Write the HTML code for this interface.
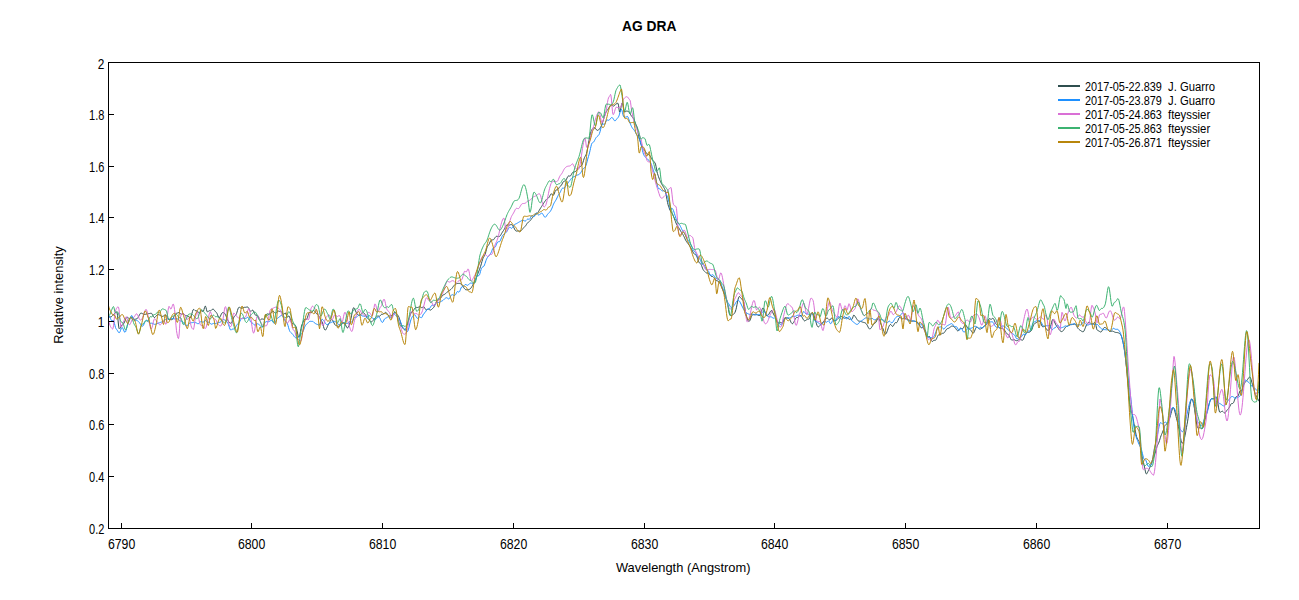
<!DOCTYPE html>
<html><head><meta charset="utf-8"><title>AG DRA</title><style>
html,body{margin:0;padding:0;background:#fff;width:1299px;height:600px;overflow:hidden}
svg{display:block}
text{font-family:"Liberation Sans",sans-serif;fill:#000}
.t{font-size:13.8px}
.lg{font-size:12.3px}
.ax{font-size:13px}
.title{font-size:14px;font-weight:bold}
</style></head><body>
<svg width="1299" height="600" viewBox="0 0 1299 600">
<defs><clipPath id="c"><rect x="108" y="62" width="1152" height="467"/></clipPath></defs>
<g clip-path="url(#c)" fill="none" stroke-width="1" stroke-linejoin="round">
<polyline stroke="#2f4f4f" points="108,317.8 108.5,317.4 109,317.1 109.5,317.0 110,317.0 110.5,316.9 111,316.8 111.5,316.6 112,316.2 112.5,315.7 113,315.1 113.5,314.6 114,314.0 114.5,313.5 115,312.9 115.5,312.5 116,312.1 116.5,311.9 117,312.3 117.5,315.3 118,320.1 118.5,325.0 119,328.4 119.5,328.9 120,328.4 120.5,327.5 121,326.5 121.5,325.5 122,324.7 122.5,324.3 123,324.1 123.5,323.8 124,323.2 124.5,322.2 125,320.9 125.5,319.5 126,318.3 126.5,317.5 127,317.2 127.5,317.3 128,317.7 128.5,318.1 129,318.4 129.5,318.6 130,318.4 130.5,318.0 131,317.5 131.5,317.1 132,316.9 132.5,317.2 133,317.8 133.5,318.5 134,319.1 134.5,319.3 135,319.3 135.5,319.2 136,319.0 136.5,318.8 137,318.7 137.5,318.3 138,317.7 138.5,316.8 139,315.8 139.5,314.8 140,313.9 140.5,313.3 141,313.1 141.5,313.2 142,313.4 142.5,313.7 143,314.0 143.5,314.2 144,314.4 144.5,314.5 145,314.4 145.5,314.3 146,314.2 146.5,314.0 147,313.9 147.5,313.8 148,313.7 148.5,313.6 149,313.6 149.5,313.5 150,313.4 150.5,313.3 151,313.2 151.5,313.3 152,313.9 152.5,314.8 153,315.8 153.5,316.8 154,317.4 154.5,317.5 155,317.3 155.5,316.7 156,316.1 156.5,315.5 157,315.0 157.5,314.7 158,314.6 158.5,314.6 159,314.7 159.5,315.0 160,315.3 160.5,315.6 161,315.9 161.5,316.2 162,316.4 162.5,316.4 163,316.3 163.5,316.0 164,315.6 164.5,315.2 165,315.0 165.5,315.0 166,315.2 166.5,315.8 167,316.8 167.5,317.9 168,318.7 168.5,319.4 169,319.6 169.5,319.5 170,319.5 170.5,319.5 171,319.6 171.5,319.7 172,319.6 172.5,319.4 173,318.8 173.5,317.7 174,316.5 174.5,315.4 175,314.5 175.5,313.8 176,313.4 176.5,313.3 177,313.2 177.5,313.0 178,312.7 178.5,312.5 179,312.6 179.5,312.9 180,313.4 180.5,313.9 181,314.3 181.5,314.4 182,314.1 182.5,313.8 183,313.5 183.5,313.7 184,314.1 184.5,314.8 185,315.3 185.5,315.6 186,315.7 186.5,315.7 187,315.8 187.5,315.9 188,316.2 188.5,316.5 189,317.0 189.5,317.5 190,318.0 190.5,317.8 191,316.9 191.5,315.2 192,313.3 192.5,311.4 193,310.0 193.5,309.4 194,309.5 194.5,310.0 195,310.5 195.5,310.7 196,310.7 196.5,310.8 197,310.9 197.5,311.3 198,311.8 198.5,312.4 199,312.8 199.5,313.0 200,312.6 200.5,311.9 201,311.1 201.5,310.7 202,310.9 202.5,311.3 203,311.5 203.5,311.0 204,309.5 204.5,307.6 205,306.3 205.5,306.2 206,307.6 206.5,309.7 207,311.4 207.5,311.9 208,311.7 208.5,311.1 209,310.8 209.5,310.7 210,310.8 210.5,310.8 211,310.6 211.5,310.2 212,309.6 212.5,309.3 213,309.1 213.5,309.3 214,309.7 214.5,310.4 215,311.0 215.5,311.7 216,312.2 216.5,312.7 217,313.5 217.5,314.7 218,316.0 218.5,317.1 219,317.6 219.5,317.5 220,316.8 220.5,315.9 221,314.8 221.5,313.8 222,313.0 222.5,312.6 223,312.5 223.5,312.5 224,312.8 224.5,313.2 225,313.9 225.5,314.8 226,315.9 226.5,317.1 227,318.4 227.5,319.6 228,320.6 228.5,321.4 229,322.1 229.5,322.7 230,323.1 230.5,323.2 231,323.1 231.5,322.7 232,321.9 232.5,320.8 233,319.4 233.5,318.0 234,316.8 234.5,316.2 235,315.8 235.5,315.4 236,314.7 236.5,313.7 237,312.1 237.5,310.4 238,308.8 238.5,307.7 239,307.3 239.5,307.3 240,307.6 240.5,307.9 241,308.2 241.5,308.3 242,308.2 242.5,308.0 243,307.7 243.5,307.5 244,307.3 244.5,307.3 245,307.3 245.5,307.3 246,307.2 246.5,307.1 247,306.9 247.5,307.0 248,307.2 248.5,307.9 249,308.8 249.5,309.8 250,310.8 250.5,311.3 251,311.3 251.5,311.0 252,310.5 252.5,310.2 253,310.3 253.5,311.0 254,312.1 254.5,313.4 255,314.5 255.5,315.2 256,315.4 256.5,315.4 257,315.2 257.5,315.3 258,315.9 258.5,317.0 259,318.4 259.5,319.5 260,320.0 260.5,319.9 261,319.4 261.5,319.0 262,318.9 262.5,319.0 263,319.2 263.5,319.3 264,319.0 264.5,318.3 265,317.3 265.5,316.1 266,315.0 266.5,314.3 267,314.0 267.5,313.9 268,314.0 268.5,314.1 269,314.1 269.5,313.9 270,313.7 270.5,313.3 271,312.9 271.5,312.4 272,312.0 272.5,311.7 273,311.5 273.5,311.5 274,311.9 274.5,312.4 275,312.9 275.5,313.2 276,313.1 276.5,312.6 277,312.0 277.5,311.4 278,311.1 278.5,311.1 279,311.3 279.5,311.4 280,311.4 280.5,311.3 281,311.4 281.5,311.8 282,312.4 282.5,313.3 283,314.0 283.5,314.3 284,314.2 284.5,313.5 285,313.0 285.5,313.0 286,314.1 286.5,315.5 287,316.8 287.5,317.2 288,316.7 288.5,316.0 289,315.9 289.5,316.6 290,318.1 290.5,319.9 291,321.5 291.5,322.7 292,323.3 292.5,323.6 293,323.8 293.5,323.9 294,324.3 294.5,324.7 295,325.3 295.5,325.9 296,326.7 296.5,328.2 297,330.5 297.5,333.0 298,335.3 298.5,336.8 299,337.3 299.5,336.3 300,334.1 300.5,331.4 301,328.5 301.5,326.0 302,324.5 302.5,323.4 303,322.2 303.5,320.9 304,319.9 304.5,319.4 305,319.3 305.5,319.4 306,319.6 306.5,319.3 307,318.6 307.5,317.3 308,315.7 308.5,314.2 309,313.0 309.5,312.3 310,312.4 310.5,312.7 311,312.9 311.5,312.7 312,312.1 312.5,311.3 313,310.7 313.5,310.4 314,310.5 314.5,311.0 315,311.7 315.5,312.4 316,313.1 316.5,313.7 317,314.1 317.5,314.5 318,315.0 318.5,315.5 319,316.3 319.5,317.2 320,318.2 320.5,319.2 321,320.1 321.5,320.9 322,321.8 322.5,323.0 323,324.6 323.5,326.5 324,328.2 324.5,329.5 325,330.1 325.5,330.0 326,329.4 326.5,328.5 327,327.5 327.5,326.3 328,325.2 328.5,324.2 329,323.3 329.5,322.5 330,321.6 330.5,320.7 331,320.0 331.5,319.5 332,319.5 332.5,320.0 333,320.9 333.5,321.9 334,323.0 334.5,324.0 335,324.8 335.5,325.3 336,325.5 336.5,325.7 337,325.9 337.5,326.1 338,326.2 338.5,326.3 339,326.2 339.5,326.0 340,325.7 340.5,325.3 341,324.9 341.5,324.4 342,324.0 342.5,323.6 343,323.2 343.5,322.8 344,322.8 344.5,323.0 345,323.8 345.5,324.8 346,326.0 346.5,327.0 347,327.7 347.5,327.9 348,327.6 348.5,326.9 349,325.8 349.5,324.4 350,322.8 350.5,320.8 351,318.5 351.5,315.8 352,313.1 352.5,310.6 353,308.8 353.5,307.8 354,307.8 354.5,308.6 355,309.8 355.5,310.9 356,312.0 356.5,313.0 357,313.9 357.5,314.5 358,315.0 358.5,315.2 359,315.3 359.5,315.3 360,315.1 360.5,314.7 361,314.2 361.5,313.8 362,313.4 362.5,313.0 363,312.8 363.5,312.8 364,313.0 364.5,313.5 365,314.3 365.5,315.1 366,315.9 366.5,316.7 367,317.5 367.5,318.1 368,318.7 368.5,319.2 369,319.7 369.5,320.3 370,320.8 370.5,321.4 371,321.8 371.5,321.9 372,321.7 372.5,321.2 373,320.6 373.5,319.9 374,319.2 374.5,318.6 375,318.1 375.5,317.7 376,317.3 376.5,316.9 377,316.5 377.5,316.1 378,316.0 378.5,316.1 379,316.2 379.5,316.3 380,316.0 380.5,315.4 381,314.7 381.5,314.3 382,314.2 382.5,314.3 383,314.3 383.5,314.0 384,313.5 384.5,313.0 385,312.6 385.5,312.4 386,312.5 386.5,312.9 387,313.6 387.5,314.3 388,315.0 388.5,315.5 389,315.9 389.5,316.0 390,315.9 390.5,315.8 391,315.6 391.5,315.5 392,315.3 392.5,315.0 393,314.6 393.5,314.1 394,313.3 394.5,312.3 395,312.0 395.5,312.3 396,312.9 396.5,313.6 397,314.4 397.5,315.0 398,315.5 398.5,316.3 399,317.3 399.5,318.9 400,320.7 400.5,322.7 401,324.4 401.5,325.8 402,326.8 402.5,327.6 403,328.3 403.5,329.0 404,329.5 404.5,329.8 405,329.8 405.5,329.3 406,328.3 406.5,327.0 407,325.6 407.5,324.0 408,322.3 408.5,320.6 409,318.8 409.5,317.2 410,315.6 410.5,314.2 411,313.1 411.5,312.4 412,311.9 412.5,311.4 413,310.9 413.5,310.2 414,309.5 414.5,308.7 415,308.1 415.5,307.6 416,307.4 416.5,307.4 417,307.5 417.5,307.5 418,307.5 418.5,307.2 419,306.9 419.5,306.7 420,306.7 420.5,306.9 421,307.3 421.5,307.6 422,307.6 422.5,307.3 423,306.9 423.5,306.6 424,306.8 424.5,307.5 425,308.5 425.5,309.3 426,309.8 426.5,309.9 427,309.7 427.5,309.4 428,309.1 428.5,309.1 429,309.3 429.5,309.7 430,310.0 430.5,310.1 431,309.9 431.5,309.5 432,309.0 432.5,308.6 433,308.1 433.5,307.6 434,306.9 434.5,305.9 435,304.8 435.5,303.6 436,302.5 436.5,301.4 437,300.6 437.5,300.0 438,299.6 438.5,299.3 439,299.1 439.5,299.0 440,298.7 440.5,298.2 441,297.6 441.5,296.9 442,296.2 442.5,295.5 443,295.1 443.5,294.8 444,294.6 444.5,294.4 445,294.1 445.5,293.7 446,293.2 446.5,292.7 447,292.2 447.5,291.8 448,291.4 448.5,291.0 449,290.7 449.5,290.4 450,290.1 450.5,289.7 451,289.3 451.5,288.8 452,288.3 452.5,287.6 453,286.9 453.5,286.2 454,285.6 454.5,285.0 455,284.5 455.5,284.1 456,283.9 456.5,283.7 457,283.6 457.5,283.5 458,283.4 458.5,283.4 459,283.4 459.5,283.4 460,283.5 460.5,283.7 461,284.1 461.5,284.5 462,285.1 462.5,285.8 463,286.5 463.5,287.3 464,288.0 464.5,288.6 465,289.2 465.5,289.6 466,289.8 466.5,289.8 467,289.8 467.5,289.7 468,289.6 468.5,289.6 469,289.5 469.5,289.3 470,289.0 470.5,288.6 471,288.0 471.5,287.2 472,286.4 472.5,285.5 473,284.5 473.5,283.6 474,282.7 474.5,281.7 475,280.6 475.5,279.5 476,278.3 476.5,277.2 477,276.0 477.5,274.8 478,273.5 478.5,272.2 479,270.8 479.5,269.5 480,268.1 480.5,266.6 481,265.0 481.5,263.2 482,261.4 482.5,259.8 483,258.3 483.5,257.3 484,256.5 484.5,255.7 485,254.6 485.5,253.1 486,251.2 486.5,249.2 487,247.6 487.5,246.5 488,245.7 488.5,245.0 489,244.3 489.5,243.3 490,242.1 490.5,241.1 491,240.3 491.5,240.0 492,239.9 492.5,239.9 493,239.9 493.5,239.7 494,239.2 494.5,238.4 495,237.7 495.5,237.0 496,236.5 496.5,236.3 497,236.3 497.5,236.4 498,236.5 498.5,236.6 499,236.6 499.5,236.4 500,236.0 500.5,235.4 501,234.6 501.5,233.7 502,232.8 502.5,232.0 503,231.2 503.5,230.5 504,229.7 504.5,228.8 505,227.8 505.5,226.8 506,225.9 506.5,225.2 507,224.9 507.5,224.8 508,225.0 508.5,225.1 509,225.2 509.5,225.1 510,224.9 510.5,224.7 511,224.6 511.5,224.6 512,224.9 512.5,225.4 513,226.0 513.5,226.9 514,227.9 514.5,229.0 515,229.9 515.5,230.6 516,230.9 516.5,231.1 517,231.1 517.5,231.0 518,231.0 518.5,230.9 519,231.0 519.5,231.1 520,231.1 520.5,231.0 521,230.8 521.5,230.3 522,229.7 522.5,229.1 523,228.5 523.5,227.9 524,227.4 524.5,226.9 525,226.4 525.5,225.9 526,225.2 526.5,224.4 527,223.6 527.5,223.0 528,222.5 528.5,222.0 529,221.7 529.5,221.3 530,220.8 530.5,220.3 531,219.6 531.5,218.9 532,218.2 532.5,217.5 533,216.9 533.5,216.3 534,215.8 534.5,215.4 535,215.0 535.5,214.6 536,214.3 536.5,213.9 537,213.5 537.5,213.0 538,212.4 538.5,211.6 539,210.7 539.5,209.9 540,209.0 540.5,208.2 541,207.4 541.5,206.6 542,205.9 542.5,205.1 543,204.3 543.5,203.5 544,202.7 544.5,201.9 545,201.2 545.5,200.5 546,199.8 546.5,199.3 547,198.8 547.5,198.5 548,198.2 548.5,197.9 549,197.4 549.5,196.6 550,195.6 550.5,194.6 551,193.9 551.5,193.8 552,194.3 552.5,195.0 553,195.4 553.5,195.2 554,194.3 554.5,193.0 555,191.7 555.5,190.7 556,190.1 556.5,189.9 557,189.9 557.5,189.8 558,189.4 558.5,188.7 559,187.8 559.5,187.1 560,186.5 560.5,186.1 561,185.6 561.5,185.0 562,184.1 562.5,183.1 563,182.2 563.5,181.6 564,181.3 564.5,181.1 565,181.0 565.5,180.7 566,180.1 566.5,179.2 567,178.1 567.5,177.1 568,176.3 568.5,175.9 569,175.9 569.5,176.1 570,176.1 570.5,175.9 571,175.2 571.5,174.3 572,173.3 572.5,172.6 573,172.2 573.5,172.0 574,172.0 574.5,171.9 575,171.8 575.5,171.5 576,171.0 576.5,170.4 577,169.7 577.5,169.1 578,168.4 578.5,167.9 579,167.4 579.5,167.0 580,166.6 580.5,166.4 581,166.0 581.5,165.6 582,164.8 582.5,163.7 583,162.2 583.5,160.6 584,158.9 584.5,157.5 585,156.6 585.5,155.9 586,154.8 586.5,153.4 587,151.3 587.5,148.8 588,146.0 588.5,143.1 589,140.3 589.5,137.7 590,135.3 590.5,133.3 591,131.7 591.5,130.5 592,129.5 592.5,128.8 593,128.3 593.5,127.9 594,127.7 594.5,127.7 595,128.0 595.5,128.5 596,129.2 596.5,129.9 597,130.3 597.5,130.4 598,130.4 598.5,130.0 599,129.5 599.5,128.9 600,128.2 600.5,127.4 601,126.5 601.5,125.4 602,124.1 602.5,122.7 603,121.2 603.5,119.6 604,117.8 604.5,116.1 605,114.5 605.5,113.2 606,112.1 606.5,111.2 607,110.5 607.5,109.9 608,109.2 608.5,108.4 609,107.5 609.5,106.6 610,105.8 610.5,105.2 611,104.8 611.5,104.8 612,105.1 612.5,105.6 613,106.0 613.5,106.1 614,105.9 614.5,105.6 615,105.1 615.5,104.6 616,104.1 616.5,103.7 617,103.5 617.5,103.3 618,103.3 618.5,105.2 619,109.1 619.5,112.0 620,112.0 620.5,110.0 621,107.3 621.5,104.6 622,103.1 622.5,103.4 623,105.4 623.5,108.2 624,110.7 624.5,112.1 625,111.9 625.5,111.6 626,111.3 626.5,111.1 627,111.1 627.5,111.2 628,111.4 628.5,111.6 629,112.1 629.5,112.8 630,113.6 630.5,114.5 631,115.3 631.5,116.0 632,116.6 632.5,117.2 633,117.9 633.5,118.7 634,119.7 634.5,120.9 635,122.1 635.5,123.4 636,124.5 636.5,125.5 637,126.8 637.5,129.3 638,132.4 638.5,135.2 639,137.2 639.5,139.1 640,140.9 640.5,142.7 641,144.3 641.5,145.6 642,146.8 642.5,147.8 643,148.6 643.5,149.2 644,149.7 644.5,150.3 645,150.8 645.5,151.6 646,152.4 646.5,153.2 647,153.9 647.5,154.3 648,154.5 648.5,154.6 649,154.8 649.5,155.2 650,155.8 650.5,156.7 651,157.6 651.5,158.6 652,159.4 652.5,160.1 653,160.6 653.5,161.1 654,161.6 654.5,162.2 655,163.0 655.5,164.1 656,166.3 656.5,169.1 657,171.7 657.5,173.6 658,175.2 658.5,176.7 659,178.0 659.5,179.3 660,180.5 660.5,181.6 661,182.7 661.5,183.7 662,184.6 662.5,185.4 663,186.2 663.5,187.0 664,187.8 664.5,188.7 665,189.8 665.5,191.7 666,194.1 666.5,196.9 667,199.7 667.5,202.4 668,204.5 668.5,206.2 669,207.6 669.5,209.0 670,210.1 670.5,211.1 671,211.9 671.5,212.6 672,213.4 672.5,214.3 673,215.3 673.5,216.5 674,217.7 674.5,219.0 675,220.4 675.5,221.7 676,223.0 676.5,224.1 677,225.1 677.5,225.9 678,226.7 678.5,227.4 679,228.2 679.5,229.0 680,229.9 680.5,230.8 681,231.7 681.5,232.5 682,233.2 682.5,233.9 683,234.7 683.5,235.6 684,236.6 684.5,237.7 685,238.8 685.5,239.9 686,240.8 686.5,241.6 687,242.3 687.5,243.0 688,243.6 688.5,244.3 689,245.0 689.5,245.7 690,246.5 690.5,247.4 691,248.2 691.5,249.2 692,250.1 692.5,251.1 693,252.1 693.5,253.0 694,253.7 694.5,254.2 695,254.5 695.5,254.7 696,255.0 696.5,255.7 697,256.9 697.5,258.3 698,259.8 698.5,261.2 699,262.3 699.5,263.0 700,263.3 700.5,263.7 701,264.3 701.5,265.5 702,266.8 702.5,268.2 703,269.4 703.5,270.2 704,270.8 704.5,271.3 705,271.8 705.5,272.3 706,272.8 706.5,273.0 707,273.1 707.5,273.1 708,273.1 708.5,273.2 709,273.5 709.5,274.2 710,275.0 710.5,275.7 711,276.2 711.5,276.4 712,276.5 712.5,276.5 713,276.6 713.5,277.1 714,277.7 714.5,278.5 715,279.2 715.5,279.9 716,280.4 716.5,280.7 717,280.8 717.5,280.9 718,281.1 718.5,281.4 719,282.0 719.5,282.7 720,283.6 720.5,284.6 721,285.7 721.5,286.7 722,287.9 722.5,289.1 723,290.4 723.5,291.7 724,293.0 724.5,294.4 725,295.7 725.5,296.9 726,298.1 726.5,299.3 727,300.8 727.5,303.1 728,306.1 728.5,309.3 729,312.1 729.5,314.3 730,315.3 730.5,315.4 731,315.5 731.5,315.5 732,315.3 732.5,314.9 733,314.5 733.5,314.3 734,313.8 734.5,313.2 735,312.3 735.5,311.0 736,309.4 736.5,307.2 737,304.7 737.5,302.1 738,299.7 738.5,297.8 739,296.7 739.5,296.5 740,297.0 740.5,297.7 741,298.4 741.5,298.8 742,299.1 742.5,299.6 743,300.3 743.5,301.5 744,303.6 744.5,306.3 745,309.1 745.5,311.7 746,314.0 746.5,316.1 747,317.9 747.5,319.5 748,320.7 748.5,321.3 749,321.4 749.5,321.1 750,320.3 750.5,319.1 751,317.7 751.5,316.4 752,315.4 752.5,314.8 753,314.6 753.5,314.7 754,314.8 754.5,314.7 755,314.4 755.5,314.2 756,314.0 756.5,314.2 757,314.6 757.5,315.1 758,315.5 758.5,315.5 759,315.5 759.5,315.5 760,315.4 760.5,314.6 761,313.2 761.5,311.4 762,309.6 762.5,308.3 763,307.9 763.5,308.3 764,309.3 764.5,310.6 765,312.0 765.5,313.4 766,314.7 766.5,315.6 767,315.9 767.5,315.8 768,315.4 768.5,314.8 769,314.0 769.5,313.1 770,312.1 770.5,311.3 771,310.7 771.5,310.6 772,311.0 772.5,311.9 773,312.9 773.5,314.1 774,315.1 774.5,315.9 775,316.6 775.5,317.3 776,318.3 776.5,319.7 777,321.0 777.5,322.2 778,323.1 778.5,323.4 779,323.2 779.5,322.8 780,322.5 780.5,322.4 781,322.5 781.5,322.8 782,323.1 782.5,322.9 783,322.0 783.5,320.6 784,319.2 784.5,318.0 785,317.6 785.5,317.6 786,317.7 786.5,317.8 787,317.9 787.5,318.0 788,318.1 788.5,318.2 789,318.5 789.5,319.1 790,320.1 790.5,321.2 791,322.3 791.5,323.1 792,323.6 792.5,323.7 793,323.4 793.5,322.7 794,321.8 794.5,320.7 795,319.6 795.5,318.6 796,317.9 796.5,317.5 797,317.4 797.5,317.5 798,317.2 798.5,316.8 799,316.3 799.5,315.8 800,315.5 800.5,315.5 801,315.7 801.5,316.3 802,317.1 802.5,318.1 803,319.0 803.5,319.9 804,320.5 804.5,320.9 805,320.8 805.5,320.5 806,320.1 806.5,319.8 807,319.4 807.5,319.2 808,319.1 808.5,319.1 809,319.1 809.5,318.6 810,317.4 810.5,315.9 811,314.4 811.5,313.1 812,312.6 812.5,312.8 813,313.6 813.5,314.8 814,315.8 814.5,317.0 815,318.6 815.5,320.4 816,322.2 816.5,323.9 817,325.4 817.5,326.4 818,326.9 818.5,326.9 819,326.6 819.5,326.1 820,325.5 820.5,324.8 821,324.1 821.5,323.6 822,323.1 822.5,322.7 823,322.2 823.5,321.6 824,320.9 824.5,320.3 825,319.6 825.5,319.0 826,318.5 826.5,318.2 827,318.1 827.5,318.2 828,318.6 828.5,319.1 829,319.7 829.5,320.0 830,320.0 830.5,319.4 831,318.6 831.5,318.0 832,318.1 832.5,318.7 833,319.5 833.5,320.3 834,320.7 834.5,320.8 835,320.7 835.5,320.5 836,320.3 836.5,320.1 837,319.7 837.5,319.2 838,318.7 838.5,318.1 839,317.5 839.5,317.0 840,316.6 840.5,316.4 841,316.4 841.5,316.6 842,316.9 842.5,317.2 843,317.5 843.5,317.8 844,318.1 844.5,318.2 845,318.1 845.5,317.9 846,317.7 846.5,317.5 847,317.6 847.5,317.9 848,318.4 848.5,318.9 849,319.2 849.5,319.3 850,319.0 850.5,318.9 851,319.1 851.5,319.4 852,319.3 852.5,318.3 853,316.7 853.5,315.3 854,315.0 854.5,315.6 855,316.3 855.5,317.0 856,317.8 856.5,318.6 857,319.4 857.5,320.2 858,320.7 858.5,321.0 859,321.1 859.5,321.2 860,321.3 860.5,321.3 861,321.5 861.5,321.7 862,321.9 862.5,322.1 863,322.2 863.5,322.4 864,322.5 864.5,322.6 865,322.8 865.5,323.1 866,323.5 866.5,324.0 867,324.9 867.5,325.8 868,326.9 868.5,327.8 869,328.5 869.5,329.0 870,329.0 870.5,328.7 871,328.1 871.5,327.4 872,326.6 872.5,325.8 873,325.0 873.5,324.4 874,323.8 874.5,323.4 875,323.1 875.5,322.7 876,322.0 876.5,321.0 877,320.0 877.5,319.1 878,318.6 878.5,318.6 879,319.0 879.5,319.9 880,321.1 880.5,322.6 881,324.2 881.5,325.5 882,326.5 882.5,327.5 883,328.8 883.5,330.2 884,331.6 884.5,332.9 885,333.7 885.5,334.0 886,333.8 886.5,333.0 887,331.7 887.5,330.3 888,328.9 888.5,327.5 889,326.3 889.5,325.3 890,324.7 890.5,324.4 891,324.7 891.5,325.3 892,326.0 892.5,326.4 893,326.3 893.5,325.6 894,324.6 894.5,323.6 895,322.9 895.5,322.6 896,322.6 896.5,322.7 897,322.4 897.5,321.5 898,320.3 898.5,319.0 899,318.0 899.5,317.5 900,317.4 900.5,317.7 901,318.3 901.5,318.8 902,319.1 902.5,319.0 903,318.5 903.5,318.0 904,317.7 904.5,317.7 905,317.9 905.5,318.3 906,318.7 906.5,319.2 907,319.5 907.5,319.7 908,319.8 908.5,319.9 909,320.0 909.5,320.2 910,320.5 910.5,320.8 911,321.1 911.5,321.2 912,321.2 912.5,321.2 913,321.1 913.5,321.0 914,321.0 914.5,321.1 915,321.1 915.5,321.3 916,321.6 916.5,321.9 917,322.1 917.5,322.3 918,322.6 918.5,323.1 919,323.9 919.5,324.9 920,326.1 920.5,327.1 921,327.7 921.5,327.8 922,327.7 922.5,327.6 923,327.6 923.5,328.0 924,328.9 924.5,330.0 925,331.4 925.5,332.9 926,334.5 926.5,335.7 927,336.6 927.5,337.0 928,337.0 928.5,336.7 929,336.4 929.5,336.5 930,337.2 930.5,338.5 931,339.9 931.5,341.0 932,341.5 932.5,341.4 933,341.0 933.5,340.6 934,340.3 934.5,340.3 935,340.4 935.5,340.3 936,339.7 936.5,338.8 937,337.6 937.5,336.5 938,335.5 938.5,334.8 939,334.7 939.5,334.8 940,334.7 940.5,334.5 941,334.2 941.5,333.9 942,333.5 942.5,333.3 943,333.3 943.5,333.2 944,332.9 944.5,332.4 945,331.6 945.5,330.8 946,330.0 946.5,329.3 947,328.9 947.5,328.6 948,328.4 948.5,328.3 949,328.0 949.5,327.7 950,327.3 950.5,326.9 951,326.5 951.5,326.2 952,326.0 952.5,326.1 953,326.2 953.5,326.5 954,326.8 954.5,327.1 955,327.6 955.5,328.1 956,328.9 956.5,329.7 957,330.4 957.5,330.8 958,330.9 958.5,330.6 959,329.9 959.5,329.1 960,328.4 960.5,328.1 961,328.2 961.5,328.5 962,328.7 962.5,328.8 963,328.5 963.5,327.8 964,326.7 964.5,325.7 965,325.0 965.5,324.9 966,325.2 966.5,326.0 967,326.9 967.5,327.8 968,328.4 968.5,328.9 969,329.1 969.5,329.2 970,329.4 970.5,329.8 971,330.4 971.5,331.2 972,332.0 972.5,332.8 973,333.2 973.5,333.1 974,332.3 974.5,331.2 975,329.9 975.5,328.7 976,327.7 976.5,327.1 977,327.0 977.5,327.2 978,327.7 978.5,328.2 979,328.6 979.5,329.0 980,329.1 980.5,329.0 981,328.8 981.5,328.5 982,328.1 982.5,327.6 983,327.1 983.5,326.6 984,326.2 984.5,325.9 985,325.6 985.5,325.3 986,324.9 986.5,324.3 987,323.4 987.5,322.3 988,321.2 988.5,320.0 989,319.0 989.5,318.6 990,318.7 990.5,319.1 991,319.3 991.5,319.2 992,318.8 992.5,318.4 993,318.3 993.5,318.7 994,319.6 994.5,320.9 995,322.1 995.5,323.1 996,323.9 996.5,324.4 997,324.9 997.5,325.5 998,326.2 998.5,326.9 999,327.6 999.5,328.0 1000,328.2 1000.5,328.3 1001,328.2 1001.5,328.2 1002,328.2 1002.5,328.4 1003,328.6 1003.5,329.0 1004,329.5 1004.5,330.1 1005,330.8 1005.5,331.6 1006,332.5 1006.5,333.3 1007,333.8 1007.5,334.1 1008,334.4 1008.5,334.7 1009,335.3 1009.5,336.3 1010,337.4 1010.5,338.5 1011,339.4 1011.5,340.0 1012,340.1 1012.5,340.0 1013,339.8 1013.5,339.7 1014,339.7 1014.5,339.8 1015,340.1 1015.5,340.4 1016,340.6 1016.5,340.7 1017,340.7 1017.5,340.5 1018,340.2 1018.5,339.9 1019,339.5 1019.5,339.2 1020,339.1 1020.5,339.3 1021,339.6 1021.5,339.9 1022,340.3 1022.5,340.3 1023,339.8 1023.5,338.9 1024,337.7 1024.5,336.4 1025,335.1 1025.5,334.0 1026,333.3 1026.5,332.8 1027,332.4 1027.5,332.3 1028,332.2 1028.5,332.3 1029,332.2 1029.5,332.1 1030,331.9 1030.5,331.5 1031,331.0 1031.5,330.2 1032,329.1 1032.5,327.7 1033,326.4 1033.5,325.2 1034,324.3 1034.5,323.7 1035,323.2 1035.5,323.0 1036,322.8 1036.5,322.5 1037,322.1 1037.5,321.7 1038,321.3 1038.5,321.1 1039,321.1 1039.5,321.3 1040,321.7 1040.5,322.5 1041,323.6 1041.5,324.9 1042,326.0 1042.5,326.7 1043,326.8 1043.5,326.7 1044,326.5 1044.5,326.4 1045,326.8 1045.5,327.5 1046,328.4 1046.5,329.2 1047,329.9 1047.5,330.2 1048,330.3 1048.5,330.3 1049,330.1 1049.5,329.5 1050,328.3 1050.5,326.7 1051,324.7 1051.5,322.7 1052,320.9 1052.5,319.8 1053,319.4 1053.5,319.9 1054,320.7 1054.5,321.8 1055,323.0 1055.5,324.1 1056,325.1 1056.5,325.9 1057,326.6 1057.5,327.2 1058,327.9 1058.5,328.6 1059,329.4 1059.5,330.1 1060,330.7 1060.5,331.1 1061,331.4 1061.5,331.6 1062,331.5 1062.5,331.3 1063,330.8 1063.5,330.2 1064,329.5 1064.5,328.7 1065,327.9 1065.5,327.2 1066,326.8 1066.5,326.4 1067,326.2 1067.5,326.0 1068,325.8 1068.5,325.6 1069,325.5 1069.5,325.2 1070,325.0 1070.5,324.7 1071,324.4 1071.5,324.3 1072,324.2 1072.5,324.3 1073,324.4 1073.5,324.4 1074,324.2 1074.5,324.1 1075,324.1 1075.5,324.4 1076,325.1 1076.5,325.9 1077,326.8 1077.5,327.7 1078,328.4 1078.5,328.9 1079,329.4 1079.5,329.8 1080,330.2 1080.5,330.5 1081,330.9 1081.5,331.2 1082,331.5 1082.5,331.7 1083,331.8 1083.5,331.6 1084,330.9 1084.5,329.8 1085,328.6 1085.5,327.3 1086,326.0 1086.5,324.9 1087,324.0 1087.5,323.4 1088,322.8 1088.5,322.3 1089,322.2 1089.5,322.4 1090,322.7 1090.5,323.2 1091,323.5 1091.5,323.8 1092,323.9 1092.5,323.8 1093,323.7 1093.5,323.4 1094,323.0 1094.5,322.6 1095,322.4 1095.5,323.3 1096,325.6 1096.5,328.2 1097,329.8 1097.5,330.3 1098,330.6 1098.5,330.8 1099,331.0 1099.5,331.4 1100,331.7 1100.5,332.0 1101,331.9 1101.5,331.6 1102,330.9 1102.5,330.0 1103,329.1 1103.5,328.3 1104,327.7 1104.5,327.5 1105,327.5 1105.5,327.7 1106,328.0 1106.5,328.4 1107,328.9 1107.5,329.4 1108,329.9 1108.5,330.4 1109,330.9 1109.5,331.3 1110,331.5 1110.5,331.5 1111,331.4 1111.5,331.3 1112,331.1 1112.5,331.1 1113,331.2 1113.5,331.5 1114,331.8 1114.5,332.0 1115,332.3 1115.5,332.4 1116,332.5 1116.5,332.5 1117,332.6 1117.5,332.6 1118,332.7 1118.5,332.9 1119,333.2 1119.5,333.5 1120,334.0 1120.5,334.6 1121,335.3 1121.5,336.4 1122,338.0 1122.5,340.0 1123,342.3 1123.5,344.7 1124,347.2 1124.5,350.3 1125,354.0 1125.5,358.2 1126,362.8 1126.5,367.9 1127,373.0 1127.5,378.1 1128,383.7 1128.5,389.9 1129,395.9 1129.5,401.1 1130,404.8 1130.5,407.2 1131,409.2 1131.5,411.3 1132,413.4 1132.5,415.7 1133,418.3 1133.5,421.0 1134,423.8 1134.5,426.6 1135,429.4 1135.5,431.9 1136,434.3 1136.5,436.4 1137,438.0 1137.5,439.0 1138,439.8 1138.5,440.5 1139,441.4 1139.5,442.7 1140,444.6 1140.5,447.2 1141,450.3 1141.5,453.4 1142,456.2 1142.5,458.8 1143,460.9 1143.5,462.6 1144,464.7 1144.5,467.1 1145,469.6 1145.5,471.9 1146,473.4 1146.5,474.0 1147,473.6 1147.5,472.6 1148,471.4 1148.5,470.3 1149,469.3 1149.5,468.2 1150,467.1 1150.5,465.7 1151,464.3 1151.5,462.8 1152,461.3 1152.5,459.9 1153,458.7 1153.5,457.6 1154,456.4 1154.5,455.1 1155,453.5 1155.5,451.8 1156,450.0 1156.5,448.2 1157,446.6 1157.5,445.4 1158,444.3 1158.5,443.3 1159,442.1 1159.5,440.6 1160,438.9 1160.5,437.3 1161,435.8 1161.5,434.5 1162,433.4 1162.5,432.2 1163,431.0 1163.5,429.6 1164,428.1 1164.5,426.6 1165,425.5 1165.5,424.9 1166,424.4 1166.5,424.0 1167,423.6 1167.5,423.0 1168,422.4 1168.5,421.5 1169,420.3 1169.5,418.9 1170,417.2 1170.5,415.5 1171,413.6 1171.5,411.7 1172,410.0 1172.5,408.6 1173,407.8 1173.5,407.8 1174,408.6 1174.5,410.0 1175,412.0 1175.5,414.2 1176,416.4 1176.5,418.5 1177,420.3 1177.5,422.2 1178,424.3 1178.5,426.6 1179,429.3 1179.5,432.2 1180,435.1 1180.5,437.9 1181,440.3 1181.5,442.0 1182,443.0 1182.5,443.2 1183,442.7 1183.5,441.5 1184,439.9 1184.5,437.9 1185,435.6 1185.5,433.0 1186,430.2 1186.5,427.3 1187,424.6 1187.5,421.9 1188,418.7 1188.5,415.1 1189,411.4 1189.5,407.8 1190,404.6 1190.5,401.9 1191,400.1 1191.5,399.1 1192,399.0 1192.5,399.9 1193,401.4 1193.5,403.4 1194,405.9 1194.5,408.8 1195,412.1 1195.5,415.7 1196,419.5 1196.5,423.0 1197,425.8 1197.5,427.7 1198,428.3 1198.5,428.3 1199,428.0 1199.5,427.7 1200,427.6 1200.5,427.9 1201,428.4 1201.5,428.9 1202,428.9 1202.5,428.4 1203,427.2 1203.5,425.5 1204,423.5 1204.5,421.4 1205,419.4 1205.5,417.5 1206,415.6 1206.5,413.8 1207,411.9 1207.5,410.0 1208,408.0 1208.5,406.0 1209,404.2 1209.5,402.5 1210,401.1 1210.5,399.9 1211,399.1 1211.5,398.7 1212,398.6 1212.5,398.6 1213,398.6 1213.5,398.6 1214,398.6 1214.5,398.4 1215,398.2 1215.5,397.9 1216,397.6 1216.5,397.5 1217,398.7 1217.5,401.0 1218,404.0 1218.5,407.1 1219,410.0 1219.5,411.9 1220,412.3 1220.5,412.2 1221,411.9 1221.5,411.5 1222,411.3 1222.5,411.2 1223,411.6 1223.5,412.2 1224,412.7 1224.5,413.0 1225,412.8 1225.5,412.3 1226,411.6 1226.5,410.9 1227,410.2 1227.5,409.7 1228,409.2 1228.5,408.6 1229,407.9 1229.5,407.0 1230,406.0 1230.5,404.9 1231,404.1 1231.5,403.6 1232,403.5 1232.5,403.5 1233,403.3 1233.5,402.7 1234,401.6 1234.5,400.2 1235,398.8 1235.5,397.6 1236,396.8 1236.5,396.6 1237,396.6 1237.5,396.6 1238,396.2 1238.5,395.1 1239,393.6 1239.5,392.0 1240,390.9 1240.5,390.5 1241,390.6 1241.5,390.6 1242,390.1 1242.5,389.0 1243,387.4 1243.5,385.7 1244,384.2 1244.5,383.0 1245,382.3 1245.5,381.8 1246,381.4 1246.5,380.9 1247,380.3 1247.5,379.6 1248,378.9 1248.5,378.1 1249,377.4 1249.5,377.0 1250,377.0 1250.5,377.8 1251,379.2 1251.5,381.0 1252,382.9 1252.5,384.6 1253,386.2 1253.5,387.8 1254,389.6 1254.5,391.4 1255,393.2 1255.5,394.5 1256,395.6 1256.5,396.6 1257,397.4 1257.5,398.3 1258,399.2 1258.5,400.2 1259,401.3"/>
<polyline stroke="#1e90ff" points="108,318.0 108.5,317.3 109,316.7 109.5,316.6 110,317.3 110.5,318.4 111,319.7 111.5,320.6 112,320.9 112.5,320.6 113,320.2 113.5,320.5 114,321.6 114.5,323.6 115,325.7 115.5,327.5 116,328.6 116.5,329.3 117,329.9 117.5,330.7 118,331.6 118.5,332.4 119,332.8 119.5,332.6 120,331.8 120.5,330.5 121,329.0 121.5,327.9 122,327.4 122.5,327.8 123,328.7 123.5,329.9 124,331.1 124.5,332.0 125,332.3 125.5,331.8 126,330.5 126.5,328.7 127,326.7 127.5,324.9 128,323.5 128.5,322.4 129,321.3 129.5,320.2 130,318.9 130.5,317.4 131,316.2 131.5,315.6 132,315.7 132.5,316.4 133,317.6 133.5,318.8 134,319.9 134.5,320.5 135,320.7 135.5,320.5 136,320.3 136.5,320.2 137,320.3 137.5,320.7 138,321.2 138.5,321.7 139,322.2 139.5,322.7 140,323.5 140.5,324.3 141,325.1 141.5,325.7 142,326.1 142.5,326.2 143,325.9 143.5,325.1 144,324.0 144.5,322.8 145,321.7 145.5,320.8 146,320.3 146.5,320.2 147,320.3 147.5,320.5 148,321.0 148.5,321.7 149,322.3 149.5,322.9 150,323.2 150.5,323.3 151,323.3 151.5,323.2 152,323.2 152.5,323.4 153,323.6 153.5,323.9 154,324.1 154.5,324.3 155,324.4 155.5,324.3 156,324.2 156.5,323.9 157,323.7 157.5,323.5 158,323.3 158.5,323.1 159,323.0 159.5,322.8 160,322.6 160.5,322.4 161,322.2 161.5,322.0 162,321.8 162.5,321.7 163,321.5 163.5,321.2 164,320.8 164.5,320.4 165,320.0 165.5,319.6 166,319.3 166.5,319.1 167,319.0 167.5,318.9 168,319.0 168.5,319.1 169,319.2 169.5,319.3 170,319.2 170.5,319.0 171,318.7 171.5,318.5 172,318.4 172.5,318.5 173,318.6 173.5,318.8 174,318.9 174.5,318.9 175,318.7 175.5,318.6 176,318.5 176.5,318.5 177,318.6 177.5,318.9 178,319.3 178.5,319.7 179,320.1 179.5,320.5 180,320.8 180.5,321.0 181,321.1 181.5,321.1 182,321.2 182.5,321.5 183,322.1 183.5,322.8 184,323.5 184.5,324.3 185,324.9 185.5,325.3 186,325.5 186.5,325.6 187,325.5 187.5,325.3 188,324.9 188.5,324.3 189,323.7 189.5,323.3 190,323.0 190.5,322.8 191,322.7 191.5,322.7 192,322.7 192.5,322.6 193,322.5 193.5,322.4 194,322.4 194.5,322.4 195,322.4 195.5,322.6 196,322.8 196.5,323.0 197,323.3 197.5,323.6 198,323.7 198.5,323.6 199,323.3 199.5,322.8 200,322.2 200.5,321.7 201,321.5 201.5,321.6 202,321.9 202.5,322.1 203,322.3 203.5,322.1 204,321.7 204.5,321.0 205,320.5 205.5,320.4 206,320.8 206.5,321.5 207,322.2 207.5,322.5 208,322.4 208.5,322.2 209,322.2 209.5,322.5 210,323.1 210.5,323.7 211,324.1 211.5,324.2 212,324.1 212.5,323.8 213,323.5 213.5,323.4 214,323.3 214.5,323.4 215,323.5 215.5,323.5 216,323.4 216.5,323.2 217,323.0 217.5,322.8 218,322.6 218.5,322.5 219,322.4 219.5,322.4 220,322.2 220.5,322.0 221,321.6 221.5,321.0 222,320.4 222.5,319.9 223,319.5 223.5,319.4 224,319.6 224.5,319.9 225,320.3 225.5,320.6 226,321.0 226.5,321.4 227,321.9 227.5,322.5 228,323.5 228.5,324.7 229,326.1 229.5,327.7 230,329.1 230.5,329.9 231,330.1 231.5,329.8 232,329.3 232.5,329.1 233,329.0 233.5,329.0 234,328.8 234.5,328.5 235,328.0 235.5,327.2 236,326.4 236.5,325.6 237,324.8 237.5,324.2 238,323.7 238.5,323.2 239,322.6 239.5,321.9 240,321.1 240.5,320.1 241,319.2 241.5,318.5 242,318.1 242.5,318.0 243,318.0 243.5,318.2 244,318.4 244.5,318.6 245,318.6 245.5,318.6 246,318.3 246.5,318.0 247,317.6 247.5,317.3 248,317.3 248.5,317.8 249,318.6 249.5,319.6 250,320.6 250.5,321.7 251,322.4 251.5,322.7 252,322.9 252.5,323.1 253,323.5 253.5,324.1 254,324.7 254.5,325.0 255,325.0 255.5,324.7 256,324.4 256.5,324.1 257,323.9 257.5,323.8 258,323.8 258.5,324.0 259,324.5 259.5,325.0 260,325.6 260.5,326.2 261,326.7 261.5,327.0 262,327.0 262.5,326.7 263,326.0 263.5,325.2 264,324.2 264.5,323.3 265,322.5 265.5,321.9 266,321.6 266.5,321.6 267,321.6 267.5,321.7 268,321.7 268.5,321.7 269,321.6 269.5,321.4 270,321.1 270.5,320.7 271,320.4 271.5,320.4 272,320.6 272.5,321.2 273,322.0 273.5,322.8 274,323.2 274.5,323.3 275,322.8 275.5,321.8 276,320.7 276.5,319.6 277,318.7 277.5,318.1 278,317.8 278.5,317.5 279,317.1 279.5,316.7 280,316.3 280.5,315.9 281,315.6 281.5,315.4 282,315.6 282.5,316.0 283,316.8 283.5,317.8 284,318.8 284.5,319.8 285,320.7 285.5,321.3 286,321.8 286.5,322.3 287,323.0 287.5,324.0 288,325.5 288.5,327.3 289,329.1 289.5,330.6 290,331.6 290.5,332.2 291,332.7 291.5,333.1 292,333.6 292.5,334.1 293,334.7 293.5,335.4 294,336.2 294.5,336.9 295,337.4 295.5,337.7 296,337.7 296.5,337.6 297,337.6 297.5,337.6 298,337.5 298.5,337.2 299,336.7 299.5,336.0 300,335.4 300.5,334.9 301,334.3 301.5,333.8 302,333.2 302.5,332.4 303,331.4 303.5,330.2 304,328.9 304.5,327.5 305,326.3 305.5,325.4 306,324.7 306.5,324.2 307,323.8 307.5,323.4 308,322.9 308.5,322.3 309,321.8 309.5,321.5 310,321.3 310.5,321.3 311,321.4 311.5,321.4 312,321.3 312.5,321.4 313,321.5 313.5,321.9 314,322.4 314.5,322.8 315,323.2 315.5,323.6 316,323.9 316.5,324.1 317,324.3 317.5,324.5 318,324.8 318.5,325.0 319,325.2 319.5,324.9 320,323.8 320.5,322.4 321,320.9 321.5,319.8 322,319.3 322.5,319.4 323,319.8 323.5,320.3 324,320.9 324.5,321.8 325,322.7 325.5,323.6 326,324.1 326.5,324.4 327,324.6 327.5,324.5 328,324.2 328.5,323.9 329,323.5 329.5,323.1 330,322.9 330.5,322.7 331,322.5 331.5,322.3 332,322.0 332.5,321.8 333,321.6 333.5,321.4 334,321.4 334.5,321.4 335,321.6 335.5,321.8 336,322.2 336.5,322.6 337,323.1 337.5,323.6 338,324.0 338.5,324.4 339,324.5 339.5,324.5 340,324.4 340.5,324.2 341,324.0 341.5,323.7 342,323.3 342.5,323.0 343,322.7 343.5,322.5 344,322.5 344.5,322.7 345,322.9 345.5,323.2 346,323.3 346.5,323.5 347,323.5 347.5,323.3 348,323.0 348.5,322.6 349,322.0 349.5,321.6 350,321.2 350.5,321.2 351,321.5 351.5,321.9 352,322.0 352.5,321.5 353,320.4 353.5,319.1 354,318.0 354.5,317.4 355,317.3 355.5,317.3 356,317.3 356.5,317.1 357,316.7 357.5,316.3 358,315.8 358.5,315.4 359,315.1 359.5,314.9 360,314.9 360.5,315.0 361,315.3 361.5,315.5 362,315.8 362.5,316.0 363,316.1 363.5,316.1 364,316.1 364.5,316.2 365,316.4 365.5,316.9 366,317.4 366.5,317.7 367,317.4 367.5,316.7 368,315.9 368.5,315.3 369,315.3 369.5,315.6 370,316.2 370.5,316.8 371,317.3 371.5,317.7 372,317.9 372.5,318.0 373,318.2 373.5,318.5 374,318.9 374.5,319.3 375,319.6 375.5,319.6 376,319.2 376.5,318.6 377,318.0 377.5,317.4 378,317.1 378.5,316.9 379,317.0 379.5,317.5 380,318.4 380.5,319.6 381,320.7 381.5,321.7 382,322.3 382.5,322.4 383,321.9 383.5,321.0 384,319.9 384.5,319.0 385,318.6 385.5,318.3 386,318.1 386.5,317.8 387,317.4 387.5,317.1 388,316.8 388.5,316.7 389,316.9 389.5,317.2 390,317.6 390.5,317.7 391,317.5 391.5,317.1 392,316.5 392.5,315.4 393,314.1 393.5,313.6 394,313.8 394.5,314.2 395,314.7 395.5,315.2 396,315.7 396.5,316.2 397,316.7 397.5,317.2 398,317.6 398.5,318.1 399,318.7 399.5,319.4 400,320.4 400.5,321.6 401,323.0 401.5,324.4 402,325.6 402.5,326.6 403,327.4 403.5,328.0 404,328.5 404.5,329.1 405,329.7 405.5,330.3 406,330.9 406.5,331.5 407,331.8 407.5,331.6 408,330.7 408.5,329.2 409,327.3 409.5,325.1 410,323.0 410.5,321.1 411,319.6 411.5,318.3 412,317.2 412.5,316.4 413,315.8 413.5,315.3 414,315.0 414.5,314.8 415,315.0 415.5,315.6 416,316.6 416.5,317.5 417,318.2 417.5,318.3 418,318.0 418.5,317.5 419,317.0 419.5,316.8 420,317.0 420.5,317.4 421,317.8 421.5,317.7 422,317.2 422.5,316.2 423,315.0 423.5,314.0 424,313.4 424.5,313.0 425,312.6 425.5,311.9 426,311.0 426.5,310.1 427,309.5 427.5,309.2 428,309.1 428.5,309.0 429,308.9 429.5,308.6 430,307.9 430.5,307.1 431,306.2 431.5,305.6 432,305.2 432.5,305.2 433,305.3 433.5,305.4 434,305.4 434.5,305.0 435,304.4 435.5,303.7 436,303.1 436.5,302.7 437,302.5 437.5,302.5 438,302.5 438.5,302.5 439,302.4 439.5,302.2 440,301.9 440.5,301.7 441,301.4 441.5,301.2 442,301.0 442.5,300.7 443,300.4 443.5,299.9 444,299.4 444.5,298.9 445,298.5 445.5,298.1 446,297.8 446.5,297.7 447,297.9 447.5,298.2 448,298.6 448.5,298.9 449,298.8 449.5,298.4 450,297.5 450.5,296.5 451,295.5 451.5,294.9 452,294.7 452.5,294.7 453,294.9 453.5,295.2 454,295.4 454.5,295.5 455,295.3 455.5,294.7 456,293.8 456.5,292.7 457,291.8 457.5,291.5 458,291.7 458.5,292.0 459,292.2 459.5,291.7 460,290.6 460.5,289.3 461,288.0 461.5,287.1 462,286.8 462.5,286.6 463,286.5 463.5,286.2 464,285.7 464.5,285.1 465,284.6 465.5,284.5 466,284.6 466.5,284.9 467,285.2 467.5,285.3 468,285.1 468.5,284.7 469,284.2 469.5,283.7 470,283.3 470.5,283.1 471,283.1 471.5,283.1 472,283.3 472.5,283.5 473,283.7 473.5,283.8 474,283.5 474.5,282.9 475,281.8 475.5,280.3 476,278.8 476.5,277.3 477,276.3 477.5,275.8 478,275.7 478.5,275.7 479,275.5 479.5,274.8 480,273.3 480.5,271.5 481,269.7 481.5,268.3 482,267.5 482.5,267.1 483,266.9 483.5,266.6 484,266.0 484.5,264.9 485,263.5 485.5,262.0 486,260.5 486.5,259.2 487,258.2 487.5,257.4 488,256.9 488.5,256.3 489,255.8 489.5,255.3 490,254.7 490.5,253.8 491,252.8 491.5,251.6 492,250.3 492.5,249.1 493,248.3 493.5,247.8 494,247.7 494.5,247.5 495,247.3 495.5,246.6 496,245.5 496.5,244.2 497,243.0 497.5,242.1 498,241.7 498.5,241.7 499,241.8 499.5,241.7 500,241.1 500.5,240.2 501,239.0 501.5,237.7 502,236.6 502.5,235.7 503,235.0 503.5,234.5 504,234.1 504.5,233.8 505,233.4 505.5,233.0 506,232.5 506.5,232.0 507,231.3 507.5,230.4 508,229.5 508.5,228.6 509,227.8 509.5,227.3 510,227.3 510.5,227.6 511,228.0 511.5,228.3 512,228.1 512.5,227.6 513,226.8 513.5,226.0 514,225.2 514.5,224.6 515,224.2 515.5,224.0 516,223.8 516.5,223.6 517,223.4 517.5,223.0 518,222.7 518.5,222.4 519,222.1 519.5,221.8 520,221.6 520.5,221.3 521,221.0 521.5,220.7 522,220.5 522.5,220.3 523,220.3 523.5,220.5 524,220.7 524.5,220.9 525,221.1 525.5,221.0 526,220.6 526.5,220.0 527,219.5 527.5,219.1 528,219.0 528.5,219.2 529,219.3 529.5,219.2 530,218.7 530.5,217.7 531,216.6 531.5,215.8 532,215.5 532.5,215.7 533,216.3 533.5,216.8 534,216.8 534.5,216.2 535,215.1 535.5,213.9 536,213.0 536.5,212.8 537,213.2 537.5,214.0 538,214.6 538.5,215.0 539,215.0 539.5,214.7 540,214.2 540.5,213.8 541,213.4 541.5,213.2 542,213.2 542.5,213.6 543,214.4 543.5,215.3 544,216.2 544.5,216.9 545,217.3 545.5,217.2 546,216.7 546.5,216.0 547,215.1 547.5,214.4 548,213.8 548.5,213.3 549,212.8 549.5,212.3 550,211.7 550.5,211.0 551,210.2 551.5,209.2 552,208.1 552.5,206.8 553,205.5 553.5,204.2 554,203.2 554.5,202.3 555,201.5 555.5,200.7 556,199.9 556.5,199.0 557,197.9 557.5,196.8 558,195.8 558.5,194.9 559,194.1 559.5,193.4 560,192.6 560.5,191.7 561,190.5 561.5,189.4 562,188.6 562.5,188.2 563,188.1 563.5,188.2 564,188.2 564.5,187.8 565,187.2 565.5,186.4 566,185.7 566.5,185.0 567,184.4 567.5,183.7 568,183.0 568.5,182.3 569,181.6 569.5,180.9 570,180.3 570.5,179.6 571,179.0 571.5,178.3 572,177.8 572.5,177.4 573,177.1 573.5,176.9 574,176.7 574.5,176.5 575,176.2 575.5,175.9 576,175.6 576.5,175.3 577,175.1 577.5,175.0 578,174.8 578.5,174.7 579,174.4 579.5,174.1 580,173.6 580.5,173.0 581,172.3 581.5,171.4 582,170.6 582.5,169.7 583,169.0 583.5,168.5 584,168.2 584.5,167.8 585,167.3 585.5,166.6 586,165.4 586.5,163.8 587,161.9 587.5,159.9 588,158.0 588.5,156.4 589,154.8 589.5,152.9 590,150.7 590.5,148.4 591,146.2 591.5,144.3 592,143.2 592.5,142.7 593,142.4 593.5,142.1 594,141.5 594.5,140.6 595,139.6 595.5,138.6 596,137.8 596.5,137.1 597,136.6 597.5,136.2 598,135.8 598.5,135.3 599,134.6 599.5,133.4 600,131.8 600.5,129.9 601,127.8 601.5,126.0 602,124.7 602.5,124.1 603,124.0 603.5,124.2 604,124.3 604.5,124.2 605,123.6 605.5,122.6 606,121.5 606.5,120.6 607,120.0 607.5,120.0 608,120.2 608.5,120.3 609,120.2 609.5,119.8 610,119.2 610.5,118.5 611,118.0 611.5,117.6 612,117.6 612.5,117.8 613,118.5 613.5,119.3 614,120.1 614.5,120.7 615,120.9 615.5,120.6 616,120.0 616.5,119.3 617,118.7 617.5,118.1 618,117.6 618.5,116.8 619,115.8 619.5,114.2 620,112.4 620.5,110.7 621,109.6 621.5,109.5 622,110.7 622.5,112.7 623,114.9 623.5,116.5 624,117.0 624.5,117.2 625,117.3 625.5,117.2 626,117.1 626.5,116.8 627,116.5 627.5,116.4 628,117.1 628.5,118.3 629,119.8 629.5,121.4 630,122.9 630.5,124.2 631,125.4 631.5,126.5 632,127.4 632.5,128.2 633,128.8 633.5,129.4 634,130.0 634.5,130.7 635,131.6 635.5,132.5 636,133.5 636.5,134.4 637,135.2 637.5,136.0 638,136.7 638.5,137.5 639,138.3 639.5,139.3 640,140.5 640.5,142.0 641,144.0 641.5,146.2 642,148.5 642.5,150.7 643,152.7 643.5,154.2 644,155.3 644.5,156.1 645,156.7 645.5,157.3 646,157.8 646.5,158.3 647,158.8 647.5,159.3 648,159.7 648.5,160.0 649,160.4 649.5,160.9 650,161.5 650.5,162.3 651,163.4 651.5,164.7 652,166.2 652.5,167.7 653,169.2 653.5,170.7 654,172.1 654.5,173.5 655,175.0 655.5,176.9 656,179.3 656.5,181.7 657,184.1 657.5,186.2 658,187.7 658.5,188.6 659,188.7 659.5,188.8 660,189.0 660.5,189.4 661,189.9 661.5,190.4 662,190.8 662.5,190.9 663,190.9 663.5,190.8 664,190.8 664.5,191.0 665,191.6 665.5,192.5 666,193.6 666.5,194.6 667,195.7 667.5,196.8 668,197.9 668.5,199.8 669,202.5 669.5,205.5 670,208.1 670.5,209.6 671,209.4 671.5,208.3 672,208.2 672.5,208.7 673,209.5 673.5,210.7 674,212.1 674.5,213.7 675,215.4 675.5,217.0 676,218.5 676.5,219.9 677,221.0 677.5,221.9 678,222.8 678.5,223.5 679,224.1 679.5,224.7 680,225.5 680.5,226.5 681,227.5 681.5,228.6 682,229.7 682.5,230.6 683,231.3 683.5,232.0 684,232.6 684.5,233.4 685,234.3 685.5,235.3 686,236.4 686.5,237.5 687,238.4 687.5,239.3 688,240.0 688.5,240.7 689,241.4 689.5,242.2 690,243.1 690.5,244.1 691,245.1 691.5,246.2 692,247.3 692.5,248.5 693,249.5 693.5,250.4 694,251.0 694.5,251.5 695,252.0 695.5,252.7 696,253.6 696.5,254.7 697,255.8 697.5,256.7 698,257.4 698.5,257.9 699,258.3 699.5,258.7 700,259.3 700.5,260.4 701,261.7 701.5,263.1 702,264.2 702.5,264.6 703,264.6 703.5,264.5 704,264.8 704.5,265.6 705,266.7 705.5,267.9 706,269.0 706.5,269.7 707,270.0 707.5,270.2 708,270.5 708.5,271.2 709,272.2 709.5,273.5 710,274.6 710.5,275.4 711,275.5 711.5,275.3 712,274.9 712.5,274.7 713,274.8 713.5,275.2 714,275.8 714.5,276.5 715,277.2 715.5,277.8 716,278.3 716.5,278.6 717,278.9 717.5,279.1 718,279.3 718.5,279.4 719,279.7 719.5,280.2 720,280.9 720.5,282.0 721,283.3 721.5,284.8 722,286.2 722.5,287.4 723,288.5 723.5,289.7 724,291.0 724.5,292.6 725,294.4 725.5,296.3 726,298.1 726.5,299.8 727,301.1 727.5,302.0 728,302.8 728.5,303.4 729,304.2 729.5,305.2 730,306.2 730.5,307.0 731,307.5 731.5,307.7 732,307.6 732.5,307.2 733,306.8 733.5,306.2 734,305.6 734.5,304.9 735,304.1 735.5,303.2 736,302.3 736.5,301.5 737,300.9 737.5,300.4 738,300.2 738.5,300.2 739,300.6 739.5,301.2 740,302.1 740.5,303.0 741,304.0 741.5,305.1 742,306.1 742.5,307.1 743,308.1 743.5,309.0 744,309.9 744.5,310.8 745,311.6 745.5,312.2 746,312.7 746.5,313.0 747,313.3 747.5,313.5 748,313.7 748.5,314.0 749,314.2 749.5,314.4 750,314.5 750.5,314.6 751,314.5 751.5,314.3 752,314.2 752.5,314.1 753,314.2 753.5,314.4 754,314.6 754.5,314.8 755,314.9 755.5,315.0 756,314.9 756.5,314.8 757,314.7 757.5,314.6 758,314.6 758.5,314.5 759,314.5 759.5,314.5 760,314.6 760.5,314.4 761,313.9 761.5,313.3 762,312.6 762.5,311.9 763,311.5 763.5,311.4 764,311.5 764.5,311.8 765,312.3 765.5,312.8 766,313.3 766.5,314.0 767,314.8 767.5,315.6 768,316.3 768.5,316.7 769,316.9 769.5,316.9 770,316.9 770.5,316.8 771,316.8 771.5,317.0 772,317.3 772.5,317.7 773,318.1 773.5,318.2 774,318.1 774.5,317.9 775,318.0 775.5,318.6 776,319.5 776.5,320.6 777,321.5 777.5,322.2 778,322.4 778.5,322.5 779,322.6 779.5,323.1 780,323.8 780.5,324.5 781,325.1 781.5,325.0 782,324.3 782.5,323.0 783,321.6 783.5,320.3 784,319.2 784.5,318.6 785,318.6 785.5,318.7 786,318.6 786.5,318.4 787,318.2 787.5,317.9 788,317.9 788.5,317.9 789,318.0 789.5,318.0 790,317.9 790.5,317.5 791,317.1 791.5,316.7 792,316.4 792.5,316.3 793,316.4 793.5,316.5 794,316.6 794.5,316.6 795,316.5 795.5,316.2 796,316.0 796.5,315.7 797,315.5 797.5,315.3 798,315.2 798.5,315.2 799,315.4 799.5,315.6 800,315.9 800.5,316.2 801,316.3 801.5,316.0 802,315.0 802.5,313.7 803,312.5 803.5,311.6 804,311.5 804.5,312.1 805,312.8 805.5,313.5 806,313.9 806.5,314.0 807,314.0 807.5,314.0 808,314.0 808.5,314.2 809,314.6 809.5,314.8 810,314.7 810.5,314.4 811,314.0 811.5,313.6 812,313.5 812.5,314.0 813,315.3 813.5,317.0 814,318.8 814.5,320.2 815,321.0 815.5,321.3 816,321.5 816.5,321.7 817,322.0 817.5,322.3 818,322.7 818.5,323.0 819,323.4 819.5,323.8 820,324.1 820.5,324.3 821,324.4 821.5,324.3 822,324.2 822.5,323.8 823,323.2 823.5,322.6 824,322.0 824.5,321.6 825,321.5 825.5,321.7 826,322.0 826.5,322.2 827,322.0 827.5,321.5 828,321.1 828.5,320.9 829,321.4 829.5,322.3 830,323.2 830.5,323.7 831,323.6 831.5,322.9 832,321.8 832.5,320.8 833,320.2 833.5,320.1 834,320.3 834.5,320.6 835,320.9 835.5,320.7 836,320.0 836.5,319.1 837,318.1 837.5,317.3 838,316.7 838.5,316.6 839,316.9 839.5,317.3 840,317.9 840.5,318.5 841,318.9 841.5,319.2 842,319.1 842.5,318.6 843,317.8 843.5,317.0 844,316.5 844.5,316.3 845,316.7 845.5,317.5 846,318.3 846.5,319.0 847,319.1 847.5,318.6 848,317.7 848.5,316.8 849,316.4 849.5,316.6 850,317.2 850.5,318.2 851,319.2 851.5,320.1 852,320.9 852.5,321.4 853,321.8 853.5,322.1 854,322.5 854.5,322.9 855,323.3 855.5,323.7 856,324.0 856.5,324.3 857,324.4 857.5,324.3 858,324.0 858.5,323.6 859,323.0 859.5,322.4 860,321.9 860.5,321.4 861,321.0 861.5,320.8 862,320.5 862.5,320.2 863,319.8 863.5,319.4 864,319.0 864.5,318.6 865,318.2 865.5,318.0 866,317.9 866.5,317.8 867,317.9 867.5,318.1 868,318.3 868.5,318.6 869,318.9 869.5,319.0 870,319.1 870.5,318.9 871,318.7 871.5,318.4 872,318.4 872.5,318.5 873,318.9 873.5,319.4 874,319.7 874.5,319.8 875,319.7 875.5,319.5 876,319.1 876.5,318.8 877,318.4 877.5,318.2 878,318.1 878.5,318.3 879,318.7 879.5,319.2 880,319.6 880.5,319.8 881,319.8 881.5,319.7 882,319.6 882.5,319.6 883,319.8 883.5,320.1 884,320.6 884.5,321.2 885,321.8 885.5,322.3 886,322.8 886.5,323.0 887,323.1 887.5,322.8 888,322.2 888.5,321.5 889,321.1 889.5,321.1 890,321.5 890.5,322.0 891,322.5 891.5,322.7 892,322.8 892.5,322.5 893,321.9 893.5,321.1 894,320.2 894.5,319.4 895,318.5 895.5,317.8 896,317.3 896.5,316.9 897,316.6 897.5,316.4 898,316.4 898.5,316.4 899,316.4 899.5,316.2 900,315.8 900.5,315.2 901,314.5 901.5,313.7 902,313.2 902.5,312.9 903,312.9 903.5,313.3 904,314.1 904.5,315.0 905,315.9 905.5,316.6 906,317.3 906.5,317.9 907,318.7 907.5,319.7 908,320.6 908.5,321.2 909,321.4 909.5,321.2 910,320.9 910.5,320.6 911,320.3 911.5,320.3 912,320.5 912.5,320.7 913,320.9 913.5,321.1 914,321.3 914.5,321.3 915,321.4 915.5,321.5 916,321.8 916.5,322.2 917,322.9 917.5,323.6 918,324.2 918.5,324.6 919,324.7 919.5,324.6 920,324.3 920.5,324.0 921,324.0 921.5,324.4 922,325.2 922.5,326.2 923,327.3 923.5,328.2 924,329.0 924.5,329.7 925,330.3 925.5,331.1 926,332.3 926.5,333.6 927,335.0 927.5,336.3 928,337.2 928.5,337.8 929,337.9 929.5,337.7 930,337.6 930.5,337.6 931,337.6 931.5,337.6 932,337.7 932.5,337.7 933,337.6 933.5,337.2 934,336.5 934.5,335.5 935,334.2 935.5,332.8 936,331.4 936.5,330.1 937,329.1 937.5,328.4 938,327.9 938.5,327.6 939,327.3 939.5,327.1 940,327.0 940.5,326.9 941,326.8 941.5,326.9 942,327.3 942.5,327.9 943,328.6 943.5,329.0 944,329.0 944.5,328.6 945,328.0 945.5,327.3 946,326.7 946.5,326.3 947,325.9 947.5,325.6 948,325.4 948.5,325.1 949,324.9 949.5,324.6 950,324.3 950.5,324.0 951,323.7 951.5,323.6 952,323.7 952.5,324.1 953,324.7 953.5,325.4 954,326.0 954.5,326.5 955,326.7 955.5,326.6 956,326.6 956.5,326.7 957,327.3 957.5,328.2 958,329.2 958.5,330.0 959,330.4 959.5,330.2 960,329.4 960.5,328.6 961,328.2 961.5,328.4 962,329.2 962.5,330.3 963,331.2 963.5,331.9 964,332.1 964.5,331.9 965,331.6 965.5,331.0 966,330.3 966.5,329.7 967,329.2 967.5,328.9 968,328.6 968.5,328.4 969,328.3 969.5,328.3 970,328.3 970.5,328.3 971,328.2 971.5,328.1 972,327.9 972.5,327.6 973,327.3 973.5,327.0 974,326.7 974.5,326.4 975,326.3 975.5,326.3 976,326.4 976.5,326.7 977,327.1 977.5,327.7 978,328.2 978.5,328.5 979,328.5 979.5,328.1 980,327.6 980.5,327.2 981,327.2 981.5,327.5 982,328.0 982.5,328.1 983,327.8 983.5,327.2 984,326.4 984.5,325.6 985,325.1 985.5,324.7 986,324.4 986.5,324.1 987,323.6 987.5,323.1 988,322.6 988.5,322.1 989,321.8 989.5,321.7 990,321.8 990.5,321.9 991,321.8 991.5,321.8 992,321.8 992.5,321.9 993,322.3 993.5,322.9 994,323.8 994.5,324.9 995,325.8 995.5,326.5 996,327.0 996.5,327.2 997,327.1 997.5,327.1 998,327.2 998.5,327.3 999,327.5 999.5,327.6 1000,327.6 1000.5,327.3 1001,326.9 1001.5,326.5 1002,326.2 1002.5,326.0 1003,325.9 1003.5,326.1 1004,326.3 1004.5,326.6 1005,326.9 1005.5,327.2 1006,327.6 1006.5,328.0 1007,328.6 1007.5,329.2 1008,329.8 1008.5,330.3 1009,330.7 1009.5,330.9 1010,331.2 1010.5,331.6 1011,332.2 1011.5,332.9 1012,333.4 1012.5,333.8 1013,334.1 1013.5,334.3 1014,334.6 1014.5,335.0 1015,335.7 1015.5,336.7 1016,337.8 1016.5,338.6 1017,338.9 1017.5,338.8 1018,338.5 1018.5,338.1 1019,337.6 1019.5,337.3 1020,337.3 1020.5,337.2 1021,337.1 1021.5,336.7 1022,336.0 1022.5,335.1 1023,334.4 1023.5,334.2 1024,334.3 1024.5,334.6 1025,334.8 1025.5,334.7 1026,334.2 1026.5,333.4 1027,332.4 1027.5,331.6 1028,331.1 1028.5,330.9 1029,331.0 1029.5,331.1 1030,330.9 1030.5,330.2 1031,329.0 1031.5,327.5 1032,325.8 1032.5,324.2 1033,323.0 1033.5,322.3 1034,321.9 1034.5,321.8 1035,321.6 1035.5,321.3 1036,321.0 1036.5,320.8 1037,320.5 1037.5,320.3 1038,320.3 1038.5,320.4 1039,320.5 1039.5,320.7 1040,320.9 1040.5,321.2 1041,321.9 1041.5,322.8 1042,323.7 1042.5,324.7 1043,325.5 1043.5,326.1 1044,326.2 1044.5,326.1 1045,325.9 1045.5,325.8 1046,325.7 1046.5,325.7 1047,325.8 1047.5,325.8 1048,325.7 1048.5,325.5 1049,325.2 1049.5,325.1 1050,325.5 1050.5,326.5 1051,327.8 1051.5,328.9 1052,329.6 1052.5,329.7 1053,329.3 1053.5,328.7 1054,328.2 1054.5,327.9 1055,327.7 1055.5,327.5 1056,327.0 1056.5,326.3 1057,325.6 1057.5,325.1 1058,325.2 1058.5,325.8 1059,326.7 1059.5,327.5 1060,328.0 1060.5,328.1 1061,328.0 1061.5,327.7 1062,327.5 1062.5,327.4 1063,327.3 1063.5,327.0 1064,326.7 1064.5,326.3 1065,326.0 1065.5,325.9 1066,326.0 1066.5,326.3 1067,326.5 1067.5,326.5 1068,326.3 1068.5,325.8 1069,325.2 1069.5,324.7 1070,324.5 1070.5,324.5 1071,324.6 1071.5,324.7 1072,324.7 1072.5,324.4 1073,324.0 1073.5,323.7 1074,323.5 1074.5,323.6 1075,323.9 1075.5,324.3 1076,324.7 1076.5,325.0 1077,325.1 1077.5,325.0 1078,324.9 1078.5,324.7 1079,324.7 1079.5,324.8 1080,324.9 1080.5,325.0 1081,325.0 1081.5,324.5 1082,323.8 1082.5,322.9 1083,322.2 1083.5,321.9 1084,322.1 1084.5,322.7 1085,323.3 1085.5,323.8 1086,324.3 1086.5,324.6 1087,324.9 1087.5,325.0 1088,325.0 1088.5,324.9 1089,324.7 1089.5,324.4 1090,324.3 1090.5,324.2 1091,324.2 1091.5,324.3 1092,324.3 1092.5,324.4 1093,324.5 1093.5,324.5 1094,324.6 1094.5,324.6 1095,324.5 1095.5,324.5 1096,324.4 1096.5,324.3 1097,324.3 1097.5,324.5 1098,325.0 1098.5,325.6 1099,326.2 1099.5,326.9 1100,327.5 1100.5,328.0 1101,328.4 1101.5,328.8 1102,329.2 1102.5,329.4 1103,329.5 1103.5,329.6 1104,329.6 1104.5,329.6 1105,329.7 1105.5,329.7 1106,329.8 1106.5,329.8 1107,329.8 1107.5,329.7 1108,329.6 1108.5,329.7 1109,329.9 1109.5,330.3 1110,330.6 1110.5,330.8 1111,330.7 1111.5,330.3 1112,329.6 1112.5,328.9 1113,328.4 1113.5,328.3 1114,328.5 1114.5,328.8 1115,329.1 1115.5,329.3 1116,329.4 1116.5,329.3 1117,329.2 1117.5,329.3 1118,329.5 1118.5,329.9 1119,330.6 1119.5,331.3 1120,332.2 1120.5,333.2 1121,334.6 1121.5,336.3 1122,338.1 1122.5,340.0 1123,342.1 1123.5,344.7 1124,347.7 1124.5,351.1 1125,354.7 1125.5,358.6 1126,362.6 1126.5,366.6 1127,370.3 1127.5,373.8 1128,377.1 1128.5,380.4 1129,383.7 1129.5,387.4 1130,391.3 1130.5,395.5 1131,399.8 1131.5,404.5 1132,409.4 1132.5,414.3 1133,419.1 1133.5,423.6 1134,427.6 1134.5,430.9 1135,433.3 1135.5,435.1 1136,436.6 1136.5,438.0 1137,439.3 1137.5,440.6 1138,441.8 1138.5,443.0 1139,444.2 1139.5,445.2 1140,446.2 1140.5,447.3 1141,448.5 1141.5,449.9 1142,451.7 1142.5,453.8 1143,455.9 1143.5,457.7 1144,459.0 1144.5,459.6 1145,459.7 1145.5,459.9 1146,460.6 1146.5,462.0 1147,463.6 1147.5,465.1 1148,466.1 1148.5,466.3 1149,466.2 1149.5,465.9 1150,465.8 1150.5,465.8 1151,465.4 1151.5,464.4 1152,462.6 1152.5,460.0 1153,456.9 1153.5,453.6 1154,450.5 1154.5,447.9 1155,446.0 1155.5,444.2 1156,442.2 1156.5,440.0 1157,437.6 1157.5,434.8 1158,432.0 1158.5,429.3 1159,426.8 1159.5,424.8 1160,423.3 1160.5,422.6 1161,422.7 1161.5,423.1 1162,423.6 1162.5,423.9 1163,423.9 1163.5,423.6 1164,423.0 1164.5,422.5 1165,422.1 1165.5,422.1 1166,422.4 1166.5,422.8 1167,423.0 1167.5,422.9 1168,422.3 1168.5,421.5 1169,419.7 1169.5,417.4 1170,414.8 1170.5,412.4 1171,410.3 1171.5,408.7 1172,407.9 1172.5,407.6 1173,407.5 1173.5,407.6 1174,408.0 1174.5,408.8 1175,409.9 1175.5,411.2 1176,412.6 1176.5,413.8 1177,415.0 1177.5,416.5 1178,418.2 1178.5,420.6 1179,423.4 1179.5,426.1 1180,428.4 1180.5,429.9 1181,430.6 1181.5,431.0 1182,431.3 1182.5,431.7 1183,431.5 1183.5,430.5 1184,428.9 1184.5,426.6 1185,424.0 1185.5,421.3 1186,419.0 1186.5,416.7 1187,414.4 1187.5,411.9 1188,409.6 1188.5,407.4 1189,405.3 1189.5,403.5 1190,401.9 1190.5,400.6 1191,399.6 1191.5,399.0 1192,398.9 1192.5,399.5 1193,400.7 1193.5,402.5 1194,404.7 1194.5,407.4 1195,410.5 1195.5,413.6 1196,416.5 1196.5,419.0 1197,420.8 1197.5,421.9 1198,422.3 1198.5,422.7 1199,423.2 1199.5,423.9 1200,424.7 1200.5,425.4 1201,425.8 1201.5,425.9 1202,425.4 1202.5,424.4 1203,423.0 1203.5,421.5 1204,420.0 1204.5,418.6 1205,417.4 1205.5,416.4 1206,415.5 1206.5,414.5 1207,413.0 1207.5,411.3 1208,409.3 1208.5,407.2 1209,405.1 1209.5,403.1 1210,401.4 1210.5,400.0 1211,399.0 1211.5,398.6 1212,398.7 1212.5,399.0 1213,399.2 1213.5,399.2 1214,398.7 1214.5,398.0 1215,397.3 1215.5,396.8 1216,396.7 1216.5,397.1 1217,398.2 1217.5,399.7 1218,401.2 1218.5,402.3 1219,403.2 1219.5,403.7 1220,403.8 1220.5,403.9 1221,404.2 1221.5,404.6 1222,405.0 1222.5,405.4 1223,405.8 1223.5,405.9 1224,405.9 1224.5,405.8 1225,405.5 1225.5,405.0 1226,404.2 1226.5,403.3 1227,402.4 1227.5,401.5 1228,400.7 1228.5,400.0 1229,399.4 1229.5,398.8 1230,398.2 1230.5,397.6 1231,397.0 1231.5,396.6 1232,396.5 1232.5,396.5 1233,396.8 1233.5,397.1 1234,397.5 1234.5,397.9 1235,398.0 1235.5,398.1 1236,398.0 1236.5,397.8 1237,397.5 1237.5,397.3 1238,397.2 1238.5,397.1 1239,396.9 1239.5,396.5 1240,396.0 1240.5,395.1 1241,393.7 1241.5,391.8 1242,389.7 1242.5,387.5 1243,385.4 1243.5,383.5 1244,382.0 1244.5,380.9 1245,380.3 1245.5,380.1 1246,380.3 1246.5,380.7 1247,381.1 1247.5,381.6 1248,381.9 1248.5,382.2 1249,382.6 1249.5,383.1 1250,383.6 1250.5,384.3 1251,384.9 1251.5,385.6 1252,386.3 1252.5,386.9 1253,387.4 1253.5,387.8 1254,388.0 1254.5,388.2 1255,388.4 1255.5,388.8 1256,389.4 1256.5,390.0 1257,390.6 1257.5,391.3 1258,391.9 1258.5,392.4 1259,393.0"/>
<polyline stroke="#da70d6" points="108,318.7 108.5,320.4 109,322.2 109.5,323.9 110,325.3 110.5,326.5 111,327.4 111.5,328.1 112,328.6 112.5,329.0 113,328.7 113.5,325.8 114,321.3 114.5,316.5 115,312.8 115.5,311.0 116,309.5 116.5,308.3 117,307.5 117.5,307.1 118,307.0 118.5,307.2 119,309.5 119.5,314.5 120,320.2 120.5,325.0 121,327.1 121.5,326.8 122,326.0 122.5,324.9 123,323.6 123.5,322.1 124,320.6 124.5,319.2 125,318.0 125.5,317.1 126,316.6 126.5,317.0 127,318.2 127.5,319.9 128,321.9 128.5,323.6 129,324.7 129.5,324.8 130,324.3 130.5,323.4 131,322.3 131.5,321.1 132,319.9 132.5,318.9 133,318.1 133.5,317.6 134,317.2 134.5,316.6 135,315.7 135.5,314.9 136,314.1 136.5,313.8 137,314.0 137.5,314.7 138,315.8 138.5,317.0 139,318.3 139.5,319.3 140,319.9 140.5,320.1 141,320.0 141.5,319.6 142,318.8 142.5,317.7 143,316.3 143.5,314.9 144,313.3 144.5,311.9 145,310.6 145.5,309.7 146,309.3 146.5,309.7 147,311.1 147.5,313.0 148,315.5 148.5,318.2 149,321.0 149.5,323.7 150,326.2 150.5,328.1 151,329.0 151.5,328.8 152,327.6 152.5,325.7 153,323.4 153.5,321.2 154,319.6 154.5,318.8 155,318.8 155.5,319.4 156,320.2 156.5,320.9 157,321.5 157.5,322.1 158,322.8 158.5,323.7 159,324.4 159.5,324.7 160,324.9 160.5,324.7 161,324.3 161.5,323.7 162,323.0 162.5,322.3 163,321.7 163.5,321.3 164,321.2 164.5,321.5 165,322.8 165.5,324.1 166,324.2 166.5,322.3 167,318.9 167.5,314.7 168,310.7 168.5,307.6 169,306.3 169.5,306.8 170,307.9 170.5,308.9 171,309.1 171.5,308.2 172,306.8 172.5,305.2 173,304.1 173.5,304.3 174,306.3 174.5,309.4 175,313.0 175.5,319.0 176,325.8 176.5,330.7 177,333.7 177.5,336.4 178,338.1 178.5,338.6 179,335.9 179.5,328.8 180,321.4 180.5,317.4 181,315.0 181.5,313.7 182,313.3 182.5,313.6 183,313.7 183.5,313.8 184,313.9 184.5,314.4 185,315.5 185.5,316.9 186,318.2 186.5,319.2 187,319.7 187.5,319.4 188,318.7 188.5,318.0 189,318.0 189.5,319.0 190,321.0 190.5,323.4 191,325.6 191.5,327.1 192,328.2 192.5,328.9 193,329.4 193.5,329.3 194,327.3 194.5,324.0 195,320.2 195.5,316.9 196,314.9 196.5,313.2 197,312.1 197.5,312.1 198,313.8 198.5,316.6 199,319.7 199.5,322.4 200,323.9 200.5,324.9 201,325.5 201.5,325.7 202,325.5 202.5,325.3 203,325.4 203.5,326.2 204,327.2 204.5,328.2 205,328.6 205.5,328.4 206,327.6 206.5,325.9 207,323.6 207.5,321.3 208,319.2 208.5,317.1 209,315.0 209.5,313.2 210,312.1 210.5,312.0 211,313.0 211.5,314.7 212,316.4 212.5,317.6 213,318.2 213.5,318.5 214,318.7 214.5,318.8 215,319.0 215.5,319.4 216,320.1 216.5,321.0 217,322.1 217.5,323.2 218,324.1 218.5,324.8 219,325.3 219.5,325.6 220,325.8 220.5,325.9 221,325.8 221.5,325.0 222,323.9 222.5,322.1 223,319.2 223.5,315.8 224,312.3 224.5,309.2 225,307.2 225.5,306.6 226,307.7 226.5,310.0 227,313.1 227.5,316.6 228,320.1 228.5,322.9 229,324.5 229.5,325.7 230,326.3 230.5,326.6 231,326.4 231.5,325.6 232,322.8 232.5,319.0 233,315.4 233.5,313.2 234,313.2 234.5,313.5 235,314.0 235.5,314.6 236,315.3 236.5,316.0 237,316.6 237.5,317.1 238,317.6 238.5,318.1 239,318.3 239.5,318.5 240,318.5 240.5,318.5 241,318.5 241.5,318.5 242,318.6 242.5,318.7 243,318.7 243.5,318.5 244,318.3 244.5,317.9 245,317.5 245.5,317.0 246,316.0 246.5,314.6 247,312.9 247.5,311.3 248,309.8 248.5,308.9 249,308.8 249.5,310.0 250,312.2 250.5,315.2 251,318.9 251.5,322.8 252,326.5 252.5,329.7 253,332.0 253.5,333.1 254,332.7 254.5,331.0 255,328.2 255.5,324.9 256,321.5 256.5,318.5 257,316.4 257.5,315.4 258,315.8 258.5,316.7 259,317.8 259.5,319.0 260,320.2 260.5,321.5 261,322.6 261.5,323.7 262,324.4 262.5,325.0 263,325.5 263.5,325.8 264,326.0 264.5,326.0 265,325.9 265.5,325.8 266,325.8 266.5,325.7 267,324.9 267.5,323.5 268,321.4 268.5,318.7 269,315.7 269.5,312.9 270,310.7 270.5,309.5 271,308.9 271.5,308.6 272,308.5 272.5,308.4 273,308.2 273.5,308.0 274,307.8 274.5,307.5 275,307.4 275.5,307.2 276,307.2 276.5,307.3 277,307.5 277.5,307.7 278,308.0 278.5,308.3 279,308.6 279.5,309.1 280,309.7 280.5,310.8 281,312.2 281.5,313.7 282,315.1 282.5,316.1 283,316.7 283.5,317.1 284,317.5 284.5,318.2 285,319.1 285.5,320.2 286,321.3 286.5,322.3 287,322.9 287.5,323.1 288,322.7 288.5,322.0 289,320.9 289.5,319.9 290,319.5 290.5,320.1 291,321.8 291.5,324.1 292,326.5 292.5,328.5 293,329.7 293.5,330.0 294,330.2 294.5,330.7 295,332.0 295.5,334.0 296,336.2 296.5,338.0 297,339.0 297.5,339.4 298,339.6 298.5,339.7 299,340.0 299.5,340.4 300,340.9 300.5,341.1 301,340.9 301.5,339.6 302,336.8 302.5,333.2 303,329.5 303.5,326.3 304,323.6 304.5,321.6 305,320.5 305.5,319.9 306,319.2 306.5,318.7 307,318.6 307.5,319.0 308,319.7 308.5,319.7 309,318.4 309.5,316.1 310,313.3 310.5,310.6 311,308.6 311.5,307.4 312,306.5 312.5,306.2 313,306.4 313.5,306.9 314,307.5 314.5,308.1 315,308.6 315.5,309.1 316,309.7 316.5,310.4 317,311.5 317.5,312.7 318,314.1 318.5,315.5 319,316.7 319.5,317.8 320,318.8 320.5,320.0 321,321.4 321.5,322.9 322,324.2 322.5,325.2 323,325.5 323.5,325.0 324,323.7 324.5,322.0 325,320.2 325.5,318.6 326,317.6 326.5,317.0 327,316.3 327.5,315.8 328,315.2 328.5,314.9 329,314.8 329.5,315.1 330,316.1 330.5,317.3 331,318.7 331.5,319.6 332,319.9 332.5,319.4 333,318.3 333.5,317.1 334,315.9 334.5,315.0 335,314.7 335.5,314.9 336,315.5 336.5,316.2 337,316.6 337.5,316.5 338,316.2 338.5,315.8 339,315.5 339.5,315.6 340,316.0 340.5,317.4 341,319.8 341.5,321.9 342,322.6 342.5,321.5 343,319.4 343.5,316.8 344,314.4 344.5,312.7 345,312.2 345.5,312.8 346,314.2 346.5,316.1 347,318.1 347.5,320.1 348,321.7 348.5,323.2 349,324.9 349.5,326.6 350,328.2 350.5,329.6 351,330.7 351.5,331.3 352,331.4 352.5,330.3 353,328.1 353.5,325.3 354,322.6 354.5,320.4 355,318.8 355.5,317.6 356,316.1 356.5,314.5 357,312.9 357.5,311.4 358,310.3 358.5,309.5 359,309.2 359.5,309.4 360,310.1 360.5,311.0 361,312.0 361.5,312.8 362,313.4 362.5,313.8 363,314.3 363.5,314.9 364,315.5 364.5,315.9 365,316.1 365.5,316.1 366,315.9 366.5,315.4 367,314.5 367.5,313.6 368,312.9 368.5,312.4 369,312.2 369.5,312.6 370,313.2 370.5,313.9 371,314.6 371.5,315.4 372,316.0 372.5,315.6 373,313.8 373.5,311.0 374,307.8 374.5,305.1 375,303.9 375.5,304.4 376,305.9 376.5,307.9 377,309.9 377.5,311.3 378,311.6 378.5,311.0 379,310.0 379.5,308.8 380,307.8 380.5,307.0 381,306.4 381.5,305.5 382,304.2 382.5,302.6 383,300.9 383.5,299.7 384,299.1 384.5,299.6 385,301.3 385.5,303.7 386,306.2 386.5,308.3 387,309.6 387.5,310.3 388,310.9 388.5,311.4 389,311.8 389.5,312.5 390,313.7 390.5,315.1 391,316.6 391.5,317.7 392,318.3 392.5,317.6 393,316.1 393.5,314.9 394,314.2 394.5,313.5 395,313.2 395.5,313.3 396,313.8 396.5,314.6 397,315.7 397.5,316.9 398,318.3 398.5,319.8 399,321.3 399.5,322.9 400,324.6 400.5,326.3 401,328.0 401.5,329.7 402,331.2 402.5,332.5 403,333.4 403.5,334.0 404,334.2 404.5,334.2 405,334.1 405.5,333.8 406,333.1 406.5,332.0 407,330.5 407.5,328.5 408,326.0 408.5,323.2 409,320.3 409.5,317.5 410,315.0 410.5,313.0 411,311.9 411.5,311.5 412,311.8 412.5,312.2 413,312.6 413.5,313.0 414,313.4 414.5,313.6 415,313.7 415.5,313.7 416,313.6 416.5,313.6 417,313.8 417.5,314.3 418,314.7 418.5,315.1 419,315.1 419.5,314.9 420,314.7 420.5,314.4 421,313.9 421.5,313.1 422,312.0 422.5,310.6 423,309.0 423.5,307.1 424,305.0 424.5,303.0 425,301.1 425.5,299.4 426,298.3 426.5,297.8 427,298.0 427.5,298.7 428,299.5 428.5,300.3 429,300.8 429.5,300.9 430,300.8 430.5,300.8 431,301.0 431.5,301.7 432,302.8 432.5,304.0 433,305.1 433.5,305.7 434,305.8 434.5,305.3 435,304.4 435.5,303.4 436,302.6 436.5,302.2 437,302.0 437.5,301.8 438,301.4 438.5,300.6 439,299.7 439.5,298.6 440,297.6 440.5,296.7 441,295.9 441.5,295.2 442,294.5 442.5,293.7 443,292.7 443.5,291.4 444,290.0 444.5,288.4 445,286.6 445.5,285.0 446,283.5 446.5,282.4 447,281.6 447.5,281.3 448,281.4 448.5,281.7 449,282.0 449.5,282.1 450,281.9 450.5,281.7 451,281.3 451.5,281.0 452,280.8 452.5,280.7 453,280.7 453.5,280.9 454,281.3 454.5,281.8 455,282.3 455.5,282.8 456,283.0 456.5,282.9 457,282.5 457.5,282.0 458,281.4 458.5,281.0 459,280.8 459.5,280.6 460,280.5 460.5,280.4 461,280.3 461.5,279.9 462,279.2 462.5,278.0 463,276.3 463.5,274.3 464,272.5 464.5,271.3 465,271.2 465.5,271.6 466,272.0 466.5,271.8 467,270.9 467.5,269.6 468,268.9 468.5,269.4 469,271.2 469.5,273.7 470,276.5 470.5,279.0 471,280.6 471.5,281.1 472,280.5 472.5,279.6 473,278.6 473.5,277.6 474,276.7 474.5,275.8 475,275.0 475.5,274.0 476,272.9 476.5,271.9 477,270.8 477.5,269.5 478,268.0 478.5,266.5 479,264.9 479.5,263.4 480,261.9 480.5,260.5 481,259.2 481.5,258.1 482,257.1 482.5,256.4 483,255.8 483.5,255.4 484,255.0 484.5,254.6 485,254.4 485.5,254.5 486,254.9 486.5,255.5 487,256.1 487.5,256.5 488,256.5 488.5,256.1 489,255.3 489.5,254.6 490,254.1 490.5,254.1 491,254.3 491.5,254.4 492,254.2 492.5,253.5 493,252.1 493.5,250.3 494,248.4 494.5,246.6 495,245.1 495.5,243.7 496,242.6 496.5,241.5 497,240.4 497.5,239.1 498,237.4 498.5,235.5 499,233.3 499.5,231.1 500,228.8 500.5,226.7 501,224.6 501.5,222.8 502,221.2 502.5,219.9 503,218.9 503.5,218.3 504,218.1 504.5,220.3 505,225.1 505.5,229.8 506,231.8 506.5,231.4 507,230.5 507.5,229.2 508,227.7 508.5,226.0 509,224.2 509.5,222.4 510,220.6 510.5,219.1 511,217.6 511.5,216.4 512,215.5 512.5,214.7 513,213.9 513.5,213.0 514,212.1 514.5,211.1 515,210.1 515.5,209.2 516,208.6 516.5,208.3 517,208.3 517.5,208.5 518,208.6 518.5,208.6 519,208.3 519.5,207.6 520,206.7 520.5,205.8 521,204.9 521.5,204.3 522,203.9 522.5,203.6 523,203.5 523.5,203.5 524,203.4 524.5,203.4 525,203.3 525.5,203.0 526,202.6 526.5,202.2 527,201.7 527.5,201.3 528,201.0 528.5,200.8 529,200.6 529.5,200.4 530,200.2 530.5,199.8 531,199.2 531.5,198.6 532,198.0 532.5,197.5 533,197.0 533.5,196.8 534,196.5 534.5,196.4 535,196.2 535.5,196.0 536,195.7 536.5,195.4 537,195.0 537.5,194.6 538,194.2 538.5,193.9 539,193.8 539.5,193.9 540,194.3 540.5,195.3 541,197.1 541.5,199.3 542,201.5 542.5,203.6 543,205.3 543.5,206.5 544,206.9 544.5,206.8 545,206.4 545.5,205.7 546,204.5 546.5,202.9 547,200.8 547.5,198.4 548,195.8 548.5,193.3 549,190.9 549.5,188.7 550,186.8 550.5,185.0 551,183.7 551.5,182.6 552,182.1 552.5,181.8 553,181.6 553.5,181.4 554,181.3 554.5,181.2 555,181.3 555.5,181.4 556,181.5 556.5,181.6 557,181.5 557.5,181.1 558,180.4 558.5,179.3 559,178.0 559.5,176.8 560,175.9 560.5,175.2 561,174.6 561.5,174.0 562,173.2 562.5,172.4 563,171.3 563.5,170.3 564,169.4 564.5,168.6 565,168.0 565.5,167.5 566,167.0 566.5,166.7 567,166.4 567.5,166.3 568,166.1 568.5,166.1 569,166.0 569.5,166.0 570,165.9 570.5,165.6 571,165.1 571.5,164.5 572,164.0 572.5,163.8 573,164.2 573.5,165.1 574,166.1 574.5,167.0 575,167.7 575.5,168.2 576,168.4 576.5,168.6 577,168.8 577.5,169.0 578,169.3 578.5,169.3 579,168.6 579.5,167.0 580,164.7 580.5,161.9 581,158.6 581.5,155.2 582,151.8 582.5,148.4 583,145.3 583.5,142.6 584,140.3 584.5,138.7 585,137.9 585.5,139.7 586,143.9 586.5,147.2 587,147.7 587.5,147.4 588,146.6 588.5,145.5 589,143.9 589.5,142.1 590,139.9 590.5,137.4 591,135.0 591.5,132.7 592,130.8 592.5,129.2 593,127.9 593.5,126.7 594,125.1 594.5,123.1 595,121.0 595.5,119.0 596,117.2 596.5,115.7 597,114.5 597.5,113.5 598,112.5 598.5,111.9 599,111.7 599.5,112.6 600,114.7 600.5,117.3 601,120.0 601.5,122.0 602,122.8 602.5,122.2 603,120.9 603.5,119.2 604,117.6 604.5,116.5 605,115.6 605.5,114.1 606,112.0 606.5,109.1 607,105.6 607.5,102.4 608,99.6 608.5,97.9 609,96.9 609.5,96.3 610,95.5 610.5,94.4 611,95.7 611.5,100.1 612,106.2 612.5,111.8 613,114.5 613.5,114.4 614,113.4 614.5,111.7 615,109.9 615.5,108.3 616,107.3 616.5,107.2 617,107.3 617.5,107.5 618,107.5 618.5,107.5 619,107.4 619.5,107.3 620,107.2 620.5,107.3 621,106.9 621.5,105.7 622,104.0 622.5,102.1 623,100.3 623.5,99.0 624,98.5 624.5,98.0 625,97.6 625.5,97.2 626,96.9 626.5,96.7 627,96.7 627.5,97.0 628,97.6 628.5,98.3 629,99.0 629.5,99.6 630,100.2 630.5,102.2 631,105.9 631.5,109.8 632,112.5 632.5,115.0 633,117.5 633.5,119.7 634,121.7 634.5,123.5 635,125.0 635.5,126.3 636,127.5 636.5,128.6 637,129.8 637.5,131.0 638,132.3 638.5,133.5 639,134.5 639.5,135.5 640,136.5 640.5,137.7 641,139.3 641.5,141.4 642,143.8 642.5,146.3 643,148.5 643.5,150.4 644,151.9 644.5,153.1 645,154.3 645.5,155.7 646,157.2 646.5,158.9 647,160.4 647.5,161.3 648,161.8 648.5,161.8 649,161.7 649.5,161.8 650,162.3 650.5,163.3 651,164.9 651.5,166.7 652,168.7 652.5,170.8 653,172.7 653.5,174.5 654,176.4 654.5,178.3 655,180.3 655.5,182.2 656,184.0 656.5,185.8 657,187.4 657.5,188.8 658,190.3 658.5,191.9 659,193.5 659.5,195.0 660,196.4 660.5,197.4 661,198.0 661.5,198.2 662,198.1 662.5,197.9 663,197.5 663.5,197.1 664,196.7 664.5,196.2 665,195.7 665.5,195.2 666,194.4 666.5,193.4 667,192.2 667.5,191.0 668,190.0 668.5,189.3 669,188.9 669.5,188.6 670,188.2 670.5,187.6 671,187.5 671.5,190.0 672,194.2 672.5,198.9 673,202.8 673.5,204.4 674,205.2 674.5,205.7 675,206.1 675.5,206.3 676,206.5 676.5,208.7 677,214.0 677.5,220.7 678,227.5 678.5,232.7 679,234.9 679.5,235.0 680,234.8 680.5,234.5 681,234.0 681.5,233.4 682,232.7 682.5,231.8 683,231.0 683.5,230.4 684,230.1 684.5,230.3 685,231.1 685.5,232.5 686,234.2 686.5,235.9 687,237.2 687.5,237.9 688,237.6 688.5,236.8 689,235.9 689.5,235.4 690,235.3 690.5,235.6 691,236.0 691.5,236.5 692,237.0 692.5,237.2 693,238.4 693.5,241.1 694,244.4 694.5,247.6 695,249.7 695.5,250.8 696,251.9 696.5,253.0 697,254.0 697.5,255.0 698,255.9 698.5,256.7 699,257.3 699.5,257.9 700,258.5 700.5,259.1 701,259.9 701.5,260.8 702,261.7 702.5,262.8 703,264.0 703.5,265.2 704,266.5 704.5,267.6 705,268.6 705.5,269.4 706,269.9 706.5,270.1 707,270.0 707.5,269.8 708,269.7 708.5,269.6 709,269.5 709.5,269.4 710,269.4 710.5,269.4 711,269.5 711.5,269.5 712,269.5 712.5,269.6 713,269.6 713.5,269.6 714,269.7 714.5,269.9 715,270.0 715.5,270.8 716,272.5 716.5,274.7 717,276.9 717.5,278.8 718,279.9 718.5,279.9 719,278.6 719.5,276.6 720,274.6 720.5,273.1 721,272.9 721.5,273.8 722,275.5 722.5,277.8 723,280.5 723.5,283.4 724,286.3 724.5,289.0 725,291.3 725.5,293.6 726,296.3 726.5,299.0 727,301.7 727.5,304.0 728,305.9 728.5,307.1 729,307.9 729.5,308.3 730,308.5 730.5,308.8 731,309.2 731.5,309.4 732,308.9 732.5,307.5 733,305.4 733.5,303.2 734,301.1 734.5,299.6 735,298.5 735.5,297.6 736,296.7 736.5,295.6 737,294.4 737.5,293.4 738,292.8 738.5,292.8 739,293.2 739.5,293.9 740,294.7 740.5,295.4 741,296.0 741.5,296.4 742,296.8 742.5,297.5 743,298.4 743.5,299.7 744,302.1 744.5,305.4 745,309.1 745.5,313.0 746,316.6 746.5,319.6 747,321.5 747.5,322.1 748,321.6 748.5,320.5 749,319.0 749.5,317.1 750,315.0 750.5,312.7 751,310.2 751.5,307.7 752,305.4 752.5,303.4 753,301.8 753.5,300.8 754,300.4 754.5,300.9 755,303.0 755.5,305.9 756,308.5 756.5,309.9 757,309.7 757.5,309.1 758,308.4 758.5,307.8 759,307.4 759.5,307.2 760,307.5 760.5,308.7 761,311.0 761.5,313.5 762,315.4 762.5,316.9 763,318.5 763.5,320.1 764,321.7 764.5,322.9 765,323.6 765.5,323.8 766,323.7 766.5,323.3 767,322.7 767.5,321.8 768,320.7 768.5,319.4 769,318.0 769.5,316.6 770,315.4 770.5,314.4 771,313.3 771.5,312.2 772,311.2 772.5,310.4 773,309.6 773.5,309.2 774,309.0 774.5,309.6 775,311.0 775.5,312.9 776,315.1 776.5,317.3 777,319.3 777.5,321.2 778,323.1 778.5,324.8 779,326.0 779.5,326.7 780,327.0 780.5,327.0 781,326.8 781.5,325.9 782,324.1 782.5,321.6 783,319.0 783.5,316.4 784,314.3 784.5,312.4 785,310.4 785.5,308.4 786,306.6 786.5,305.2 787,304.2 787.5,303.7 788,303.7 788.5,304.1 789,304.5 789.5,305.1 790,305.6 790.5,306.0 791,306.4 791.5,306.8 792,307.2 792.5,308.2 793,310.3 793.5,313.1 794,316.3 794.5,319.6 795,322.5 795.5,324.6 796,325.4 796.5,325.1 797,323.9 797.5,322.0 798,319.9 798.5,317.7 799,315.7 799.5,314.2 800,313.0 800.5,311.9 801,310.5 801.5,308.7 802,306.8 802.5,305.1 803,303.7 803.5,303.0 804,303.1 804.5,304.4 805,306.9 805.5,309.8 806,312.4 806.5,314.1 807,314.4 807.5,313.3 808,311.3 808.5,308.7 809,305.9 809.5,303.2 810,300.7 810.5,298.9 811,298.1 811.5,298.2 812,298.7 812.5,299.4 813,300.3 813.5,302.3 814,305.8 814.5,310.1 815,314.3 815.5,317.7 816,319.5 816.5,320.2 817,320.8 817.5,321.3 818,321.6 818.5,321.7 819,321.7 819.5,321.6 820,321.7 820.5,322.4 821,324.1 821.5,326.3 822,328.4 822.5,330.0 823,330.6 823.5,329.4 824,326.7 824.5,323.2 825,319.7 825.5,316.9 826,315.0 826.5,313.4 827,311.2 827.5,308.6 828,306.0 828.5,303.8 829,302.4 829.5,301.8 830,302.1 830.5,303.4 831,305.3 831.5,307.4 832,309.4 832.5,310.9 833,311.8 833.5,312.3 834,312.9 834.5,313.7 835,314.6 835.5,315.5 836,316.3 836.5,317.0 837,317.4 837.5,316.6 838,313.9 838.5,310.3 839,306.6 839.5,303.9 840,303.2 840.5,304.3 841,306.2 841.5,308.2 842,309.9 842.5,310.9 843,310.9 843.5,309.9 844,308.1 844.5,306.4 845,305.7 845.5,306.2 846,307.7 846.5,309.2 847,310.1 847.5,309.2 848,307.0 848.5,304.8 849,303.7 849.5,304.3 850,305.9 850.5,307.9 851,309.9 851.5,311.4 852,311.9 852.5,311.5 853,310.9 853.5,310.4 854,310.0 854.5,309.4 855,308.6 855.5,307.1 856,305.0 856.5,302.6 857,300.6 857.5,299.2 858,298.8 858.5,299.8 859,302.0 859.5,304.7 860,307.2 860.5,309.2 861,310.3 861.5,310.9 862,311.8 862.5,312.8 863,314.0 863.5,314.9 864,315.5 864.5,315.7 865,315.3 865.5,314.8 866,314.2 866.5,313.7 867,313.5 867.5,313.5 868,313.6 868.5,313.7 869,313.6 869.5,312.6 870,310.8 870.5,309.1 871,308.3 871.5,308.4 872,308.8 872.5,309.3 873,309.8 873.5,310.1 874,310.3 874.5,310.4 875,310.5 875.5,310.6 876,310.8 876.5,311.1 877,311.4 877.5,311.7 878,312.1 878.5,315.1 879,321.2 879.5,327.1 880,329.8 880.5,329.5 881,329.1 881.5,328.5 882,328.0 882.5,327.2 883,326.2 883.5,324.8 884,323.3 884.5,321.6 885,320.0 885.5,318.7 886,317.7 886.5,317.1 887,316.7 887.5,316.4 888,316.1 888.5,315.6 889,314.7 889.5,313.6 890,312.4 890.5,311.4 891,311.1 891.5,311.6 892,312.7 892.5,313.9 893,314.6 893.5,314.6 894,314.2 894.5,313.6 895,313.2 895.5,312.8 896,312.1 896.5,311.1 897,310.0 897.5,308.7 898,307.4 898.5,306.4 899,305.9 899.5,305.9 900,306.3 900.5,307.0 901,307.9 901.5,308.8 902,309.8 902.5,311.0 903,312.9 903.5,315.0 904,317.0 904.5,318.6 905,319.4 905.5,319.4 906,318.8 906.5,317.9 907,316.9 907.5,315.8 908,315.2 908.5,315.2 909,316.0 909.5,317.1 910,318.4 910.5,319.6 911,320.3 911.5,318.1 912,313.0 912.5,307.8 913,305.5 913.5,305.9 914,306.5 914.5,307.2 915,307.9 915.5,308.6 916,309.4 916.5,310.3 917,311.5 917.5,312.9 918,314.2 918.5,315.3 919,316.1 919.5,316.7 920,317.2 920.5,317.7 921,318.3 921.5,319.2 922,320.4 922.5,322.1 923,324.3 923.5,326.8 924,329.1 924.5,330.8 925,331.8 925.5,332.3 926,333.2 926.5,334.6 927,336.4 927.5,338.2 928,339.4 928.5,339.6 929,339.2 929.5,338.9 930,338.9 930.5,339.4 931,340.2 931.5,340.3 932,339.1 932.5,336.9 933,334.2 933.5,331.4 934,329.1 934.5,327.5 935,326.5 935.5,325.6 936,324.2 936.5,322.7 937,321.2 937.5,320.3 938,320.3 938.5,320.9 939,321.9 939.5,322.9 940,323.7 940.5,324.2 941,324.3 941.5,324.2 942,324.2 942.5,324.3 943,324.4 943.5,324.5 944,324.7 944.5,324.9 945,324.9 945.5,323.6 946,320.3 946.5,316.0 947,311.7 947.5,308.4 948,307.1 948.5,308.0 949,310.2 949.5,312.9 950,315.6 950.5,317.6 951,318.3 951.5,318.1 952,317.8 952.5,317.4 953,317.1 953.5,316.8 954,316.6 954.5,316.4 955,316.0 955.5,315.5 956,314.8 956.5,314.1 957,313.2 957.5,312.4 958,311.8 958.5,312.2 959,313.8 959.5,316.1 960,318.5 960.5,320.6 961,321.8 961.5,322.4 962,322.9 962.5,323.3 963,323.5 963.5,323.6 964,323.4 964.5,323.0 965,322.3 965.5,321.5 966,320.8 966.5,320.3 967,320.0 967.5,320.1 968,320.4 968.5,320.8 969,321.5 969.5,322.1 970,322.4 970.5,322.0 971,321.0 971.5,319.6 972,318.0 972.5,316.7 973,315.9 973.5,315.6 974,315.3 974.5,315.1 975,314.8 975.5,314.3 976,313.9 976.5,313.7 977,313.9 977.5,314.5 978,315.4 978.5,316.5 979,317.6 979.5,319.0 980,320.7 980.5,322.5 981,324.0 981.5,325.0 982,325.2 982.5,324.3 983,322.5 983.5,320.3 984,318.1 984.5,316.5 985,315.8 985.5,316.6 986,318.7 986.5,320.9 987,322.4 987.5,323.1 988,323.8 988.5,324.5 989,325.1 989.5,325.6 990,326.0 990.5,326.2 991,326.3 991.5,326.3 992,326.2 992.5,325.9 993,325.4 993.5,324.8 994,324.1 994.5,323.5 995,323.1 995.5,322.8 996,322.6 996.5,322.2 997,321.7 997.5,320.8 998,319.7 998.5,318.6 999,317.8 999.5,317.8 1000,318.8 1000.5,320.5 1001,322.6 1001.5,324.7 1002,326.6 1002.5,328.2 1003,329.3 1003.5,330.1 1004,331.0 1004.5,331.9 1005,332.8 1005.5,333.8 1006,334.8 1006.5,336.0 1007,337.0 1007.5,337.8 1008,338.0 1008.5,337.2 1009,335.7 1009.5,333.9 1010,332.4 1010.5,331.6 1011,331.7 1011.5,332.6 1012,334.2 1012.5,335.9 1013,337.6 1013.5,339.4 1014,341.2 1014.5,343.0 1015,344.2 1015.5,344.8 1016,344.8 1016.5,344.1 1017,343.1 1017.5,342.1 1018,341.5 1018.5,341.4 1019,341.5 1019.5,341.2 1020,340.1 1020.5,338.1 1021,335.3 1021.5,332.1 1022,328.9 1022.5,325.9 1023,323.4 1023.5,321.1 1024,318.8 1024.5,316.4 1025,314.2 1025.5,312.3 1026,310.6 1026.5,309.5 1027,309.0 1027.5,309.8 1028,311.8 1028.5,314.6 1029,317.4 1029.5,319.5 1030,320.3 1030.5,320.0 1031,319.4 1031.5,318.7 1032,318.0 1032.5,317.4 1033,317.0 1033.5,317.0 1034,317.1 1034.5,317.6 1035,318.2 1035.5,318.7 1036,319.1 1036.5,319.3 1037,319.3 1037.5,319.1 1038,318.7 1038.5,318.3 1039,317.8 1039.5,317.4 1040,317.0 1040.5,316.9 1041,317.0 1041.5,317.4 1042,317.9 1042.5,318.6 1043,319.2 1043.5,319.3 1044,318.7 1044.5,317.7 1045,316.5 1045.5,315.3 1046,314.7 1046.5,315.7 1047,318.4 1047.5,322.0 1048,325.1 1048.5,328.0 1049,331.1 1049.5,333.7 1050,334.8 1050.5,334.4 1051,332.7 1051.5,330.1 1052,326.9 1052.5,323.7 1053,320.9 1053.5,319.3 1054,319.2 1054.5,320.0 1055,321.0 1055.5,322.0 1056,322.8 1056.5,323.4 1057,323.9 1057.5,324.6 1058,325.8 1058.5,327.3 1059,328.7 1059.5,329.7 1060,330.1 1060.5,327.2 1061,321.0 1061.5,314.9 1062,312.3 1062.5,313.1 1063,314.8 1063.5,317.0 1064,319.1 1064.5,320.6 1065,321.0 1065.5,320.3 1066,318.8 1066.5,317.1 1067,315.4 1067.5,314.0 1068,312.9 1068.5,312.0 1069,310.9 1069.5,309.7 1070,308.5 1070.5,307.6 1071,307.1 1071.5,307.5 1072,308.7 1072.5,310.4 1073,312.3 1073.5,314.1 1074,315.3 1074.5,316.1 1075,316.9 1075.5,317.5 1076,317.9 1076.5,318.1 1077,318.0 1077.5,317.5 1078,316.7 1078.5,315.9 1079,315.2 1079.5,314.9 1080,315.1 1080.5,315.7 1081,316.3 1081.5,316.8 1082,317.1 1082.5,317.1 1083,316.9 1083.5,316.8 1084,317.0 1084.5,317.7 1085,319.0 1085.5,320.5 1086,321.8 1086.5,322.8 1087,323.4 1087.5,323.7 1088,323.9 1088.5,324.0 1089,324.1 1089.5,322.6 1090,319.0 1090.5,314.3 1091,309.8 1091.5,306.4 1092,305.3 1092.5,306.0 1093,307.0 1093.5,308.1 1094,309.5 1094.5,310.9 1095,312.5 1095.5,315.0 1096,318.5 1096.5,321.5 1097,322.8 1097.5,322.2 1098,320.6 1098.5,318.5 1099,316.5 1099.5,314.9 1100,314.3 1100.5,314.3 1101,314.3 1101.5,314.2 1102,313.8 1102.5,313.3 1103,313.0 1103.5,313.3 1104,314.1 1104.5,315.2 1105,316.4 1105.5,317.5 1106,318.0 1106.5,317.9 1107,317.1 1107.5,315.8 1108,314.3 1108.5,312.9 1109,311.8 1109.5,311.0 1110,310.6 1110.5,310.8 1111,311.6 1111.5,312.7 1112,314.2 1112.5,315.9 1113,317.6 1113.5,319.0 1114,319.9 1114.5,320.2 1115,320.2 1115.5,319.7 1116,319.0 1116.5,318.2 1117,317.5 1117.5,317.1 1118,317.2 1118.5,317.6 1119,318.1 1119.5,318.6 1120,318.8 1120.5,318.1 1121,316.4 1121.5,314.1 1122,311.6 1122.5,309.4 1123,307.7 1123.5,306.9 1124,307.7 1124.5,311.5 1125,317.3 1125.5,324.1 1126,330.7 1126.5,337.6 1127,345.5 1127.5,353.7 1128,361.7 1128.5,369.0 1129,375.3 1129.5,382.0 1130,389.2 1130.5,396.2 1131,402.6 1131.5,408.0 1132,411.9 1132.5,413.8 1133,414.3 1133.5,414.5 1134,414.5 1134.5,414.6 1135,414.9 1135.5,415.6 1136,416.7 1136.5,418.1 1137,419.8 1137.5,421.7 1138,423.8 1138.5,426.1 1139,428.6 1139.5,431.5 1140,436.2 1140.5,442.1 1141,448.7 1141.5,455.4 1142,461.5 1142.5,466.3 1143,469.2 1143.5,469.7 1144,469.4 1144.5,469.1 1145,468.8 1145.5,468.5 1146,468.4 1146.5,468.3 1147,468.3 1147.5,468.4 1148,468.6 1148.5,469.0 1149,469.5 1149.5,470.2 1150,470.9 1150.5,471.7 1151,472.5 1151.5,473.2 1152,474.0 1152.5,474.6 1153,475.1 1153.5,475.2 1154,473.9 1154.5,471.3 1155,467.5 1155.5,462.6 1156,456.9 1156.5,450.6 1157,443.9 1157.5,437.0 1158,430.2 1158.5,423.2 1159,413.0 1159.5,403.2 1160,399.0 1160.5,400.3 1161,403.0 1161.5,406.6 1162,410.5 1162.5,414.5 1163,418.4 1163.5,421.9 1164,426.0 1164.5,430.7 1165,435.4 1165.5,439.4 1166,442.3 1166.5,443.7 1167,443.2 1167.5,440.4 1168,436.0 1168.5,430.5 1169,424.3 1169.5,418.1 1170,412.2 1170.5,406.2 1171,399.4 1171.5,392.2 1172,385.2 1172.5,376.8 1173,367.4 1173.5,359.7 1174,356.4 1174.5,358.0 1175,362.1 1175.5,367.8 1176,374.0 1176.5,379.9 1177,385.4 1177.5,391.3 1178,397.3 1178.5,403.6 1179,410.6 1179.5,419.3 1180,428.8 1180.5,438.0 1181,445.8 1181.5,451.0 1182,452.4 1182.5,451.4 1183,449.1 1183.5,445.7 1184,441.2 1184.5,435.9 1185,429.6 1185.5,422.5 1186,414.7 1186.5,406.5 1187,398.6 1187.5,391.5 1188,385.6 1188.5,380.8 1189,377.0 1189.5,373.7 1190,371.1 1190.5,369.5 1191,369.4 1191.5,370.8 1192,373.6 1192.5,377.6 1193,382.3 1193.5,387.4 1194,392.7 1194.5,397.7 1195,402.5 1195.5,406.8 1196,410.5 1196.5,414.1 1197,418.1 1197.5,422.2 1198,426.1 1198.5,429.6 1199,432.5 1199.5,434.9 1200,436.8 1200.5,438.2 1201,439.1 1201.5,439.5 1202,439.4 1202.5,438.5 1203,437.0 1203.5,435.0 1204,432.6 1204.5,429.8 1205,426.9 1205.5,424.0 1206,421.0 1206.5,416.0 1207,409.5 1207.5,402.0 1208,394.2 1208.5,386.9 1209,380.7 1209.5,376.5 1210,374.9 1210.5,375.0 1211,375.4 1211.5,375.9 1212,376.6 1212.5,377.3 1213,378.2 1213.5,379.5 1214,383.4 1214.5,389.3 1215,396.0 1215.5,402.0 1216,405.9 1216.5,406.6 1217,405.9 1217.5,404.4 1218,402.4 1218.5,400.1 1219,397.7 1219.5,395.5 1220,393.6 1220.5,392.0 1221,390.6 1221.5,389.7 1222,389.4 1222.5,390.5 1223,393.0 1223.5,396.6 1224,401.1 1224.5,405.8 1225,410.4 1225.5,414.5 1226,417.9 1226.5,420.1 1227,421.0 1227.5,420.3 1228,417.6 1228.5,413.5 1229,408.4 1229.5,402.5 1230,396.1 1230.5,389.3 1231,382.1 1231.5,374.9 1232,368.3 1232.5,362.7 1233,358.7 1233.5,356.7 1234,357.0 1234.5,359.3 1235,363.3 1235.5,368.5 1236,374.5 1236.5,381.1 1237,387.9 1237.5,394.5 1238,400.7 1238.5,406.0 1239,410.3 1239.5,413.4 1240,414.9 1240.5,414.8 1241,413.4 1241.5,410.9 1242,407.3 1242.5,402.7 1243,397.3 1243.5,391.2 1244,384.8 1244.5,378.1 1245,371.4 1245.5,364.8 1246,358.6 1246.5,352.9 1247,348.0 1247.5,344.1 1248,341.2 1248.5,339.6 1249,339.5 1249.5,340.9 1250,343.9 1250.5,348.0 1251,353.0 1251.5,358.6 1252,364.7 1252.5,370.9 1253,377.0 1253.5,382.8 1254,387.8 1254.5,391.8 1255,394.1 1255.5,394.5 1256,394.1 1256.5,393.3 1257,392.4 1257.5,391.5 1258,390.4 1258.5,389.1 1259,387.4"/>
<polyline stroke="#3cb371" points="108,316.0 108.5,315.9 109,315.7 109.5,315.3 110,314.3 110.5,313.0 111,311.8 111.5,310.5 112,309.1 112.5,307.8 113,306.9 113.5,306.6 114,307.7 114.5,310.0 115,312.1 115.5,312.9 116,313.1 116.5,312.8 117,312.3 117.5,312.0 118,312.3 118.5,313.3 119,315.1 119.5,317.3 120,319.4 120.5,320.9 121,321.7 121.5,322.1 122,322.3 122.5,322.5 123,323.1 123.5,324.4 124,326.1 124.5,327.8 125,329.2 125.5,329.8 126,329.6 126.5,328.5 127,326.7 127.5,324.7 128,322.8 128.5,321.2 129,319.7 129.5,318.5 130,317.7 130.5,317.3 131,317.2 131.5,317.5 132,318.2 132.5,319.5 133,321.0 133.5,322.5 134,323.9 134.5,324.8 135,325.6 135.5,326.4 136,327.3 136.5,328.6 137,330.1 137.5,331.7 138,333.0 138.5,333.7 139,333.4 139.5,332.0 140,330.1 140.5,327.9 141,326.0 141.5,324.8 142,324.4 142.5,324.2 143,324.0 143.5,323.5 144,322.9 144.5,322.2 145,321.5 145.5,320.9 146,320.7 146.5,320.8 147,321.1 147.5,321.3 148,321.2 148.5,320.4 149,319.2 149.5,317.9 150,316.9 150.5,316.5 151,316.7 151.5,316.9 152,316.8 152.5,316.3 153,315.5 153.5,314.8 154,314.5 154.5,314.5 155,314.5 155.5,314.4 156,313.9 156.5,313.1 157,312.4 157.5,312.2 158,312.4 158.5,312.9 159,313.2 159.5,313.1 160,312.4 160.5,311.4 161,310.4 161.5,309.5 162,309.0 162.5,308.9 163,308.9 163.5,309.1 164,309.3 164.5,309.5 165,309.7 165.5,310.0 166,310.3 166.5,311.2 167,313.1 167.5,315.5 168,317.7 168.5,319.3 169,319.8 169.5,319.4 170,318.9 170.5,318.3 171,317.7 171.5,317.1 172,316.7 172.5,316.4 173,316.2 173.5,316.0 174,315.8 174.5,315.5 175,315.2 175.5,314.8 176,314.5 176.5,314.5 177,314.8 177.5,315.4 178,316.2 178.5,316.9 179,317.5 179.5,317.7 180,317.7 180.5,317.7 181,318.1 181.5,319.3 182,321.1 182.5,322.9 183,324.3 183.5,324.6 184,324.1 184.5,322.9 185,321.5 185.5,320.2 186,319.1 186.5,318.1 187,317.0 187.5,316.0 188,315.1 188.5,314.4 189,314.1 189.5,314.0 190,313.9 190.5,313.9 191,313.9 191.5,314.0 192,314.2 192.5,314.5 193,315.0 193.5,315.5 194,316.1 194.5,316.7 195,317.3 195.5,317.8 196,318.3 196.5,318.6 197,318.7 197.5,318.4 198,317.6 198.5,316.3 199,314.7 199.5,313.1 200,311.7 200.5,310.6 201,309.9 201.5,309.7 202,309.9 202.5,310.3 203,310.8 203.5,311.4 204,312.1 204.5,312.7 205,313.4 205.5,313.9 206,314.5 206.5,315.1 207,315.9 207.5,316.6 208,317.3 208.5,317.9 209,318.3 209.5,318.6 210,318.8 210.5,318.8 211,318.5 211.5,317.8 212,316.8 212.5,315.8 213,315.2 213.5,315.1 214,315.4 214.5,315.9 215,316.4 215.5,316.7 216,316.7 216.5,316.6 217,316.6 217.5,316.7 218,317.1 218.5,317.6 219,318.2 219.5,318.8 220,319.3 220.5,319.7 221,320.1 221.5,320.4 222,320.8 222.5,321.2 223,321.6 223.5,322.0 224,322.4 224.5,322.9 225,323.3 225.5,323.4 226,321.9 226.5,319.1 227,315.5 227.5,311.9 228,308.9 228.5,307.2 229,307.2 229.5,308.4 230,310.2 230.5,312.5 231,315.1 231.5,317.5 232,319.6 232.5,321.4 233,322.9 233.5,324.5 234,326.3 234.5,328.2 235,330.0 235.5,331.5 236,332.6 236.5,332.8 237,332.0 237.5,330.4 238,328.0 238.5,325.1 239,322.1 239.5,319.2 240,316.6 240.5,314.5 241,313.4 241.5,313.2 242,313.5 242.5,314.2 243,315.3 243.5,316.6 244,318.0 244.5,319.4 245,320.7 245.5,321.7 246,322.3 246.5,322.5 247,322.2 247.5,321.5 248,320.7 248.5,319.7 249,318.6 249.5,317.4 250,316.4 250.5,315.6 251,314.9 251.5,314.2 252,313.7 252.5,313.3 253,312.9 253.5,312.7 254,312.4 254.5,312.2 255,312.1 255.5,312.3 256,312.9 256.5,313.8 257,315.1 257.5,316.4 258,317.7 258.5,318.8 259,319.7 259.5,320.4 260,321.1 260.5,322.1 261,323.4 261.5,324.8 262,326.1 262.5,327.0 263,327.2 263.5,326.0 264,323.5 264.5,320.3 265,317.3 265.5,315.1 266,314.3 266.5,314.7 267,315.2 267.5,315.3 268,315.1 268.5,314.6 269,314.2 269.5,313.9 270,313.9 270.5,314.2 271,315.3 271.5,316.9 272,318.6 272.5,320.2 273,321.5 273.5,322.1 274,321.8 274.5,320.4 275,318.1 275.5,315.2 276,312.0 276.5,308.7 277,305.7 277.5,303.2 278,301.2 278.5,300.2 279,300.1 279.5,300.6 280,301.4 280.5,302.6 281,304.1 281.5,305.8 282,308.7 282.5,312.6 283,315.1 283.5,316.0 284,316.8 284.5,317.3 285,317.6 285.5,317.6 286,317.5 286.5,316.8 287,315.5 287.5,314.0 288,312.7 288.5,311.8 289,311.6 289.5,312.0 290,312.9 290.5,314.0 291,315.4 291.5,317.0 292,318.8 292.5,320.4 293,321.8 293.5,323.0 294,323.8 294.5,324.3 295,324.7 295.5,326.4 296,329.9 296.5,334.7 297,340.0 297.5,344.3 298,346.6 298.5,346.5 299,344.6 299.5,341.5 300,337.7 300.5,334.0 301,330.9 301.5,328.3 302,326.2 302.5,324.0 303,321.2 303.5,317.8 304,314.4 304.5,311.4 305,309.1 305.5,307.8 306,307.4 306.5,307.7 307,308.1 307.5,308.5 308,308.9 308.5,309.3 309,309.7 309.5,310.0 310,310.4 310.5,310.6 311,310.9 311.5,311.0 312,311.1 312.5,311.1 313,311.1 313.5,310.6 314,309.4 314.5,307.9 315,306.4 315.5,305.3 316,304.7 316.5,304.6 317,304.7 317.5,305.1 318,305.7 318.5,307.2 319,309.5 319.5,312.1 320,314.5 320.5,316.0 321,316.2 321.5,315.4 322,314.1 322.5,312.8 323,311.5 323.5,310.5 324,309.6 324.5,309.2 325,309.2 325.5,309.6 326,310.5 326.5,311.5 327,312.6 327.5,313.6 328,314.4 328.5,315.5 329,317.1 329.5,318.5 330,319.3 330.5,318.8 331,317.1 331.5,314.7 332,312.2 332.5,310.2 333,309.1 333.5,309.2 334,309.8 334.5,311.0 335,312.5 335.5,314.5 336,317.0 336.5,319.5 337,321.4 337.5,322.5 338,322.5 338.5,321.6 339,320.3 339.5,319.1 340,318.6 340.5,319.6 341,322.3 341.5,325.8 342,329.3 342.5,331.8 343,332.5 343.5,331.6 344,329.5 344.5,326.8 345,323.9 345.5,321.0 346,318.3 346.5,315.8 347,313.5 347.5,311.7 348,310.9 348.5,310.9 349,311.4 349.5,312.2 350,313.1 350.5,313.7 351,314.0 351.5,313.7 352,312.9 352.5,311.9 353,310.9 353.5,310.1 354,309.7 354.5,309.6 355,309.4 355.5,309.2 356,309.0 356.5,308.9 357,308.9 357.5,308.6 358,307.7 358.5,306.4 359,305.2 359.5,304.1 360,303.7 360.5,304.2 361,305.6 361.5,307.7 362,309.9 362.5,311.7 363,312.6 363.5,312.2 364,311.1 364.5,310.0 365,309.4 365.5,309.5 366,309.9 366.5,310.6 367,311.9 367.5,313.6 368,315.4 368.5,317.2 369,318.8 369.5,320.0 370,321.0 370.5,321.9 371,323.0 371.5,324.3 372,325.2 372.5,325.6 373,325.3 373.5,324.2 374,322.7 374.5,320.9 375,319.1 375.5,317.6 376,316.3 376.5,314.8 377,312.9 377.5,310.6 378,308.0 378.5,305.3 379,302.8 379.5,300.9 380,300.0 380.5,300.0 381,300.7 381.5,301.9 382,303.2 382.5,304.6 383,305.7 383.5,306.6 384,307.2 384.5,307.7 385,307.9 385.5,307.7 386,307.3 386.5,306.8 387,306.6 387.5,306.8 388,307.2 388.5,307.4 389,307.3 389.5,306.7 390,305.9 390.5,305.1 391,304.6 391.5,304.5 392,304.8 392.5,306.3 393,308.7 393.5,310.6 394,311.2 394.5,311.6 395,311.9 395.5,312.4 396,313.3 396.5,314.4 397,315.9 397.5,317.7 398,319.6 398.5,321.5 399,323.0 399.5,324.2 400,325.2 400.5,325.8 401,326.1 401.5,326.1 402,325.8 402.5,325.6 403,325.6 403.5,325.7 404,326.0 404.5,326.3 405,326.4 405.5,326.3 406,325.8 406.5,325.2 407,324.4 407.5,323.1 408,321.4 408.5,319.4 409,317.1 409.5,314.5 410,311.8 410.5,308.9 411,306.1 411.5,303.4 412,301.2 412.5,299.4 413,298.4 413.5,298.2 414,299.5 414.5,301.8 415,304.6 415.5,307.5 416,309.8 416.5,311.2 417,311.4 417.5,311.1 418,310.6 418.5,309.9 419,308.9 419.5,307.7 420,306.3 420.5,304.8 421,303.1 421.5,301.2 422,299.2 422.5,297.2 423,295.2 423.5,293.6 424,292.5 424.5,291.9 425,291.5 425.5,291.3 426,291.1 426.5,291.1 427,291.3 427.5,292.0 428,293.5 428.5,295.5 429,297.7 429.5,299.8 430,301.6 430.5,302.6 431,302.8 431.5,302.4 432,301.6 432.5,300.8 433,300.4 433.5,300.2 434,300.3 434.5,300.4 435,300.5 435.5,300.4 436,300.1 436.5,299.8 437,299.4 437.5,299.2 438,299.0 438.5,298.8 439,298.3 439.5,297.4 440,296.3 440.5,295.1 441,293.8 441.5,292.6 442,291.4 442.5,290.3 443,289.1 443.5,288.0 444,286.9 444.5,285.8 445,284.8 445.5,283.8 446,282.8 446.5,281.8 447,280.9 447.5,280.2 448,279.6 448.5,279.0 449,278.6 449.5,278.1 450,277.6 450.5,277.3 451,277.0 451.5,276.9 452,276.9 452.5,277.0 453,277.2 453.5,277.4 454,277.5 454.5,277.7 455,277.9 455.5,278.0 456,278.1 456.5,278.2 457,278.3 457.5,278.2 458,278.1 458.5,278.0 459,277.8 459.5,277.5 460,277.1 460.5,276.6 461,275.9 461.5,275.3 462,274.7 462.5,274.3 463,274.2 463.5,274.3 464,274.6 464.5,275.0 465,275.4 465.5,275.8 466,276.0 466.5,276.4 467,276.9 467.5,277.6 468,278.4 468.5,279.1 469,279.6 469.5,280.0 470,280.2 470.5,280.3 471,280.5 471.5,281.0 472,281.6 472.5,282.3 473,282.9 473.5,283.1 474,283.2 474.5,283.0 475,282.8 475.5,282.0 476,280.3 476.5,277.8 477,274.7 477.5,271.2 478,267.5 478.5,263.8 479,260.3 479.5,257.3 480,255.0 480.5,253.3 481,251.8 481.5,250.3 482,249.0 482.5,247.9 483,246.8 483.5,245.7 484,244.8 484.5,244.0 485,243.3 485.5,242.7 486,242.0 486.5,241.2 487,240.1 487.5,238.9 488,237.4 488.5,235.9 489,234.3 489.5,232.8 490,231.4 490.5,230.1 491,228.9 491.5,227.8 492,226.9 492.5,226.1 493,225.3 493.5,224.7 494,224.4 494.5,224.2 495,224.3 495.5,224.6 496,225.1 496.5,225.8 497,226.7 497.5,227.6 498,228.5 498.5,229.3 499,229.8 499.5,230.1 500,230.1 500.5,229.8 501,229.2 501.5,228.4 502,227.5 502.5,226.4 503,225.3 503.5,224.2 504,223.0 504.5,221.7 505,220.4 505.5,218.9 506,217.4 506.5,216.0 507,214.7 507.5,213.6 508,212.5 508.5,211.6 509,210.7 509.5,209.8 510,209.0 510.5,208.1 511,207.2 511.5,206.2 512,205.1 512.5,204.0 513,202.9 513.5,201.9 514,201.2 514.5,200.8 515,200.6 515.5,200.5 516,200.4 516.5,200.4 517,200.3 517.5,200.1 518,199.7 518.5,199.1 519,198.3 519.5,197.1 520,195.5 520.5,193.6 521,191.7 521.5,189.8 522,188.1 522.5,186.6 523,185.5 523.5,184.8 524,184.6 524.5,185.0 525,186.0 525.5,187.4 526,189.2 526.5,191.4 527,194.0 527.5,196.8 528,199.6 528.5,203.2 529,207.5 529.5,211.0 530,212.4 530.5,211.4 531,209.0 531.5,205.6 532,201.8 532.5,198.1 533,195.0 533.5,192.9 534,192.1 534.5,192.4 535,192.8 535.5,193.5 536,194.4 536.5,195.4 537,196.6 537.5,197.9 538,199.2 538.5,200.5 539,201.6 539.5,202.4 540,202.9 540.5,202.8 541,202.2 541.5,201.0 542,199.4 542.5,197.4 543,195.4 543.5,193.4 544,191.5 544.5,189.9 545,188.5 545.5,187.4 546,186.4 546.5,185.5 547,184.6 547.5,183.6 548,182.6 548.5,181.7 549,181.0 549.5,180.8 550,181.1 550.5,181.6 551,181.8 551.5,181.6 552,180.8 552.5,180.0 553,179.3 553.5,179.3 554,179.9 554.5,181.0 555,182.2 555.5,183.4 556,184.3 556.5,184.7 557,184.7 557.5,184.5 558,184.2 558.5,183.9 559,183.7 559.5,183.7 560,183.5 560.5,183.0 561,182.4 561.5,181.6 562,180.7 562.5,179.9 563,179.2 563.5,178.7 564,178.5 564.5,178.7 565,179.4 565.5,180.4 566,181.6 566.5,182.9 567,184.0 567.5,184.9 568,185.6 568.5,186.2 569,186.7 569.5,187.1 570,187.4 570.5,186.9 571,185.6 571.5,183.6 572,181.2 572.5,178.5 573,175.7 573.5,173.1 574,170.8 574.5,169.0 575,167.2 575.5,165.6 576,164.1 576.5,162.8 577,161.5 577.5,160.3 578,159.1 578.5,157.9 579,156.5 579.5,154.8 580,153.0 580.5,151.0 581,148.9 581.5,146.7 582,144.6 582.5,142.6 583,141.0 583.5,139.7 584,138.8 584.5,138.3 585,138.1 585.5,138.0 586,138.0 586.5,137.9 587,138.0 587.5,138.1 588,138.2 588.5,138.3 589,138.0 589.5,135.5 590,131.2 590.5,126.0 591,120.9 591.5,116.9 592,114.7 592.5,115.1 593,116.7 593.5,119.1 594,121.6 594.5,124.0 595,125.6 595.5,125.9 596,124.7 596.5,122.2 597,119.1 597.5,116.1 598,113.8 598.5,112.5 599,112.4 599.5,112.5 600,112.6 600.5,112.9 601,113.6 601.5,114.8 602,116.1 602.5,117.2 603,117.8 603.5,117.2 604,115.0 604.5,111.9 605,108.7 605.5,106.0 606,104.4 606.5,104.1 607,104.2 607.5,104.3 608,104.3 608.5,104.2 609,104.3 609.5,104.4 610,104.7 610.5,104.9 611,104.8 611.5,104.5 612,104.1 612.5,103.4 613,102.5 613.5,101.2 614,99.2 614.5,96.8 615,94.3 615.5,92.1 616,90.3 616.5,89.3 617,88.4 617.5,87.5 618,86.7 618.5,86.0 619,85.4 619.5,85.1 620,85.0 620.5,86.3 621,89.2 621.5,92.4 622,95.5 622.5,99.2 623,103.2 623.5,106.9 624,109.8 624.5,111.3 625,110.9 625.5,108.9 626,106.2 626.5,103.7 627,102.3 627.5,102.7 628,104.7 628.5,107.6 629,110.7 629.5,113.0 630,114.0 630.5,113.5 631,112.0 631.5,110.2 632,108.6 632.5,107.7 633,108.8 633.5,112.1 634,116.3 634.5,120.4 635,123.2 635.5,124.6 636,125.7 636.5,126.5 637,127.3 637.5,128.2 638,129.3 638.5,130.7 639,132.4 639.5,134.7 640,136.9 640.5,138.6 641,139.3 641.5,138.8 642,138.1 642.5,137.7 643,137.6 643.5,137.8 644,138.1 644.5,138.3 645,138.7 645.5,140.2 646,142.2 646.5,144.1 647,145.4 647.5,145.3 648,144.9 648.5,144.4 649,144.4 649.5,145.0 650,146.9 650.5,149.4 651,151.7 651.5,154.2 652,156.7 652.5,159.0 653,161.0 653.5,162.7 654,164.7 654.5,166.9 655,169.0 655.5,170.7 656,171.5 656.5,171.7 657,171.4 657.5,170.8 658,170.0 658.5,168.9 659,168.0 659.5,167.9 660,170.5 660.5,174.9 661,179.2 661.5,181.8 662,183.4 662.5,184.3 663,184.8 663.5,185.1 664,185.4 664.5,185.8 665,186.4 665.5,187.0 666,187.7 666.5,188.4 667,189.1 667.5,189.8 668,190.6 668.5,193.0 669,197.1 669.5,201.6 670,204.8 670.5,206.8 671,208.7 671.5,210.5 672,212.2 672.5,213.8 673,215.2 673.5,216.5 674,217.6 674.5,218.4 675,219.0 675.5,219.5 676,220.1 676.5,220.7 677,221.4 677.5,222.2 678,223.0 678.5,223.6 679,224.0 679.5,224.0 680,223.8 680.5,223.5 681,223.3 681.5,223.3 682,223.4 682.5,223.6 683,223.9 683.5,224.0 684,224.1 684.5,224.1 685,224.0 685.5,224.5 686,226.0 686.5,228.0 687,229.9 687.5,231.9 688,234.0 688.5,236.1 689,238.1 689.5,240.0 690,241.8 690.5,243.4 691,244.9 691.5,246.0 692,246.8 692.5,247.6 693,248.3 693.5,248.9 694,249.4 694.5,249.7 695,249.7 695.5,249.6 696,249.4 696.5,249.1 697,249.0 697.5,248.9 698,248.9 698.5,248.9 699,248.8 699.5,249.4 700,251.1 700.5,253.6 701,256.7 701.5,259.9 702,262.4 702.5,263.7 703,263.7 703.5,263.4 704,262.9 704.5,262.3 705,261.8 705.5,261.4 706,261.1 706.5,261.0 707,261.0 707.5,261.2 708,261.6 708.5,261.9 709,262.4 709.5,262.7 710,263.1 710.5,263.3 711,263.5 711.5,263.6 712,263.7 712.5,264.1 713,264.9 713.5,266.2 714,267.9 714.5,269.9 715,272.0 715.5,274.0 716,275.6 716.5,276.8 717,277.6 717.5,278.1 718,278.6 718.5,279.0 719,279.4 719.5,279.9 720,280.5 720.5,281.3 721,282.1 721.5,282.8 722,283.5 722.5,284.0 723,284.6 723.5,285.3 724,286.7 724.5,288.7 725,291.4 725.5,294.3 726,297.3 726.5,299.9 727,302.1 727.5,303.8 728,305.6 728.5,307.7 729,310.7 729.5,313.7 730,315.5 730.5,315.5 731,313.9 731.5,311.1 732,307.6 732.5,303.9 733,300.5 733.5,297.5 734,295.2 734.5,293.4 735,292.3 735.5,291.3 736,290.1 736.5,289.0 737,288.2 737.5,287.9 738,288.1 738.5,288.6 739,289.2 739.5,289.8 740,290.2 740.5,290.3 741,290.4 741.5,290.8 742,291.5 742.5,292.8 743,294.6 743.5,296.3 744,298.0 744.5,299.3 745,300.4 745.5,301.5 746,302.6 746.5,304.0 747,305.6 747.5,307.3 748,308.6 748.5,309.3 749,309.4 749.5,308.9 750,308.1 750.5,307.2 751,306.5 751.5,306.3 752,306.4 752.5,306.8 753,307.2 753.5,307.4 754,307.3 754.5,307.1 755,306.8 755.5,306.7 756,306.7 756.5,307.0 757,307.4 757.5,307.9 758,308.4 758.5,308.9 759,309.7 759.5,310.7 760,311.8 760.5,313.7 761,316.7 761.5,319.6 762,321.2 762.5,320.3 763,317.1 763.5,312.5 764,307.4 764.5,303.1 765,301.0 765.5,300.8 766,301.5 766.5,302.9 767,304.6 767.5,306.2 768,307.1 768.5,306.8 769,305.4 769.5,303.3 770,300.8 770.5,298.6 771,297.0 771.5,296.3 772,296.9 772.5,298.4 773,300.7 773.5,303.6 774,306.8 774.5,310.2 775,313.5 775.5,318.0 776,323.8 776.5,328.8 777,331.0 777.5,330.4 778,328.6 778.5,326.1 779,323.3 779.5,320.6 780,318.6 780.5,317.1 781,315.6 781.5,314.0 782,312.5 782.5,311.0 783,309.6 783.5,308.3 784,307.2 784.5,306.5 785,306.2 785.5,306.9 786,308.6 786.5,310.8 787,313.0 787.5,314.6 788,315.1 788.5,315.0 789,314.7 789.5,314.5 790,314.1 790.5,313.8 791,313.6 791.5,313.2 792,312.6 792.5,311.9 793,311.3 793.5,310.8 794,310.7 794.5,310.9 795,311.4 795.5,311.9 796,312.4 796.5,312.6 797,312.5 797.5,312.0 798,311.2 798.5,310.1 799,308.9 799.5,307.4 800,305.8 800.5,304.0 801,302.1 801.5,300.6 802,299.8 802.5,299.9 803,300.8 803.5,302.4 804,304.1 804.5,305.8 805,307.1 805.5,307.9 806,308.5 806.5,309.0 807,309.4 807.5,309.8 808,310.3 808.5,310.9 809,311.8 809.5,313.7 810,316.9 810.5,320.6 811,324.1 811.5,326.6 812,327.4 812.5,325.8 813,322.5 813.5,318.5 814,314.8 814.5,312.4 815,312.1 815.5,313.2 816,314.3 816.5,314.9 817,314.8 817.5,314.5 818,314.2 818.5,314.7 819,315.7 819.5,316.7 820,316.9 820.5,316.0 821,314.1 821.5,312.0 822,310.1 822.5,308.8 823,308.5 823.5,309.1 824,310.6 824.5,312.6 825,314.5 825.5,316.0 826,316.4 826.5,315.7 827,314.4 827.5,312.8 828,311.2 828.5,310.1 829,309.6 829.5,309.3 830,309.0 830.5,308.5 831,307.9 831.5,307.0 832,306.3 832.5,305.9 833,305.9 833.5,307.5 834,311.3 834.5,316.1 835,320.7 835.5,324.0 836,325.1 836.5,324.7 837,324.2 837.5,323.7 838,323.1 838.5,322.4 839,321.6 839.5,320.4 840,318.5 840.5,316.3 841,314.0 841.5,312.0 842,310.4 842.5,309.5 843,309.3 843.5,309.9 844,310.8 844.5,311.8 845,312.8 845.5,313.7 846,314.5 846.5,315.0 847,315.1 847.5,314.9 848,314.4 848.5,313.7 849,312.9 849.5,312.1 850,311.2 850.5,310.4 851,309.8 851.5,309.3 852,308.8 852.5,308.2 853,307.6 853.5,307.1 854,306.7 854.5,306.5 855,306.5 855.5,306.4 856,305.9 856.5,305.1 857,304.1 857.5,303.0 858,302.3 858.5,302.2 859,302.9 859.5,304.3 860,305.9 860.5,307.7 861,309.2 861.5,310.5 862,311.9 862.5,313.3 863,314.4 863.5,315.2 864,315.6 864.5,315.5 865,315.3 865.5,314.9 866,314.4 866.5,313.9 867,313.4 867.5,313.0 868,312.5 868.5,311.8 869,311.1 869.5,310.4 870,309.9 870.5,309.6 871,309.5 871.5,308.5 872,306.3 872.5,304.0 873,303.0 873.5,303.1 874,303.7 874.5,304.6 875,305.9 875.5,307.3 876,308.6 876.5,309.7 877,310.5 877.5,311.2 878,311.8 878.5,312.3 879,312.8 879.5,313.8 880,315.0 880.5,316.4 881,317.7 881.5,318.9 882,319.7 882.5,320.2 883,320.8 883.5,321.2 884,321.5 884.5,321.8 885,321.8 885.5,320.8 886,318.4 886.5,315.2 887,311.8 887.5,308.9 888,307.1 888.5,306.1 889,305.2 889.5,304.5 890,303.9 890.5,303.4 891,303.2 891.5,303.6 892,304.6 892.5,305.8 893,307.1 893.5,308.0 894,308.3 894.5,307.3 895,305.3 895.5,303.3 896,302.4 896.5,302.9 897,304.2 897.5,305.9 898,307.6 898.5,308.8 899,309.4 899.5,309.5 900,309.6 900.5,309.9 901,310.4 901.5,310.9 902,311.4 902.5,311.3 903,310.4 903.5,308.8 904,306.9 904.5,304.8 905,303.1 905.5,301.5 906,299.9 906.5,298.5 907,297.4 907.5,296.7 908,296.4 908.5,296.7 909,297.8 909.5,299.4 910,301.2 910.5,303.2 911,305.1 911.5,307.1 912,309.4 912.5,311.1 913,311.9 913.5,311.3 914,309.9 914.5,308.0 915,306.2 915.5,305.0 916,304.6 916.5,306.1 917,309.1 917.5,312.0 918,313.3 918.5,312.4 919,310.6 919.5,308.8 920,308.0 920.5,308.7 921,310.3 921.5,312.5 922,315.1 922.5,317.8 923,320.2 923.5,322.3 924,324.0 924.5,326.0 925,328.5 925.5,331.3 926,334.0 926.5,336.1 927,337.2 927.5,335.3 928,330.3 928.5,325.1 929,322.6 929.5,322.5 930,322.7 930.5,323.2 931,323.9 931.5,324.8 932,325.5 932.5,325.8 933,325.8 933.5,325.4 934,324.7 934.5,323.8 935,323.0 935.5,322.5 936,322.2 936.5,322.3 937,322.8 937.5,323.6 938,324.3 938.5,324.8 939,325.0 939.5,324.7 940,324.1 940.5,323.3 941,322.5 941.5,321.7 942,321.0 942.5,319.9 943,318.4 943.5,316.5 944,314.5 944.5,312.6 945,311.0 945.5,309.6 946,308.1 946.5,306.7 947,305.5 947.5,304.7 948,304.2 948.5,304.0 949,304.0 949.5,304.2 950,304.8 950.5,305.6 951,306.8 951.5,308.2 952,309.8 952.5,311.5 953,313.6 953.5,315.6 954,317.2 954.5,318.3 955,318.6 955.5,318.4 956,317.9 956.5,317.3 957,316.7 957.5,316.1 958,315.5 958.5,314.9 959,314.4 959.5,313.7 960,312.7 960.5,311.4 961,310.3 961.5,309.6 962,309.5 962.5,310.2 963,311.7 963.5,313.5 964,315.5 964.5,317.5 965,319.6 965.5,323.7 966,330.1 966.5,336.3 967,339.4 967.5,338.2 968,334.3 968.5,329.4 969,325.5 969.5,322.9 970,320.5 970.5,318.6 971,317.2 971.5,316.3 972,316.0 972.5,316.7 973,318.1 973.5,320.0 974,322.0 974.5,323.4 975,324.0 975.5,322.3 976,318.0 976.5,312.5 977,306.9 977.5,302.5 978,300.8 978.5,301.1 979,301.9 979.5,303.0 980,304.4 980.5,306.0 981,307.7 981.5,309.9 982,312.7 982.5,315.9 983,318.8 983.5,321.2 984,322.4 984.5,322.7 985,322.8 985.5,322.8 986,322.7 986.5,322.6 987,322.6 987.5,321.3 988,318.0 988.5,313.6 989,309.2 989.5,305.7 990,304.2 990.5,304.9 991,306.6 991.5,309.1 992,311.8 992.5,314.1 993,315.5 993.5,316.2 994,316.7 994.5,317.1 995,317.8 995.5,318.6 996,319.6 996.5,320.8 997,322.2 997.5,323.5 998,324.6 998.5,325.3 999,325.6 999.5,324.7 1000,322.2 1000.5,318.9 1001,315.5 1001.5,312.8 1002,311.5 1002.5,311.6 1003,312.4 1003.5,313.8 1004,315.6 1004.5,317.6 1005,319.5 1005.5,321.4 1006,323.4 1006.5,325.0 1007,326.1 1007.5,326.6 1008,326.4 1008.5,325.9 1009,325.5 1009.5,325.3 1010,325.5 1010.5,325.9 1011,326.3 1011.5,326.6 1012,326.6 1012.5,326.5 1013,326.5 1013.5,326.9 1014,327.6 1014.5,328.9 1015,330.7 1015.5,332.7 1016,334.7 1016.5,336.1 1017,336.8 1017.5,336.5 1018,335.2 1018.5,333.2 1019,331.0 1019.5,328.8 1020,327.0 1020.5,325.9 1021,325.6 1021.5,326.2 1022,327.2 1022.5,328.4 1023,329.8 1023.5,331.0 1024,332.1 1024.5,332.8 1025,332.9 1025.5,331.7 1026,328.8 1026.5,325.1 1027,321.4 1027.5,318.6 1028,317.5 1028.5,318.5 1029,320.9 1029.5,324.1 1030,327.2 1030.5,329.6 1031,330.6 1031.5,329.9 1032,328.1 1032.5,325.5 1033,322.8 1033.5,320.2 1034,318.3 1034.5,317.0 1035,315.9 1035.5,314.8 1036,313.7 1036.5,312.5 1037,311.1 1037.5,309.5 1038,307.6 1038.5,305.6 1039,303.6 1039.5,301.9 1040,300.6 1040.5,299.9 1041,299.9 1041.5,300.6 1042,301.7 1042.5,302.9 1043,304.0 1043.5,305.0 1044,305.8 1044.5,307.3 1045,309.7 1045.5,312.3 1046,314.4 1046.5,316.2 1047,318.0 1047.5,319.3 1048,319.8 1048.5,319.2 1049,317.8 1049.5,315.9 1050,313.9 1050.5,312.2 1051,311.1 1051.5,310.2 1052,309.2 1052.5,308.1 1053,306.9 1053.5,305.7 1054,304.6 1054.5,303.8 1055,303.3 1055.5,304.1 1056,306.4 1056.5,308.8 1057,310.2 1057.5,310.0 1058,308.5 1058.5,306.0 1059,302.8 1059.5,299.6 1060,297.1 1060.5,295.8 1061,295.7 1061.5,296.5 1062,297.2 1062.5,297.8 1063,298.3 1063.5,298.9 1064,299.7 1064.5,301.5 1065,304.3 1065.5,307.1 1066,308.5 1066.5,306.2 1067,303.8 1067.5,304.4 1068,305.8 1068.5,307.7 1069,309.7 1069.5,311.3 1070,312.0 1070.5,312.2 1071,312.3 1071.5,312.2 1072,312.1 1072.5,312.0 1073,312.0 1073.5,311.7 1074,310.7 1074.5,309.3 1075,307.8 1075.5,306.5 1076,305.7 1076.5,307.4 1077,311.7 1077.5,316.2 1078,318.4 1078.5,318.6 1079,318.7 1079.5,318.8 1080,318.8 1080.5,318.5 1081,318.3 1081.5,318.7 1082,319.7 1082.5,320.7 1083,321.0 1083.5,320.2 1084,318.7 1084.5,316.7 1085,314.5 1085.5,312.4 1086,310.7 1086.5,309.6 1087,309.3 1087.5,309.5 1088,309.9 1088.5,310.5 1089,311.0 1089.5,311.7 1090,312.3 1090.5,313.4 1091,315.0 1091.5,316.5 1092,317.2 1092.5,316.9 1093,315.8 1093.5,314.0 1094,312.0 1094.5,310.0 1095,308.3 1095.5,307.0 1096,305.9 1096.5,305.3 1097,305.5 1097.5,306.5 1098,307.9 1098.5,309.3 1099,310.3 1099.5,310.5 1100,310.1 1100.5,309.3 1101,308.7 1101.5,308.4 1102,308.3 1102.5,308.4 1103,308.2 1103.5,307.7 1104,306.9 1104.5,306.0 1105,304.9 1105.5,303.2 1106,300.4 1106.5,297.1 1107,293.6 1107.5,290.4 1108,287.8 1108.5,286.7 1109,287.4 1109.5,289.8 1110,293.4 1110.5,297.5 1111,301.4 1111.5,304.4 1112,306.1 1112.5,306.1 1113,305.1 1113.5,303.9 1114,302.9 1114.5,302.3 1115,302.0 1115.5,301.7 1116,301.3 1116.5,300.5 1117,299.6 1117.5,298.8 1118,298.6 1118.5,299.2 1119,300.7 1119.5,303.0 1120,305.6 1120.5,308.3 1121,310.9 1121.5,313.1 1122,314.9 1122.5,316.5 1123,318.3 1123.5,320.2 1124,322.7 1124.5,325.8 1125,329.5 1125.5,335.0 1126,342.7 1126.5,351.6 1127,361.0 1127.5,369.9 1128,379.1 1128.5,388.7 1129,396.5 1129.5,402.0 1130,406.7 1130.5,410.9 1131,415.1 1131.5,419.9 1132,425.1 1132.5,429.5 1133,432.1 1133.5,432.2 1134,430.7 1134.5,428.7 1135,426.9 1135.5,425.9 1136,426.1 1136.5,426.5 1137,426.5 1137.5,426.3 1138,426.2 1138.5,426.3 1139,426.8 1139.5,428.1 1140,432.5 1140.5,439.1 1141,446.6 1141.5,453.8 1142,459.5 1142.5,462.5 1143,463.7 1143.5,464.6 1144,465.3 1144.5,465.7 1145,465.7 1145.5,465.5 1146,465.1 1146.5,464.6 1147,464.0 1147.5,463.6 1148,463.3 1148.5,463.4 1149,463.9 1149.5,464.5 1150,465.1 1150.5,465.7 1151,466.2 1151.5,466.5 1152,466.5 1152.5,465.6 1153,463.9 1153.5,461.4 1154,458.2 1154.5,454.4 1155,450.1 1155.5,444.0 1156,435.4 1156.5,425.3 1157,415.0 1157.5,405.3 1158,397.0 1158.5,390.9 1159,387.7 1159.5,387.9 1160,390.1 1160.5,393.7 1161,398.0 1161.5,402.4 1162,406.6 1162.5,412.0 1163,418.2 1163.5,424.4 1164,429.7 1164.5,433.5 1165,435.0 1165.5,434.5 1166,433.0 1166.5,430.6 1167,427.4 1167.5,423.7 1168,419.7 1168.5,415.4 1169,411.2 1169.5,407.1 1170,403.1 1170.5,398.8 1171,393.8 1171.5,388.5 1172,383.4 1172.5,379.0 1173,374.7 1173.5,370.2 1174,366.9 1174.5,366.1 1175,368.0 1175.5,372.0 1176,377.7 1176.5,384.5 1177,391.8 1177.5,399.0 1178,405.5 1178.5,412.3 1179,420.4 1179.5,429.1 1180,437.6 1180.5,445.2 1181,451.3 1181.5,455.2 1182,456.3 1182.5,454.8 1183,451.5 1183.5,446.4 1184,440.0 1184.5,432.4 1185,423.8 1185.5,414.6 1186,405.2 1186.5,396.0 1187,387.2 1187.5,379.4 1188,372.8 1188.5,367.8 1189,364.6 1189.5,363.7 1190,364.5 1190.5,366.1 1191,368.3 1191.5,370.9 1192,373.7 1192.5,376.6 1193,379.6 1193.5,383.1 1194,387.2 1194.5,391.8 1195,396.8 1195.5,401.7 1196,406.1 1196.5,409.6 1197,412.5 1197.5,414.7 1198,416.5 1198.5,418.1 1199,420.1 1199.5,422.3 1200,424.4 1200.5,426.3 1201,427.7 1201.5,428.4 1202,428.5 1202.5,428.2 1203,426.9 1203.5,424.5 1204,421.3 1204.5,417.2 1205,412.3 1205.5,406.7 1206,400.3 1206.5,393.5 1207,386.7 1207.5,380.3 1208,374.7 1208.5,370.0 1209,366.5 1209.5,364.2 1210,363.5 1210.5,363.8 1211,364.6 1211.5,365.8 1212,367.5 1212.5,371.3 1213,378.2 1213.5,386.7 1214,395.1 1214.5,401.9 1215,405.9 1215.5,406.2 1216,404.7 1216.5,402.4 1217,399.3 1217.5,395.5 1218,391.0 1218.5,386.0 1219,380.8 1219.5,375.8 1220,371.4 1220.5,367.9 1221,365.4 1221.5,364.1 1222,364.2 1222.5,366.6 1223,370.8 1223.5,376.2 1224,382.2 1224.5,388.3 1225,393.7 1225.5,397.9 1226,400.0 1226.5,399.8 1227,398.3 1227.5,395.6 1228,392.0 1228.5,387.8 1229,383.5 1229.5,379.2 1230,375.1 1230.5,371.2 1231,367.7 1231.5,364.8 1232,362.6 1232.5,361.6 1233,361.6 1233.5,362.4 1234,363.8 1234.5,365.6 1235,367.9 1235.5,370.4 1236,373.0 1236.5,375.7 1237,378.4 1237.5,381.0 1238,383.5 1238.5,385.7 1239,387.4 1239.5,388.6 1240,389.2 1240.5,388.7 1241,386.5 1241.5,382.8 1242,378.0 1242.5,372.4 1243,366.2 1243.5,359.7 1244,353.0 1244.5,346.5 1245,340.6 1245.5,335.7 1246,332.2 1246.5,330.6 1247,331.2 1247.5,334.9 1248,341.1 1248.5,349.0 1249,358.0 1249.5,367.3 1250,376.4 1250.5,384.8 1251,391.9 1251.5,397.1 1252,399.9 1252.5,400.6 1253,401.2 1253.5,401.7 1254,402.0 1254.5,402.1 1255,402.0 1255.5,401.9 1256,401.8 1256.5,401.7 1257,400.2 1257.5,397.1 1258,392.6 1258.5,387.3 1259,381.3"/>
<polyline stroke="#b8860b" points="108,304.4 108.5,305.8 109,307.4 109.5,308.9 110,310.2 110.5,311.2 111,312.0 111.5,312.9 112,314.0 112.5,314.7 113,315.0 113.5,315.0 114,314.9 114.5,315.1 115,315.9 115.5,317.1 116,318.4 116.5,319.1 117,319.1 117.5,318.6 118,318.1 118.5,317.7 119,317.3 119.5,317.1 120,316.6 120.5,316.0 121,315.2 121.5,314.7 122,314.5 122.5,314.6 123,315.1 123.5,316.1 124,317.4 124.5,318.6 125,319.3 125.5,319.8 126,320.6 126.5,321.7 127,322.8 127.5,323.5 128,323.4 128.5,322.3 129,320.6 129.5,319.0 130,317.9 130.5,317.4 131,317.8 131.5,318.4 132,319.0 132.5,319.3 133,319.6 133.5,319.8 134,319.9 134.5,320.1 135,321.0 135.5,322.5 136,324.7 136.5,327.2 137,329.8 137.5,332.1 138,333.7 138.5,334.2 139,333.5 139.5,331.9 140,329.9 140.5,327.8 141,326.1 141.5,324.4 142,322.4 142.5,320.2 143,317.9 143.5,315.6 144,313.6 144.5,312.0 145,311.1 145.5,311.0 146,311.7 146.5,312.8 147,314.2 147.5,315.7 148,317.2 148.5,318.5 149,320.0 149.5,322.0 150,324.3 150.5,326.7 151,329.1 151.5,331.2 152,333.1 152.5,334.3 153,334.6 153.5,334.1 154,333.0 154.5,331.3 155,329.3 155.5,327.1 156,325.0 156.5,322.6 157,319.6 157.5,316.4 158,313.5 158.5,311.4 159,310.2 159.5,310.3 160,311.4 160.5,313.2 161,315.1 161.5,317.0 162,318.8 162.5,321.1 163,323.4 163.5,324.5 164,322.6 164.5,318.4 165,315.0 165.5,314.8 166,316.9 166.5,319.8 167,322.1 167.5,322.7 168,322.7 168.5,322.4 169,321.8 169.5,321.0 170,319.9 170.5,318.7 171,317.5 171.5,316.5 172,315.6 172.5,314.7 173,314.1 173.5,313.6 174,313.3 174.5,313.3 175,313.6 175.5,315.3 176,317.9 176.5,320.4 177,322.2 177.5,322.3 178,320.8 178.5,318.2 179,315.0 179.5,311.7 180,308.9 180.5,307.4 181,307.4 181.5,308.5 182,310.1 182.5,312.1 183,313.9 183.5,315.4 184,317.1 184.5,318.9 185,321.0 185.5,323.3 186,325.6 186.5,327.5 187,328.6 187.5,328.5 188,326.9 188.5,324.4 189,321.5 189.5,318.7 190,316.7 190.5,315.8 191,316.3 191.5,317.7 192,319.2 192.5,320.5 193,321.2 193.5,320.8 194,319.3 194.5,317.4 195,315.5 195.5,314.0 196,313.1 196.5,312.2 197,311.2 197.5,310.2 198,309.3 198.5,308.6 199,308.2 199.5,308.1 200,308.6 200.5,310.9 201,314.6 201.5,318.9 202,323.1 202.5,326.5 203,328.6 203.5,328.4 204,326.0 204.5,322.4 205,318.9 205.5,316.6 206,316.7 206.5,318.4 207,321.0 207.5,323.6 208,325.3 208.5,325.3 209,323.4 209.5,320.6 210,317.7 210.5,315.7 211,315.4 211.5,315.4 212,315.8 212.5,316.5 213,317.5 213.5,318.6 214,319.7 214.5,322.1 215,325.7 215.5,328.3 216,328.2 216.5,327.1 217,325.6 217.5,324.0 218,322.3 218.5,320.8 219,319.5 219.5,318.7 220,318.0 220.5,318.0 221,318.8 221.5,320.0 222,321.4 222.5,322.7 223,323.9 223.5,324.7 224,325.3 224.5,325.5 225,324.8 225.5,323.1 226,320.8 226.5,318.3 227,316.1 227.5,313.9 228,311.4 228.5,309.1 229,307.5 229.5,307.2 230,308.1 230.5,309.9 231,312.0 231.5,314.0 232,315.7 232.5,317.3 233,319.1 233.5,321.0 234,322.9 234.5,324.9 235,326.8 235.5,328.6 236,330.2 236.5,331.5 237,332.3 237.5,331.8 238,329.9 238.5,326.8 239,323.1 239.5,319.1 240,315.6 240.5,312.7 241,309.7 241.5,307.2 242,306.0 242.5,306.4 243,307.8 243.5,309.7 244,311.5 244.5,312.7 245,313.1 245.5,312.9 246,312.3 246.5,311.7 247,311.4 247.5,311.7 248,312.9 248.5,314.5 249,316.0 249.5,317.2 250,317.7 250.5,317.8 251,317.7 251.5,317.6 252,317.7 252.5,318.4 253,319.2 253.5,320.0 254,320.5 254.5,320.5 255,320.2 255.5,320.2 256,321.9 256.5,325.0 257,328.5 257.5,331.1 258,331.8 258.5,331.1 259,329.7 259.5,328.2 260,327.1 260.5,327.0 261,328.7 261.5,331.5 262,334.4 262.5,336.4 263,336.4 263.5,332.4 264,326.0 264.5,319.5 265,315.0 265.5,314.3 266,315.0 266.5,316.1 267,317.3 267.5,318.4 268,319.3 268.5,319.8 269,320.1 269.5,320.0 270,318.8 270.5,316.1 271,312.9 271.5,310.2 272,308.9 272.5,309.5 273,311.6 273.5,314.6 274,318.0 274.5,321.3 275,323.8 275.5,324.5 276,323.1 276.5,319.6 277,314.8 277.5,309.3 278,303.9 278.5,299.4 279,296.4 279.5,295.3 280,296.0 280.5,297.7 281,300.0 281.5,302.7 282,305.4 282.5,309.0 283,313.6 283.5,318.5 284,322.8 284.5,325.8 285,326.6 285.5,324.8 286,320.9 286.5,316.1 287,311.5 287.5,308.0 288,306.7 288.5,306.9 289,307.4 289.5,307.9 290,308.6 290.5,310.5 291,314.2 291.5,318.7 292,323.1 292.5,326.5 293,327.9 293.5,327.8 294,327.5 294.5,327.2 295,327.0 295.5,327.7 296,329.4 296.5,331.8 297,334.7 297.5,337.6 298,340.4 298.5,342.7 299,344.3 299.5,344.9 300,344.3 300.5,342.9 301,340.7 301.5,338.2 302,335.5 302.5,332.9 303,330.5 303.5,328.1 304,325.4 304.5,322.4 305,319.6 305.5,317.2 306,315.4 306.5,314.2 307,313.2 307.5,312.7 308,312.6 308.5,312.8 309,312.7 309.5,312.5 310,312.2 310.5,312.0 311,311.9 311.5,312.0 312,312.2 312.5,312.7 313,313.3 313.5,313.8 314,314.0 314.5,313.4 315,312.1 315.5,310.6 316,309.6 316.5,309.6 317,310.7 317.5,312.8 318,315.4 318.5,320.1 319,325.9 319.5,328.9 320,326.8 320.5,321.4 321,314.9 321.5,309.3 322,306.7 322.5,307.0 323,308.3 323.5,310.2 324,312.5 324.5,314.7 325,316.4 325.5,317.8 326,318.9 326.5,319.9 327,320.7 327.5,321.1 328,321.2 328.5,321.0 329,320.7 329.5,320.2 330,319.6 330.5,318.9 331,318.3 331.5,317.2 332,315.5 332.5,313.6 333,311.8 333.5,310.5 334,310.0 334.5,310.9 335,313.1 335.5,316.1 336,319.5 336.5,322.8 337,325.7 337.5,327.7 338,328.3 338.5,327.9 339,327.0 339.5,325.8 340,324.6 340.5,323.4 341,322.4 341.5,321.9 342,321.9 342.5,322.3 343,322.9 343.5,323.4 344,323.8 344.5,324.1 345,324.1 345.5,323.7 346,322.7 346.5,321.3 347,319.5 347.5,317.4 348,315.2 348.5,313.1 349,311.8 349.5,313.1 350,317.3 350.5,322.0 351,324.6 351.5,324.7 352,323.8 352.5,322.0 353,319.9 353.5,317.8 354,316.0 354.5,314.8 355,314.3 355.5,314.1 356,313.8 356.5,313.5 357,313.0 357.5,312.5 358,312.1 358.5,311.7 359,311.6 359.5,312.6 360,315.1 360.5,318.4 361,321.7 361.5,324.3 362,325.3 362.5,324.7 363,323.4 363.5,321.7 364,319.9 364.5,318.6 365,318.1 365.5,318.6 366,319.6 366.5,320.9 367,322.1 367.5,322.9 368,323.0 368.5,322.4 369,321.4 369.5,320.3 370,319.3 370.5,318.6 371,318.3 371.5,317.5 372,316.1 372.5,314.0 373,311.6 373.5,309.6 374,308.6 374.5,308.5 375,309.1 375.5,310.1 376,311.1 376.5,311.9 377,312.2 377.5,312.0 378,311.6 378.5,311.4 379,311.5 379.5,311.8 380,311.8 380.5,311.7 381,311.6 381.5,311.8 382,312.2 382.5,312.7 383,313.3 383.5,313.7 384,313.8 384.5,313.6 385,313.5 385.5,313.6 386,313.9 386.5,314.1 387,314.3 387.5,314.6 388,315.1 388.5,315.9 389,316.9 389.5,317.9 390,319.0 390.5,319.8 391,320.2 391.5,319.3 392,316.7 392.5,313.7 393,311.1 393.5,309.8 394,309.5 394.5,309.1 395,308.4 395.5,308.5 396,309.7 396.5,312.1 397,315.3 397.5,319.0 398,322.4 398.5,324.9 399,326.9 399.5,328.4 400,329.7 400.5,331.1 401,332.7 401.5,334.5 402,336.6 402.5,338.6 403,340.5 403.5,342.2 404,343.5 404.5,344.3 405,344.5 405.5,342.3 406,336.4 406.5,328.5 407,320.0 407.5,312.5 408,307.6 408.5,306.5 409,306.5 409.5,306.8 410,307.1 410.5,307.3 411,307.2 411.5,307.0 412,307.1 412.5,308.9 413,312.1 413.5,316.2 414,320.6 414.5,324.7 415,327.9 415.5,329.6 416,329.6 416.5,328.5 417,326.7 417.5,324.5 418,321.9 418.5,318.9 419,315.3 419.5,311.4 420,307.4 420.5,303.8 421,301.1 421.5,299.5 422,298.8 422.5,298.3 423,297.7 423.5,297.1 424,296.5 424.5,295.9 425,295.4 425.5,294.9 426,294.7 426.5,294.7 427,295.2 427.5,295.9 428,296.9 428.5,298.1 429,299.2 429.5,299.9 430,300.2 430.5,300.0 431,299.3 431.5,298.4 432,297.3 432.5,296.2 433,295.2 433.5,294.3 434,293.6 434.5,293.2 435,293.1 435.5,294.0 436,296.2 436.5,299.2 437,302.3 437.5,305.0 438,306.8 438.5,307.1 439,306.0 439.5,304.0 440,301.4 440.5,298.5 441,295.9 441.5,293.9 442,292.8 442.5,291.8 443,291.0 443.5,290.3 444,289.6 444.5,288.8 445,288.1 445.5,287.4 446,286.8 446.5,286.5 447,286.6 447.5,287.4 448,288.9 448.5,290.6 449,292.5 449.5,294.2 450,295.9 450.5,297.4 451,298.9 451.5,300.3 452,301.5 452.5,302.3 453,301.8 453.5,299.7 454,296.2 454.5,291.7 455,286.9 455.5,282.1 456,277.8 456.5,274.4 457,272.3 457.5,271.5 458,272.0 458.5,273.0 459,274.4 459.5,276.2 460,278.2 460.5,280.2 461,282.0 461.5,283.5 462,284.4 462.5,285.1 463,285.6 463.5,286.0 464,286.2 464.5,286.3 465,286.4 465.5,286.6 466,287.0 466.5,287.6 467,288.5 467.5,289.5 468,290.5 468.5,291.2 469,291.6 469.5,291.8 470,291.9 470.5,292.0 471,292.3 471.5,292.6 472,292.7 472.5,291.4 473,288.9 473.5,285.8 474,282.4 474.5,279.3 475,276.8 475.5,274.8 476,273.0 476.5,271.2 477,269.6 477.5,268.1 478,266.7 478.5,265.4 479,264.2 479.5,263.1 480,262.1 480.5,261.1 481,260.2 481.5,259.3 482,258.3 482.5,257.2 483,256.0 483.5,254.8 484,253.8 484.5,252.8 485,251.9 485.5,250.7 486,249.2 486.5,247.4 487,245.3 487.5,243.3 488,241.4 488.5,239.7 489,238.6 489.5,238.1 490,238.1 490.5,238.7 491,239.8 491.5,241.1 492,242.6 492.5,244.3 493,246.1 493.5,248.2 494,250.5 494.5,252.8 495,254.9 495.5,256.3 496,256.8 496.5,256.5 497,255.7 497.5,254.6 498,253.3 498.5,251.8 499,250.3 499.5,248.6 500,247.0 500.5,245.4 501,243.8 501.5,242.3 502,240.9 502.5,239.5 503,238.3 503.5,237.0 504,235.6 504.5,234.1 505,232.5 505.5,230.9 506,229.4 506.5,227.9 507,226.6 507.5,225.4 508,224.3 508.5,223.3 509,222.5 509.5,221.8 510,221.5 510.5,221.5 511,221.8 511.5,222.5 512,223.2 512.5,224.0 513,224.8 513.5,225.3 514,225.7 514.5,226.0 515,226.4 515.5,227.0 516,227.8 516.5,228.6 517,229.5 517.5,230.2 518,230.8 518.5,231.3 519,231.7 519.5,231.9 520,232.0 520.5,231.3 521,229.4 521.5,226.9 522,223.9 522.5,221.0 523,218.5 523.5,216.7 524,216.1 524.5,216.2 525,216.2 525.5,216.3 526,216.4 526.5,216.4 527,216.4 527.5,216.3 528,216.1 528.5,216.0 529,215.8 529.5,215.7 530,215.8 530.5,215.9 531,215.9 531.5,216.0 532,215.9 532.5,215.7 533,215.4 533.5,215.0 534,214.6 534.5,214.2 535,214.0 535.5,213.9 536,213.9 536.5,213.9 537,213.9 537.5,213.7 538,213.5 538.5,213.1 539,212.7 539.5,212.3 540,212.0 540.5,211.7 541,211.5 541.5,211.3 542,211.0 542.5,210.5 543,210.1 543.5,209.7 544,209.6 544.5,209.6 545,209.8 545.5,210.0 546,210.0 546.5,209.8 547,209.3 547.5,208.5 548,207.7 548.5,207.1 549,206.8 549.5,206.7 550,206.5 550.5,205.8 551,204.1 551.5,201.7 552,199.0 552.5,196.5 553,194.4 553.5,192.7 554,191.2 554.5,189.9 555,188.5 555.5,187.2 556,186.4 556.5,186.2 557,186.8 557.5,188.0 558,189.7 558.5,191.6 559,193.6 559.5,195.5 560,197.4 560.5,199.0 561,200.5 561.5,201.6 562,202.1 562.5,201.6 563,199.8 563.5,197.0 564,193.7 564.5,190.2 565,186.8 565.5,183.9 566,181.8 566.5,180.7 567,181.3 567.5,184.9 568,189.8 568.5,194.0 569,195.8 569.5,195.7 570,195.6 570.5,195.2 571,194.4 571.5,193.0 572,191.0 572.5,188.7 573,186.3 573.5,184.0 574,182.1 574.5,180.3 575,178.6 575.5,176.9 576,175.1 576.5,173.1 577,171.0 577.5,168.5 578,165.8 578.5,163.3 579,161.1 579.5,159.3 580,158.1 580.5,157.4 581,157.7 581.5,161.3 582,167.0 582.5,172.8 583,176.8 583.5,177.5 584,176.2 584.5,173.7 585,170.1 585.5,165.9 586,161.3 586.5,156.6 587,152.3 587.5,149.0 588,146.6 588.5,144.7 589,143.2 589.5,141.9 590,140.6 590.5,139.1 591,137.3 591.5,135.3 592,133.4 592.5,131.6 593,130.3 593.5,129.5 594,129.1 594.5,128.7 595,127.9 595.5,126.6 596,124.5 596.5,121.9 597,119.3 597.5,117.0 598,115.6 598.5,115.3 599,116.0 599.5,117.7 600,120.0 600.5,122.3 601,124.2 601.5,125.7 602,126.8 602.5,127.5 603,127.7 603.5,127.4 604,126.7 604.5,125.5 605,124.0 605.5,122.2 606,120.4 606.5,118.7 607,116.8 607.5,114.6 608,112.5 608.5,110.6 609,108.9 609.5,107.6 610,106.8 610.5,106.1 611,105.5 611.5,105.0 612,104.8 612.5,104.6 613,104.5 613.5,104.4 614,104.2 614.5,103.9 615,103.5 615.5,103.0 616,102.3 616.5,101.3 617,100.1 617.5,98.8 618,97.4 618.5,96.0 619,94.6 619.5,93.2 620,91.8 620.5,90.5 621,89.4 621.5,89.1 622,91.5 622.5,96.4 623,102.7 623.5,109.3 624,114.8 624.5,118.0 625,118.6 625.5,118.6 626,118.5 626.5,118.4 627,118.5 627.5,118.8 628,119.6 628.5,120.7 629,121.8 629.5,122.6 630,122.9 630.5,122.7 631,122.6 631.5,122.6 632,122.6 632.5,122.5 633,122.2 633.5,121.9 634,123.1 634.5,125.5 635,128.5 635.5,131.4 636,133.1 636.5,134.2 637,135.2 637.5,136.9 638,141.8 638.5,147.8 639,152.4 639.5,153.1 640,151.3 640.5,148.8 641,146.9 641.5,146.5 642,146.6 642.5,146.8 643,147.1 643.5,147.3 644,147.6 644.5,148.6 645,150.5 645.5,152.7 646,154.8 646.5,156.1 647,156.2 647.5,155.3 648,154.0 648.5,152.6 649,151.6 649.5,151.8 650,156.7 650.5,164.2 651,171.2 651.5,175.0 652,177.7 652.5,179.4 653,179.3 653.5,177.5 654,175.1 654.5,173.4 655,173.7 655.5,176.5 656,180.1 656.5,182.9 657,183.7 657.5,184.1 658,184.4 658.5,184.6 659,184.8 659.5,185.1 660,185.6 660.5,186.2 661,187.0 661.5,187.9 662,188.7 662.5,189.5 663,190.2 663.5,190.7 664,191.1 664.5,191.4 665,191.7 665.5,192.0 666,192.3 666.5,192.5 667,192.5 667.5,192.4 668,192.3 668.5,193.1 669,195.6 669.5,199.4 670,204.0 670.5,208.8 671,213.7 671.5,219.2 672,223.7 672.5,228.0 673,231.1 673.5,231.6 674,231.4 674.5,230.9 675,230.2 675.5,229.1 676,227.8 676.5,226.7 677,226.4 677.5,227.3 678,229.2 678.5,231.7 679,234.1 679.5,236.0 680,236.7 680.5,236.2 681,235.1 681.5,233.9 682,232.8 682.5,232.1 683,231.8 683.5,232.0 684,232.6 684.5,233.4 685,234.4 685.5,235.5 686,236.8 686.5,238.1 687,239.5 687.5,240.8 688,242.0 688.5,243.1 689,244.3 689.5,245.4 690,246.7 690.5,248.1 691,249.7 691.5,251.4 692,253.1 692.5,254.7 693,256.2 693.5,257.6 694,258.8 694.5,259.9 695,261.0 695.5,261.8 696,262.5 696.5,262.9 697,262.9 697.5,262.0 698,260.5 698.5,258.8 699,257.1 699.5,255.8 700,255.3 700.5,255.3 701,255.5 701.5,256.0 702,256.6 702.5,257.5 703,258.5 703.5,259.7 704,260.9 704.5,262.2 705,263.5 705.5,265.0 706,266.5 706.5,268.1 707,269.7 707.5,271.7 708,273.8 708.5,276.0 709,277.9 709.5,279.7 710,281.2 710.5,282.6 711,283.9 711.5,284.7 712,284.8 712.5,284.0 713,282.6 713.5,280.8 714,279.2 714.5,278.1 715,278.0 715.5,281.5 716,288.3 716.5,293.6 717,293.7 717.5,291.0 718,287.1 718.5,283.4 719,281.2 719.5,281.4 720,282.5 720.5,284.0 721,285.6 721.5,287.0 722,288.3 722.5,289.5 723,290.7 723.5,292.1 724,294.3 724.5,297.4 725,301.2 725.5,305.3 726,309.6 726.5,313.6 727,317.1 727.5,319.6 728,320.8 728.5,320.7 729,320.1 729.5,319.6 730,319.2 730.5,319.1 731,319.2 731.5,317.8 732,314.8 732.5,310.6 733,305.4 733.5,299.9 734,294.6 734.5,290.3 735,287.8 735.5,286.4 736,285.1 736.5,283.7 737,282.1 737.5,280.6 738,279.2 738.5,278.2 739,277.7 739.5,278.1 740,280.1 740.5,283.1 741,286.7 741.5,290.1 742,293.3 742.5,296.9 743,300.8 743.5,304.8 744,308.5 744.5,311.5 745,313.4 745.5,314.6 746,315.7 746.5,316.7 747,317.7 747.5,318.7 748,319.4 748.5,319.8 749,319.7 749.5,319.2 750,318.1 750.5,316.9 751,315.5 751.5,314.1 752,313.0 752.5,312.1 753,311.7 753.5,311.8 754,312.2 754.5,312.6 755,312.8 755.5,312.9 756,312.8 756.5,312.7 757,312.3 757.5,311.9 758,311.6 758.5,311.3 759,311.2 759.5,311.2 760,311.3 760.5,312.6 761,314.4 761.5,315.3 762,316.0 762.5,316.6 763,317.1 763.5,317.4 764,317.6 764.5,317.4 765,316.6 765.5,315.4 766,313.8 766.5,312.1 767,310.2 767.5,307.9 768,305.0 768.5,302.0 769,299.5 769.5,297.9 770,297.6 770.5,298.7 771,300.6 771.5,302.9 772,305.0 772.5,306.8 773,308.2 773.5,309.4 774,310.8 774.5,312.3 775,314.2 775.5,316.1 776,318.2 776.5,320.4 777,323.0 777.5,325.5 778,327.9 778.5,329.8 779,331.1 779.5,331.6 780,331.4 780.5,330.7 781,329.9 781.5,329.1 782,328.3 782.5,327.4 783,326.5 783.5,324.7 784,322.2 784.5,319.8 785,318.4 785.5,318.1 786,318.4 786.5,319.1 787,319.9 787.5,320.5 788,320.8 788.5,320.7 789,320.3 789.5,319.9 790,319.4 790.5,318.8 791,318.3 791.5,317.8 792,317.2 792.5,316.5 793,315.6 793.5,314.5 794,313.4 794.5,312.5 795,311.7 795.5,311.3 796,311.1 796.5,311.0 797,310.8 797.5,310.4 798,309.7 798.5,308.8 799,307.9 799.5,307.1 800,306.6 800.5,307.0 801,308.6 801.5,310.9 802,313.3 802.5,315.3 803,316.2 803.5,316.1 804,315.8 804.5,315.6 805,315.9 805.5,316.6 806,317.4 806.5,318.1 807,318.5 807.5,318.2 808,317.5 808.5,316.7 809,315.9 809.5,315.3 810,314.6 810.5,314.0 811,313.5 811.5,312.9 812,312.4 812.5,312.6 813,313.6 813.5,315.4 814,317.5 814.5,319.4 815,320.3 815.5,320.0 816,318.6 816.5,316.6 817,314.5 817.5,312.7 818,311.8 818.5,312.3 819,313.9 819.5,316.3 820,318.9 820.5,321.1 821,322.4 821.5,323.1 822,323.7 822.5,324.2 823,324.6 823.5,324.9 824,325.0 824.5,323.9 825,320.8 825.5,316.5 826,311.5 826.5,306.5 827,302.1 827.5,299.0 828,297.8 828.5,298.4 829,300.0 829.5,302.3 830,304.9 830.5,307.5 831,309.7 831.5,311.9 832,314.2 832.5,316.6 833,318.9 833.5,320.9 834,322.6 834.5,324.1 835,325.6 835.5,327.0 836,328.3 836.5,329.3 837,330.0 837.5,330.6 838,331.1 838.5,331.7 839,332.3 839.5,332.3 840,331.3 840.5,329.5 841,326.8 841.5,323.6 842,320.3 842.5,317.3 843,314.9 843.5,312.7 844,310.5 844.5,308.8 845,308.2 845.5,308.7 846,309.9 846.5,311.2 847,312.6 847.5,313.6 848,314.0 848.5,313.8 849,313.5 849.5,313.1 850,312.5 850.5,311.8 851,311.1 851.5,310.2 852,309.1 852.5,307.9 853,306.8 853.5,305.4 854,303.5 854.5,301.5 855,299.7 855.5,298.4 856,298.1 856.5,298.7 857,300.2 857.5,302.0 858,303.7 858.5,305.2 859,306.1 859.5,306.5 860,307.0 860.5,307.5 861,308.0 861.5,308.3 862,308.5 862.5,307.8 863,305.9 863.5,303.4 864,300.9 864.5,299.1 865,298.5 865.5,300.6 866,305.3 866.5,311.4 867,317.4 867.5,321.9 868,323.7 868.5,321.5 869,316.8 869.5,312.2 870,310.1 870.5,312.4 871,317.6 871.5,322.8 872,325.2 872.5,325.0 873,324.6 873.5,323.9 874,323.1 874.5,322.3 875,321.5 875.5,320.8 876,320.1 876.5,319.5 877,318.9 877.5,318.3 878,317.4 878.5,316.4 879,315.8 879.5,316.4 880,318.4 880.5,321.0 881,323.5 881.5,326.0 882,328.8 882.5,331.6 883,334.0 883.5,335.6 884,336.3 884.5,335.4 885,333.2 885.5,330.2 886,326.7 886.5,323.3 887,320.5 887.5,318.0 888,315.5 888.5,313.2 889,311.3 889.5,309.9 890,308.7 890.5,307.8 891,307.2 891.5,306.7 892,306.4 892.5,306.3 893,306.6 893.5,307.5 894,308.7 894.5,310.2 895,311.5 895.5,312.7 896,313.7 896.5,314.4 897,314.8 897.5,315.0 898,315.1 898.5,315.2 899,315.5 899.5,315.7 900,315.9 900.5,316.0 901,315.9 901.5,318.0 902,322.6 902.5,327.1 903,328.9 903.5,326.1 904,320.7 904.5,315.4 905,313.2 905.5,313.9 906,315.2 906.5,316.6 907,318.1 907.5,319.2 908,319.7 908.5,320.4 909,321.8 909.5,323.2 910,324.0 910.5,322.8 911,319.4 911.5,315.3 912,311.7 912.5,308.3 913,304.6 913.5,301.5 914,300.0 914.5,301.5 915,305.8 915.5,311.2 916,316.1 916.5,320.9 917,326.1 917.5,330.2 918,331.7 918.5,330.0 919,326.5 919.5,323.1 920,321.9 920.5,322.4 921,323.0 921.5,323.5 922,323.8 922.5,324.1 923,324.9 923.5,326.0 924,327.7 924.5,329.5 925,331.4 925.5,333.4 926,335.6 926.5,337.9 927,340.0 927.5,341.9 928,343.5 928.5,344.5 929,344.8 929.5,344.2 930,343.0 930.5,341.4 931,339.9 931.5,338.8 932,338.4 932.5,338.5 933,338.5 933.5,338.3 934,338.1 934.5,337.7 935,337.3 935.5,336.3 936,334.1 936.5,331.4 937,329.0 937.5,327.2 938,326.6 938.5,328.1 939,331.1 939.5,334.0 940,335.3 940.5,334.3 941,331.4 941.5,327.6 942,323.6 942.5,320.2 943,318.0 943.5,316.6 944,315.2 944.5,313.7 945,312.1 945.5,310.3 946,308.8 946.5,307.7 947,307.2 947.5,308.3 948,311.0 948.5,314.0 949,316.1 949.5,317.2 950,318.0 950.5,318.5 951,318.9 951.5,319.2 952,319.7 952.5,320.4 953,321.0 953.5,321.6 954,321.9 954.5,322.0 955,321.9 955.5,321.5 956,320.8 956.5,319.9 957,319.0 957.5,318.2 958,317.5 958.5,317.0 959,316.9 959.5,317.2 960,317.8 960.5,318.6 961,319.6 961.5,320.4 962,321.0 962.5,321.4 963,321.7 963.5,322.1 964,322.8 964.5,323.9 965,325.6 965.5,329.0 966,333.9 966.5,338.1 967,339.5 967.5,338.8 968,338.2 968.5,338.0 969,338.0 969.5,338.2 970,338.4 970.5,338.1 971,337.4 971.5,336.2 972,334.8 972.5,333.2 973,331.5 973.5,327.8 974,321.3 974.5,313.4 975,305.9 975.5,300.4 976,298.3 976.5,298.5 977,298.8 977.5,299.2 978,299.7 978.5,300.3 979,301.0 979.5,303.7 980,308.7 980.5,313.6 981,315.8 981.5,315.6 982,315.3 982.5,315.0 983,314.9 983.5,315.4 984,316.7 984.5,318.5 985,320.5 985.5,323.6 986,327.8 986.5,331.3 987,332.6 987.5,330.5 988,326.1 988.5,321.9 989,320.1 989.5,321.6 990,325.1 990.5,329.5 991,333.8 991.5,336.8 992,337.7 992.5,336.8 993,335.4 993.5,333.8 994,332.3 994.5,331.3 995,330.7 995.5,330.4 996,330.2 996.5,329.6 997,328.7 997.5,326.3 998,322.3 998.5,318.8 999,317.4 999.5,318.8 1000,322.0 1000.5,326.3 1001,331.0 1001.5,335.6 1002,339.4 1002.5,342.0 1003,342.8 1003.5,340.6 1004,335.3 1004.5,328.4 1005,321.6 1005.5,316.5 1006,314.4 1006.5,315.8 1007,318.8 1007.5,322.4 1008,325.0 1008.5,326.8 1009,328.5 1009.5,330.0 1010,331.3 1010.5,332.1 1011,332.5 1011.5,332.6 1012,332.5 1012.5,331.7 1013,329.8 1013.5,327.6 1014,325.3 1014.5,323.7 1015,323.1 1015.5,323.9 1016,325.8 1016.5,328.3 1017,331.0 1017.5,333.7 1018,336.0 1018.5,337.7 1019,338.4 1019.5,338.3 1020,337.6 1020.5,336.5 1021,335.0 1021.5,333.2 1022,331.4 1022.5,329.9 1023,329.2 1023.5,329.2 1024,329.7 1024.5,330.4 1025,331.1 1025.5,331.9 1026,332.4 1026.5,332.3 1027,331.5 1027.5,330.1 1028,328.2 1028.5,326.2 1029,324.3 1029.5,322.6 1030,320.9 1030.5,319.0 1031,317.0 1031.5,314.9 1032,312.8 1032.5,311.0 1033,309.5 1033.5,308.5 1034,307.6 1034.5,307.0 1035,306.6 1035.5,306.5 1036,306.6 1036.5,308.4 1037,312.5 1037.5,317.8 1038,323.0 1038.5,326.7 1039,328.0 1039.5,326.8 1040,324.3 1040.5,321.0 1041,317.6 1041.5,314.2 1042,311.4 1042.5,309.4 1043,308.7 1043.5,310.1 1044,313.4 1044.5,318.0 1045,323.0 1045.5,327.7 1046,331.1 1046.5,333.7 1047,336.3 1047.5,338.2 1048,338.9 1048.5,336.6 1049,331.1 1049.5,324.8 1050,320.0 1050.5,316.7 1051,313.7 1051.5,311.4 1052,310.7 1052.5,311.2 1053,312.0 1053.5,312.8 1054,313.3 1054.5,313.6 1055,313.5 1055.5,312.9 1056,311.8 1056.5,310.9 1057,310.6 1057.5,311.7 1058,314.1 1058.5,317.0 1059,320.0 1059.5,322.2 1060,323.1 1060.5,322.8 1061,322.0 1061.5,321.1 1062,320.0 1062.5,318.9 1063,318.1 1063.5,317.2 1064,316.2 1064.5,315.2 1065,314.3 1065.5,313.6 1066,313.2 1066.5,313.8 1067,315.8 1067.5,318.6 1068,321.4 1068.5,323.8 1069,325.0 1069.5,324.8 1070,323.6 1070.5,321.8 1071,319.9 1071.5,318.3 1072,317.6 1072.5,317.7 1073,318.0 1073.5,318.5 1074,319.3 1074.5,320.0 1075,320.7 1075.5,321.5 1076,322.7 1076.5,324.0 1077,325.4 1077.5,326.5 1078,327.1 1078.5,326.1 1079,323.8 1079.5,321.4 1080,320.2 1080.5,320.6 1081,321.6 1081.5,323.1 1082,324.6 1082.5,325.9 1083,326.6 1083.5,326.0 1084,323.9 1084.5,320.8 1085,317.1 1085.5,313.3 1086,309.7 1086.5,307.1 1087,305.9 1087.5,306.2 1088,307.3 1088.5,308.9 1089,310.8 1089.5,312.5 1090,313.8 1090.5,315.3 1091,317.6 1091.5,320.5 1092,323.8 1092.5,326.9 1093,328.8 1093.5,329.0 1094,327.8 1094.5,325.5 1095,322.7 1095.5,319.8 1096,317.4 1096.5,316.0 1097,315.8 1097.5,317.0 1098,319.1 1098.5,321.3 1099,323.2 1099.5,324.4 1100,324.6 1100.5,324.2 1101,324.0 1101.5,324.0 1102,324.1 1102.5,324.0 1103,323.5 1103.5,322.7 1104,321.8 1104.5,321.1 1105,321.0 1105.5,321.8 1106,323.2 1106.5,325.1 1107,327.0 1107.5,328.6 1108,329.8 1108.5,330.6 1109,331.1 1109.5,331.5 1110,331.5 1110.5,330.9 1111,329.6 1111.5,327.7 1112,325.3 1112.5,322.8 1113,320.0 1113.5,317.3 1114,314.9 1114.5,313.2 1115,312.5 1115.5,312.6 1116,312.9 1116.5,313.3 1117,313.7 1117.5,313.9 1118,314.2 1118.5,314.4 1119,314.8 1119.5,315.7 1120,317.1 1120.5,318.8 1121,320.8 1121.5,322.9 1122,325.0 1122.5,327.2 1123,330.1 1123.5,334.2 1124,339.1 1124.5,344.4 1125,349.9 1125.5,355.5 1126,361.4 1126.5,367.5 1127,373.7 1127.5,380.1 1128,387.3 1128.5,395.5 1129,404.1 1129.5,412.6 1130,420.1 1130.5,426.9 1131,433.7 1131.5,439.4 1132,443.2 1132.5,444.4 1133,443.0 1133.5,440.2 1134,436.5 1134.5,432.6 1135,429.3 1135.5,427.3 1136,427.0 1136.5,427.2 1137,427.7 1137.5,428.5 1138,429.3 1138.5,430.4 1139,431.6 1139.5,434.0 1140,441.0 1140.5,450.3 1141,459.0 1141.5,464.2 1142,464.5 1142.5,463.9 1143,462.9 1143.5,461.8 1144,460.6 1144.5,459.7 1145,459.0 1145.5,458.7 1146,458.7 1146.5,458.9 1147,459.1 1147.5,459.4 1148,459.7 1148.5,460.2 1149,460.9 1149.5,461.7 1150,462.6 1150.5,463.3 1151,463.5 1151.5,463.0 1152,461.6 1152.5,459.6 1153,457.2 1153.5,454.5 1154,451.6 1154.5,448.8 1155,446.1 1155.5,443.0 1156,439.0 1156.5,434.3 1157,429.2 1157.5,423.8 1158,418.6 1158.5,413.7 1159,409.8 1159.5,407.2 1160,406.4 1160.5,406.9 1161,408.1 1161.5,409.8 1162,411.8 1162.5,413.9 1163,419.2 1163.5,428.7 1164,439.3 1164.5,447.8 1165,451.2 1165.5,449.9 1166,446.6 1166.5,442.0 1167,436.7 1167.5,431.0 1168,425.4 1168.5,420.2 1169,414.0 1169.5,406.8 1170,399.3 1170.5,392.1 1171,385.7 1171.5,380.8 1172,377.1 1172.5,373.6 1173,370.8 1173.5,369.7 1174,371.3 1174.5,375.8 1175,382.3 1175.5,390.0 1176,398.0 1176.5,405.4 1177,412.9 1177.5,421.7 1178,430.9 1178.5,439.9 1179,448.3 1179.5,455.5 1180,461.2 1180.5,464.7 1181,465.4 1181.5,463.5 1182,459.7 1182.5,454.2 1183,447.5 1183.5,439.9 1184,432.0 1184.5,424.2 1185,417.1 1185.5,411.2 1186,405.4 1186.5,400.1 1187,395.0 1187.5,390.0 1188,384.6 1188.5,378.9 1189,373.5 1189.5,369.1 1190,366.3 1190.5,365.4 1191,366.7 1191.5,370.0 1192,374.7 1192.5,380.2 1193,385.9 1193.5,391.8 1194,397.6 1194.5,403.3 1195,408.8 1195.5,416.3 1196,424.9 1196.5,432.1 1197,435.6 1197.5,435.3 1198,433.4 1198.5,430.4 1199,427.1 1199.5,424.1 1200,422.1 1200.5,421.6 1201,422.1 1201.5,423.1 1202,424.3 1202.5,425.6 1203,426.6 1203.5,427.1 1204,426.1 1204.5,422.4 1205,416.9 1205.5,410.4 1206,403.7 1206.5,397.7 1207,392.7 1207.5,387.0 1208,380.5 1208.5,373.9 1209,367.9 1209.5,363.3 1210,361.1 1210.5,361.3 1211,363.1 1211.5,366.5 1212,370.9 1212.5,376.0 1213,381.2 1213.5,386.5 1214,395.3 1214.5,405.0 1215,412.0 1215.5,413.1 1216,411.5 1216.5,408.3 1217,403.9 1217.5,398.5 1218,392.3 1218.5,385.8 1219,379.3 1219.5,373.3 1220,368.3 1220.5,364.3 1221,361.4 1221.5,359.8 1222,359.5 1222.5,361.8 1223,366.5 1223.5,373.0 1224,380.9 1224.5,389.2 1225,396.7 1225.5,402.4 1226,404.9 1226.5,404.1 1227,401.5 1227.5,397.6 1228,392.9 1228.5,387.6 1229,382.0 1229.5,376.1 1230,370.2 1230.5,364.6 1231,359.7 1231.5,355.6 1232,352.7 1232.5,351.3 1233,352.4 1233.5,356.7 1234,362.9 1234.5,369.8 1235,376.0 1235.5,380.0 1236,380.7 1236.5,379.4 1237,377.4 1237.5,375.5 1238,374.6 1238.5,375.9 1239,379.3 1239.5,383.8 1240,388.5 1240.5,392.6 1241,395.1 1241.5,395.3 1242,392.7 1242.5,387.8 1243,381.2 1243.5,373.3 1244,364.8 1244.5,356.0 1245,347.7 1245.5,340.4 1246,334.9 1246.5,331.8 1247,331.7 1247.5,333.1 1248,335.8 1248.5,339.4 1249,343.7 1249.5,348.4 1250,353.2 1250.5,358.1 1251,362.8 1251.5,367.2 1252,371.2 1252.5,375.0 1253,379.4 1253.5,383.9 1254,388.2 1254.5,392.1 1255,395.3 1255.5,397.8 1256,399.4 1256.5,399.7 1257,397.3 1257.5,391.9 1258,384.0 1258.5,374.2 1259,362.9"/>
</g>
<rect x="108.5" y="62.5" width="1151" height="466" fill="none" stroke="#000" stroke-width="1"/>
<text x="104.4" y="69.1" text-anchor="end" class="t" textLength="6.6" lengthAdjust="spacingAndGlyphs">2</text>
<line x1="109" y1="114.5" x2="114" y2="114.5" stroke="#000"/>
<text x="104.4" y="120.1" text-anchor="end" class="t" textLength="15.3" lengthAdjust="spacingAndGlyphs">1.8</text>
<line x1="109" y1="166.5" x2="114" y2="166.5" stroke="#000"/>
<text x="104.4" y="172.1" text-anchor="end" class="t" textLength="15.3" lengthAdjust="spacingAndGlyphs">1.6</text>
<line x1="109" y1="217.5" x2="114" y2="217.5" stroke="#000"/>
<text x="104.4" y="223.1" text-anchor="end" class="t" textLength="15.3" lengthAdjust="spacingAndGlyphs">1.4</text>
<line x1="109" y1="269.5" x2="114" y2="269.5" stroke="#000"/>
<text x="104.4" y="275.1" text-anchor="end" class="t" textLength="15.3" lengthAdjust="spacingAndGlyphs">1.2</text>
<line x1="109" y1="321.5" x2="114" y2="321.5" stroke="#000"/>
<text x="104.4" y="327.1" text-anchor="end" class="t" textLength="6.6" lengthAdjust="spacingAndGlyphs">1</text>
<line x1="109" y1="373.5" x2="114" y2="373.5" stroke="#000"/>
<text x="104.4" y="379.1" text-anchor="end" class="t" textLength="15.3" lengthAdjust="spacingAndGlyphs">0.8</text>
<line x1="109" y1="424.5" x2="114" y2="424.5" stroke="#000"/>
<text x="104.4" y="430.1" text-anchor="end" class="t" textLength="15.3" lengthAdjust="spacingAndGlyphs">0.6</text>
<line x1="109" y1="476.5" x2="114" y2="476.5" stroke="#000"/>
<text x="104.4" y="482.1" text-anchor="end" class="t" textLength="15.3" lengthAdjust="spacingAndGlyphs">0.4</text>
<text x="104.4" y="534.1" text-anchor="end" class="t" textLength="15.3" lengthAdjust="spacingAndGlyphs">0.2</text>
<line x1="121.5" y1="523" x2="121.5" y2="528" stroke="#000"/>
<text x="121.6" y="549" text-anchor="middle" class="t" textLength="27.3" lengthAdjust="spacingAndGlyphs">6790</text>
<line x1="251.5" y1="523" x2="251.5" y2="528" stroke="#000"/>
<text x="251.6" y="549" text-anchor="middle" class="t" textLength="27.3" lengthAdjust="spacingAndGlyphs">6800</text>
<line x1="382.5" y1="523" x2="382.5" y2="528" stroke="#000"/>
<text x="382.6" y="549" text-anchor="middle" class="t" textLength="27.3" lengthAdjust="spacingAndGlyphs">6810</text>
<line x1="513.5" y1="523" x2="513.5" y2="528" stroke="#000"/>
<text x="513.6" y="549" text-anchor="middle" class="t" textLength="27.3" lengthAdjust="spacingAndGlyphs">6820</text>
<line x1="644.5" y1="523" x2="644.5" y2="528" stroke="#000"/>
<text x="644.6" y="549" text-anchor="middle" class="t" textLength="27.3" lengthAdjust="spacingAndGlyphs">6830</text>
<line x1="774.5" y1="523" x2="774.5" y2="528" stroke="#000"/>
<text x="774.6" y="549" text-anchor="middle" class="t" textLength="27.3" lengthAdjust="spacingAndGlyphs">6840</text>
<line x1="905.5" y1="523" x2="905.5" y2="528" stroke="#000"/>
<text x="905.6" y="549" text-anchor="middle" class="t" textLength="27.3" lengthAdjust="spacingAndGlyphs">6850</text>
<line x1="1036.5" y1="523" x2="1036.5" y2="528" stroke="#000"/>
<text x="1036.6" y="549" text-anchor="middle" class="t" textLength="27.3" lengthAdjust="spacingAndGlyphs">6860</text>
<line x1="1167.5" y1="523" x2="1167.5" y2="528" stroke="#000"/>
<text x="1167.6" y="549" text-anchor="middle" class="t" textLength="27.3" lengthAdjust="spacingAndGlyphs">6870</text>
<text x="649.2" y="31" text-anchor="middle" class="title" textLength="54.4" lengthAdjust="spacingAndGlyphs">AG DRA</text>
<text x="683.2" y="572" text-anchor="middle" class="ax" textLength="134.5" lengthAdjust="spacingAndGlyphs">Wavelength (Angstrom)</text>
<text transform="translate(63.2 295) rotate(-90)" text-anchor="middle" class="ax" textLength="97.5" lengthAdjust="spacingAndGlyphs">Relative intensity</text>
<line x1="1058" y1="86" x2="1080" y2="86" stroke="#2f4f4f" stroke-width="2"/>
<text x="1085" y="90.7" class="lg" textLength="76.8" lengthAdjust="spacingAndGlyphs">2017-05-22.839</text>
<text x="1168" y="90.7" class="lg" textLength="47" lengthAdjust="spacingAndGlyphs">J. Guarro</text>
<line x1="1058" y1="100" x2="1080" y2="100" stroke="#1e90ff" stroke-width="2"/>
<text x="1085" y="104.7" class="lg" textLength="76.8" lengthAdjust="spacingAndGlyphs">2017-05-23.879</text>
<text x="1168" y="104.7" class="lg" textLength="47" lengthAdjust="spacingAndGlyphs">J. Guarro</text>
<line x1="1058" y1="114" x2="1080" y2="114" stroke="#da70d6" stroke-width="2"/>
<text x="1085" y="118.7" class="lg" textLength="76.8" lengthAdjust="spacingAndGlyphs">2017-05-24.863</text>
<text x="1168" y="118.7" class="lg" textLength="42.2" lengthAdjust="spacingAndGlyphs">fteyssier</text>
<line x1="1058" y1="128" x2="1080" y2="128" stroke="#3cb371" stroke-width="2"/>
<text x="1085" y="132.7" class="lg" textLength="76.8" lengthAdjust="spacingAndGlyphs">2017-05-25.863</text>
<text x="1168" y="132.7" class="lg" textLength="42.2" lengthAdjust="spacingAndGlyphs">fteyssier</text>
<line x1="1058" y1="142" x2="1080" y2="142" stroke="#b8860b" stroke-width="2"/>
<text x="1085" y="146.7" class="lg" textLength="76.8" lengthAdjust="spacingAndGlyphs">2017-05-26.871</text>
<text x="1168" y="146.7" class="lg" textLength="42.2" lengthAdjust="spacingAndGlyphs">fteyssier</text>
</svg>
</body></html>
